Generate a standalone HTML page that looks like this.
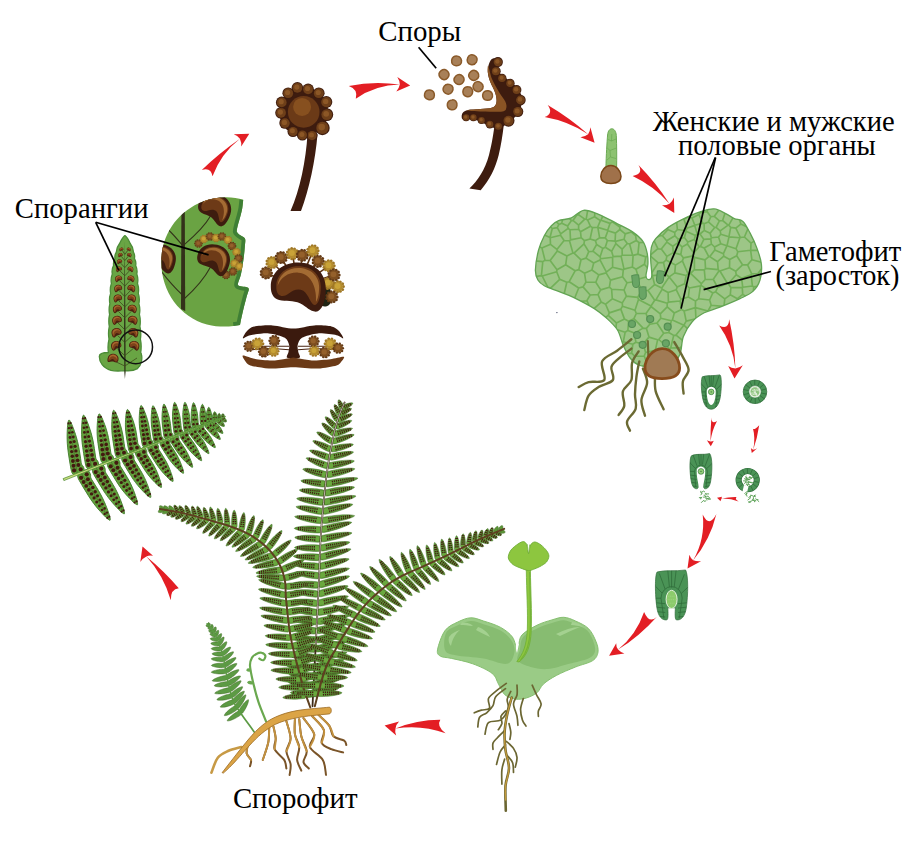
<!DOCTYPE html>
<html lang="ru"><head><meta charset="utf-8"><title>Жизненный цикл папоротника</title>
<style>html,body{margin:0;padding:0;background:#fff}body{width:910px;height:841px;overflow:hidden;font-family:"Liberation Serif",serif}svg{display:block}</style>
</head><body>
<svg width="910" height="841" viewBox="0 0 910 841">
<rect width="910" height="841" fill="#fff"/>
<defs>
<g id="kid"><g transform="scale(0.00606) translate(-290,-312)">
<path d="M125,310 C125,220 200,165 290,165 C390,165 455,230 455,320 C455,400 430,460 395,460 C360,460 340,430 300,410 C260,390 215,400 175,390 C140,380 125,350 125,310 Z" fill="#3e1c0f"/>
<path d="M158,305 C160,235 220,188 290,188 C370,188 425,240 425,310 C425,370 410,420 388,420 C365,420 355,360 320,335 C290,318 260,330 235,350 C215,368 185,372 170,355 C160,345 157,325 158,305 Z" fill="#6d3a17"/>
<path d="M166,305 C170,240 225,198 290,198 C362,198 415,245 415,312 C415,350 408,385 396,402 C402,330 375,232 290,226 C232,222 185,255 166,305 Z" fill="#a36b33"/>
</g></g>
<g id="kids"><g transform="scale(0.00606) translate(-290,-312)">
<path d="M125,310 C125,220 200,165 290,165 C390,165 455,230 455,320 C455,400 430,460 395,460 C360,460 340,430 300,410 C260,390 215,400 175,390 C140,380 125,350 125,310 Z" fill="#4a2010"/>
<path d="M150,300 C155,228 220,180 290,180 C372,180 432,238 432,310 C432,372 414,428 390,428 C365,420 355,360 320,335 C290,318 260,330 235,350 C215,368 180,376 165,358 C153,345 149,322 150,300 Z" fill="#7d421a"/>
<path d="M166,300 C170,236 225,194 290,194 C362,194 418,242 418,312 C418,340 412,372 404,390 C400,320 372,246 290,240 C232,236 190,262 166,300 Z" fill="#a8682e"/>
</g></g>
</defs>
<defs><path id="pn" vector-effect="non-scaling-stroke" d="M0,-0.3 C0.02,-0.42 0.05,-0.47 0.1,-0.47 C0.25,-0.49 0.4,-0.47 0.5,-0.44 C0.66,-0.39 0.8,-0.3 0.9,-0.19 C0.96,-0.12 1,-0.04 1,0 C1,0.04 0.96,0.12 0.9,0.19 C0.8,0.3 0.66,0.39 0.5,0.44 C0.4,0.47 0.25,0.49 0.1,0.47 C0.05,0.47 0.02,0.42 0,0.3 Z"/><path id="pa" vector-effect="non-scaling-stroke" d="M0,-0.3 C0.02,-0.42 0.05,-0.46 0.1,-0.465 C0.2,-0.48 0.4,-0.49 0.5,-0.47 C0.62,-0.44 0.7,-0.38 0.77,-0.32 C0.85,-0.25 0.9,-0.2 0.94,-0.14 C0.98,-0.08 1,-0.03 1,0 C1,0.03 0.98,0.08 0.94,0.14 C0.9,0.2 0.85,0.25 0.77,0.32 C0.7,0.38 0.62,0.44 0.5,0.47 C0.42,0.485 0.3,0.48 0.2,0.475 C0.16,0.475 0.15,0.52 0.13,0.58 C0.1,0.66 0.03,0.66 0.01,0.58 C-0.01,0.5 0,0.3 0,0.2 Z"/></defs>
<g id="frond">
<g fill="#62a03c" stroke="#3f7a2b" stroke-width="0.9"><use href="#pa" transform="matrix(-8.31 -54.32 11.63 -1.78 77.3 474.2)"/><use href="#pa" transform="matrix(-8.19 -53.52 11.66 -1.78 91.7 468.6)"/><use href="#pa" transform="matrix(-7.49 -48.98 11.66 -1.78 106.7 462.8)"/><use href="#pa" transform="matrix(-7.20 -47.04 10.94 -1.67 120.9 457.2)"/><use href="#pa" transform="matrix(-6.52 -42.63 10.66 -1.63 134 452.1)"/><use href="#pa" transform="matrix(-6.20 -41.56 9.94 -1.48 147.3 447)"/><use href="#pa" transform="matrix(-5.10 -37.15 8.74 -1.20 158.1 442.8)"/><use href="#pa" transform="matrix(-4.26 -34.73 8.35 -1.02 168.2 438.8)"/><use href="#pa" transform="matrix(-3.47 -32.67 8.10 -0.86 178.1 435)"/><use href="#pa" transform="matrix(-2.56 -29.02 7.25 -0.64 187.5 431.3)"/><use href="#pa" transform="matrix(-1.77 -25.67 6.79 -0.47 195.3 428.3)"/><use href="#pa" transform="matrix(-1.02 -20.80 6.20 -0.30 203.4 425.1)"/><use href="#pa" transform="matrix(-0.43 -15.54 5.55 -0.15 209.2 422.8)"/><use href="#pa" transform="matrix(-0.05 -8.99 4.69 -0.03 214.8 420.7)"/><use href="#pa" transform="matrix(0.09 -5.59 3.32 0.06 219.1 419)"/><use href="#pa" transform="matrix(0.15 -3.83 2.93 0.12 222.8 417.5)"/><use href="#pa" transform="matrix(29.07 47.43 10.06 -6.17 81 472.8)"/><use href="#pa" transform="matrix(28.64 46.73 10.06 -6.17 95.7 467.1)"/><use href="#pa" transform="matrix(26.71 43.58 10.06 -6.17 110.7 461.2)"/><use href="#pa" transform="matrix(25.66 41.87 9.79 -6.00 125 455.6)"/><use href="#pa" transform="matrix(22.77 37.16 9.09 -5.57 138.6 450.3)"/><use href="#pa" transform="matrix(22.27 35.88 8.60 -5.34 150.7 445.6)"/><use href="#pa" transform="matrix(20.75 32.32 7.82 -5.02 162.7 441)"/><use href="#pa" transform="matrix(20.22 30.07 7.05 -4.74 172.3 437.2)"/><use href="#pa" transform="matrix(19.43 27.28 6.69 -4.77 182.1 433.4)"/><use href="#pa" transform="matrix(17.95 23.60 5.81 -4.42 190.9 430)"/><use href="#pa" transform="matrix(16.80 20.54 5.45 -4.46 198.4 427.1)"/><use href="#pa" transform="matrix(13.79 15.57 4.65 -4.12 206.4 423.9)"/><use href="#pa" transform="matrix(11.12 11.52 3.85 -3.71 211.7 421.9)"/><use href="#pa" transform="matrix(7.00 6.61 3.22 -3.41 217.3 419.7)"/><use href="#pa" transform="matrix(4.51 3.85 2.46 -2.88 221.8 417.9)"/></g>
<path d="M77.3,474.2L69.6,423.7M91.7,468.6L84.1,418.8M106.7,462.8L99.7,417.2M120.9,457.2L114.2,413.5M134,452.1L128,412.5M147.3,447L141.5,408.3M158.1,442.8L153.4,408.2M168.2,438.8L164.2,406.5M178.1,435L174.8,404.6M187.5,431.3L185.1,404.3M195.3,428.3L193.6,404.4M203.4,425.1L202.5,405.8M209.2,422.8L208.8,408.4M214.8,420.7L214.7,412.3M219.1,419L219.2,413.8M222.8,417.5L223,414M81,472.8L108.1,516.9M95.7,467.1L122.3,510.5M110.7,461.2L135.5,501.7M125,455.6L148.9,494.6M138.6,450.3L159.8,484.9M150.7,445.6L171.4,479M162.7,441L181.9,471M172.3,437.2L191.1,465.2M182.1,433.4L200.1,458.8M190.9,430L207.5,451.9M198.4,427.1L214,446.2M206.4,423.9L219.2,438.4M211.7,421.9L222,432.6M217.3,419.7L223.8,425.8M221.8,417.9L226,421.5" stroke="#3c5a22" stroke-width="0.6" fill="none"/>
<g fill="#431a10"><circle cx="74.1" cy="470.4" r="2.1"/><circle cx="80.7" cy="469.4" r="2.1"/><circle cx="73.5" cy="465.7" r="2"/><circle cx="78.4" cy="464.9" r="2"/><circle cx="72.9" cy="461" r="1.9"/><circle cx="77.6" cy="460.3" r="1.9"/><circle cx="72.3" cy="456.3" r="1.8"/><circle cx="76.8" cy="455.6" r="1.8"/><circle cx="71.7" cy="451.6" r="1.7"/><circle cx="75.9" cy="450.9" r="1.7"/><circle cx="71.1" cy="446.9" r="1.6"/><circle cx="75.1" cy="446.3" r="1.6"/><circle cx="70.5" cy="442.2" r="1.5"/><circle cx="74.2" cy="441.6" r="1.5"/><circle cx="70" cy="437.5" r="1.4"/><circle cx="73.3" cy="437" r="1.4"/><circle cx="69.4" cy="432.8" r="1.3"/><circle cx="72.4" cy="432.3" r="1.3"/><circle cx="68.9" cy="428.1" r="1.2"/><circle cx="71.5" cy="427.7" r="1.2"/><circle cx="68.4" cy="423.4" r="1.1"/><circle cx="70.6" cy="423" r="1.1"/><circle cx="88.5" cy="464.9" r="2.1"/><circle cx="95.1" cy="463.9" r="2.1"/><circle cx="87.9" cy="460.2" r="2"/><circle cx="92.8" cy="459.5" r="2"/><circle cx="87.3" cy="455.6" r="1.9"/><circle cx="92" cy="454.9" r="1.9"/><circle cx="86.7" cy="451" r="1.8"/><circle cx="91.2" cy="450.3" r="1.8"/><circle cx="86.1" cy="446.3" r="1.7"/><circle cx="90.4" cy="445.7" r="1.7"/><circle cx="85.5" cy="441.7" r="1.6"/><circle cx="89.5" cy="441.1" r="1.6"/><circle cx="85" cy="437.1" r="1.5"/><circle cx="88.7" cy="436.5" r="1.5"/><circle cx="84.4" cy="432.4" r="1.4"/><circle cx="87.8" cy="431.9" r="1.4"/><circle cx="83.9" cy="427.8" r="1.3"/><circle cx="86.9" cy="427.3" r="1.3"/><circle cx="83.4" cy="423.1" r="1.2"/><circle cx="86" cy="422.7" r="1.2"/><circle cx="82.9" cy="418.5" r="1.1"/><circle cx="85.1" cy="418.2" r="1.1"/><circle cx="103.5" cy="459" r="2.1"/><circle cx="110" cy="458" r="2.1"/><circle cx="102.9" cy="454.4" r="2"/><circle cx="107.8" cy="453.6" r="2"/><circle cx="102.3" cy="449.7" r="1.9"/><circle cx="107" cy="449" r="1.9"/><circle cx="101.7" cy="445.1" r="1.8"/><circle cx="106.2" cy="444.4" r="1.8"/><circle cx="101.2" cy="440.5" r="1.6"/><circle cx="105.3" cy="439.8" r="1.6"/><circle cx="100.6" cy="435.8" r="1.5"/><circle cx="104.4" cy="435.2" r="1.5"/><circle cx="100.1" cy="431.2" r="1.4"/><circle cx="103.5" cy="430.6" r="1.4"/><circle cx="99.6" cy="426.5" r="1.3"/><circle cx="102.7" cy="426" r="1.3"/><circle cx="99.1" cy="421.9" r="1.2"/><circle cx="101.8" cy="421.4" r="1.2"/><circle cx="98.5" cy="417.2" r="1.1"/><circle cx="100.8" cy="416.9" r="1.1"/><circle cx="117.9" cy="453.6" r="2"/><circle cx="124" cy="452.7" r="2"/><circle cx="117.3" cy="449.2" r="1.9"/><circle cx="121.9" cy="448.5" r="1.9"/><circle cx="116.7" cy="444.7" r="1.8"/><circle cx="121.1" cy="444" r="1.8"/><circle cx="116.2" cy="440.3" r="1.7"/><circle cx="120.3" cy="439.6" r="1.7"/><circle cx="115.6" cy="435.8" r="1.6"/><circle cx="119.5" cy="435.2" r="1.6"/><circle cx="115.1" cy="431.3" r="1.5"/><circle cx="118.7" cy="430.8" r="1.5"/><circle cx="114.6" cy="426.9" r="1.4"/><circle cx="117.8" cy="426.4" r="1.4"/><circle cx="114.1" cy="422.4" r="1.2"/><circle cx="117" cy="422" r="1.2"/><circle cx="113.6" cy="417.9" r="1.1"/><circle cx="116.1" cy="417.6" r="1.1"/><circle cx="113.1" cy="413.5" r="1"/><circle cx="115.3" cy="413.1" r="1"/><circle cx="131.1" cy="448.5" r="1.9"/><circle cx="137" cy="447.6" r="1.9"/><circle cx="130.5" cy="444" r="1.8"/><circle cx="135" cy="443.3" r="1.8"/><circle cx="129.9" cy="439.6" r="1.7"/><circle cx="134.2" cy="438.9" r="1.7"/><circle cx="129.4" cy="435.1" r="1.6"/><circle cx="133.4" cy="434.5" r="1.6"/><circle cx="128.9" cy="430.6" r="1.5"/><circle cx="132.5" cy="430.1" r="1.5"/><circle cx="128.4" cy="426.2" r="1.4"/><circle cx="131.7" cy="425.7" r="1.4"/><circle cx="127.9" cy="421.7" r="1.2"/><circle cx="130.8" cy="421.3" r="1.2"/><circle cx="127.4" cy="417.2" r="1.1"/><circle cx="129.9" cy="416.9" r="1.1"/><circle cx="126.9" cy="412.8" r="1"/><circle cx="129" cy="412.4" r="1"/><circle cx="144.5" cy="443.4" r="1.8"/><circle cx="150.1" cy="442.6" r="1.8"/><circle cx="144" cy="439" r="1.7"/><circle cx="148.2" cy="438.4" r="1.7"/><circle cx="143.5" cy="434.7" r="1.6"/><circle cx="147.4" cy="434.1" r="1.6"/><circle cx="142.9" cy="430.4" r="1.5"/><circle cx="146.6" cy="429.8" r="1.5"/><circle cx="142.4" cy="426" r="1.4"/><circle cx="145.8" cy="425.5" r="1.4"/><circle cx="142" cy="421.6" r="1.3"/><circle cx="145" cy="421.2" r="1.3"/><circle cx="141.5" cy="417.3" r="1.2"/><circle cx="144.2" cy="416.9" r="1.2"/><circle cx="141" cy="412.9" r="1"/><circle cx="143.4" cy="412.6" r="1"/><circle cx="140.6" cy="408.6" r="0.9"/><circle cx="142.5" cy="408.3" r="0.9"/><circle cx="155.7" cy="439.1" r="1.6"/><circle cx="160.5" cy="438.5" r="1.6"/><circle cx="155.2" cy="434.8" r="1.5"/><circle cx="158.8" cy="434.3" r="1.5"/><circle cx="154.7" cy="430.5" r="1.4"/><circle cx="158.1" cy="430" r="1.4"/><circle cx="154.2" cy="426.1" r="1.3"/><circle cx="157.4" cy="425.7" r="1.3"/><circle cx="153.8" cy="421.8" r="1.2"/><circle cx="156.6" cy="421.4" r="1.2"/><circle cx="153.4" cy="417.4" r="1"/><circle cx="155.8" cy="417.1" r="1"/><circle cx="152.9" cy="413.1" r="0.9"/><circle cx="155.1" cy="412.8" r="0.9"/><circle cx="152.5" cy="408.7" r="0.8"/><circle cx="154.3" cy="408.5" r="0.8"/><circle cx="165.8" cy="434.9" r="1.5"/><circle cx="170.5" cy="434.4" r="1.5"/><circle cx="165.4" cy="430.4" r="1.4"/><circle cx="168.8" cy="429.9" r="1.4"/><circle cx="165" cy="425.8" r="1.3"/><circle cx="168.1" cy="425.4" r="1.3"/><circle cx="164.6" cy="421.2" r="1.1"/><circle cx="167.4" cy="420.8" r="1.1"/><circle cx="164.2" cy="416.6" r="1"/><circle cx="166.7" cy="416.3" r="1"/><circle cx="163.8" cy="412" r="0.9"/><circle cx="165.9" cy="411.7" r="0.9"/><circle cx="163.4" cy="407.4" r="0.8"/><circle cx="165.2" cy="407.2" r="0.8"/><circle cx="175.9" cy="431.3" r="1.4"/><circle cx="180.4" cy="430.8" r="1.4"/><circle cx="175.5" cy="427" r="1.3"/><circle cx="178.9" cy="426.6" r="1.3"/><circle cx="175.2" cy="422.7" r="1.2"/><circle cx="178.3" cy="422.3" r="1.2"/><circle cx="174.9" cy="418.4" r="1.1"/><circle cx="177.7" cy="418.1" r="1.1"/><circle cx="174.6" cy="414" r="1"/><circle cx="177" cy="413.8" r="1"/><circle cx="174.3" cy="409.7" r="0.9"/><circle cx="176.4" cy="409.5" r="0.9"/><circle cx="174.1" cy="405.4" r="0.8"/><circle cx="175.8" cy="405.2" r="0.8"/><circle cx="185.5" cy="427.5" r="1.3"/><circle cx="189.5" cy="427.1" r="1.3"/><circle cx="185.3" cy="423.1" r="1.2"/><circle cx="188.2" cy="422.8" r="1.2"/><circle cx="185" cy="418.7" r="1"/><circle cx="187.6" cy="418.5" r="1"/><circle cx="184.8" cy="414.3" r="0.9"/><circle cx="187.1" cy="414.1" r="0.9"/><circle cx="184.6" cy="409.9" r="0.8"/><circle cx="186.5" cy="409.7" r="0.8"/><circle cx="184.4" cy="405.4" r="0.7"/><circle cx="185.9" cy="405.3" r="0.7"/><circle cx="193.5" cy="424.2" r="1.2"/><circle cx="197.2" cy="424" r="1.2"/><circle cx="193.4" cy="419.7" r="1.1"/><circle cx="196" cy="419.5" r="1.1"/><circle cx="193.2" cy="415.1" r="0.9"/><circle cx="195.5" cy="414.9" r="0.9"/><circle cx="193.1" cy="410.5" r="0.8"/><circle cx="195" cy="410.3" r="0.8"/><circle cx="193" cy="405.9" r="0.7"/><circle cx="194.5" cy="405.8" r="0.7"/><circle cx="201.9" cy="421.1" r="1.1"/><circle cx="205.2" cy="420.9" r="1.1"/><circle cx="201.9" cy="416.6" r="0.9"/><circle cx="204.1" cy="416.5" r="0.9"/><circle cx="201.8" cy="412" r="0.8"/><circle cx="203.7" cy="411.9" r="0.8"/><circle cx="201.8" cy="407.5" r="0.6"/><circle cx="203.3" cy="407.4" r="0.6"/><circle cx="208" cy="419" r="0.9"/><circle cx="210.9" cy="418.9" r="0.9"/><circle cx="208.1" cy="414.7" r="0.7"/><circle cx="209.9" cy="414.6" r="0.7"/><circle cx="208.2" cy="410.3" r="0.6"/><circle cx="209.6" cy="410.3" r="0.6"/><circle cx="213.8" cy="417.6" r="0.7"/><circle cx="216.1" cy="417.6" r="0.7"/><circle cx="214.1" cy="414.1" r="0.5"/><circle cx="215.3" cy="414.1" r="0.5"/><circle cx="218.5" cy="417" r="0.5"/><circle cx="220.1" cy="417.1" r="0.5"/><circle cx="218.7" cy="414.9" r="0.4"/><circle cx="219.6" cy="414.9" r="0.4"/><circle cx="222.3" cy="416.2" r="0.5"/><circle cx="223.8" cy="416.2" r="0.5"/><circle cx="222.6" cy="414.7" r="0.3"/><circle cx="223.4" cy="414.7" r="0.3"/><circle cx="86.7" cy="474.3" r="2.1"/><circle cx="81.1" cy="477.8" r="2.1"/><circle cx="87.9" cy="479.2" r="2"/><circle cx="83.6" cy="481.9" r="2"/><circle cx="90.4" cy="483.4" r="1.9"/><circle cx="86.2" cy="485.9" r="1.9"/><circle cx="92.8" cy="487.5" r="1.8"/><circle cx="88.8" cy="489.9" r="1.8"/><circle cx="95.2" cy="491.7" r="1.7"/><circle cx="91.5" cy="493.9" r="1.7"/><circle cx="97.5" cy="495.8" r="1.6"/><circle cx="94.1" cy="497.9" r="1.6"/><circle cx="99.9" cy="500" r="1.5"/><circle cx="96.7" cy="502" r="1.5"/><circle cx="102.3" cy="504.2" r="1.4"/><circle cx="99.4" cy="506" r="1.4"/><circle cx="104.6" cy="508.4" r="1.3"/><circle cx="102" cy="510" r="1.3"/><circle cx="107" cy="512.6" r="1.2"/><circle cx="104.7" cy="513.9" r="1.2"/><circle cx="109.3" cy="516.7" r="1.1"/><circle cx="107.4" cy="517.9" r="1.1"/><circle cx="101.3" cy="468.6" r="2.1"/><circle cx="95.7" cy="472.1" r="2.1"/><circle cx="102.5" cy="473.4" r="2"/><circle cx="98.2" cy="476" r="2"/><circle cx="104.9" cy="477.5" r="1.9"/><circle cx="100.8" cy="480" r="1.9"/><circle cx="107.3" cy="481.6" r="1.8"/><circle cx="103.3" cy="484" r="1.8"/><circle cx="109.6" cy="485.7" r="1.7"/><circle cx="105.9" cy="487.9" r="1.7"/><circle cx="111.9" cy="489.8" r="1.6"/><circle cx="108.5" cy="491.9" r="1.6"/><circle cx="114.3" cy="493.9" r="1.5"/><circle cx="111.1" cy="495.8" r="1.5"/><circle cx="116.6" cy="498" r="1.4"/><circle cx="113.7" cy="499.8" r="1.4"/><circle cx="118.9" cy="502.1" r="1.3"/><circle cx="116.3" cy="503.7" r="1.3"/><circle cx="121.2" cy="506.3" r="1.2"/><circle cx="119" cy="507.7" r="1.2"/><circle cx="123.5" cy="510.4" r="1.1"/><circle cx="121.6" cy="511.6" r="1.1"/><circle cx="116.4" cy="462.8" r="2.1"/><circle cx="110.7" cy="466.3" r="2.1"/><circle cx="117.6" cy="467.7" r="2"/><circle cx="113.3" cy="470.3" r="2"/><circle cx="120" cy="471.9" r="1.9"/><circle cx="116" cy="474.4" r="1.9"/><circle cx="122.4" cy="476.1" r="1.8"/><circle cx="118.6" cy="478.4" r="1.8"/><circle cx="124.8" cy="480.3" r="1.6"/><circle cx="121.3" cy="482.5" r="1.6"/><circle cx="127.2" cy="484.5" r="1.5"/><circle cx="123.9" cy="486.5" r="1.5"/><circle cx="129.6" cy="488.7" r="1.4"/><circle cx="126.6" cy="490.5" r="1.4"/><circle cx="131.9" cy="492.9" r="1.3"/><circle cx="129.3" cy="494.5" r="1.3"/><circle cx="134.3" cy="497.1" r="1.2"/><circle cx="132" cy="498.5" r="1.2"/><circle cx="136.6" cy="501.3" r="1.1"/><circle cx="134.6" cy="502.5" r="1.1"/><circle cx="130.6" cy="457.1" r="2.1"/><circle cx="125.1" cy="460.5" r="2.1"/><circle cx="131.7" cy="461.9" r="2"/><circle cx="127.6" cy="464.4" r="2"/><circle cx="134" cy="465.9" r="1.9"/><circle cx="130.1" cy="468.3" r="1.9"/><circle cx="136.3" cy="469.9" r="1.7"/><circle cx="132.6" cy="472.2" r="1.7"/><circle cx="138.6" cy="473.9" r="1.6"/><circle cx="135.2" cy="476.1" r="1.6"/><circle cx="140.9" cy="478" r="1.5"/><circle cx="137.7" cy="479.9" r="1.5"/><circle cx="143.2" cy="482" r="1.4"/><circle cx="140.3" cy="483.8" r="1.4"/><circle cx="145.5" cy="486" r="1.3"/><circle cx="142.9" cy="487.6" r="1.3"/><circle cx="147.7" cy="490.1" r="1.2"/><circle cx="145.5" cy="491.5" r="1.2"/><circle cx="150" cy="494.1" r="1.1"/><circle cx="148" cy="495.3" r="1.1"/><circle cx="143.9" cy="451.9" r="1.9"/><circle cx="138.8" cy="455" r="1.9"/><circle cx="145" cy="456.5" r="1.8"/><circle cx="141.2" cy="458.9" r="1.8"/><circle cx="147.3" cy="460.5" r="1.7"/><circle cx="143.7" cy="462.7" r="1.7"/><circle cx="149.6" cy="464.4" r="1.6"/><circle cx="146.2" cy="466.5" r="1.6"/><circle cx="151.8" cy="468.4" r="1.5"/><circle cx="148.7" cy="470.3" r="1.5"/><circle cx="154" cy="472.3" r="1.3"/><circle cx="151.2" cy="474" r="1.3"/><circle cx="156.2" cy="476.3" r="1.2"/><circle cx="153.7" cy="477.8" r="1.2"/><circle cx="158.4" cy="480.3" r="1.1"/><circle cx="156.3" cy="481.6" r="1.1"/><circle cx="160.6" cy="484.2" r="1"/><circle cx="158.8" cy="485.3" r="1"/><circle cx="155.8" cy="447.2" r="1.8"/><circle cx="150.9" cy="450.2" r="1.8"/><circle cx="157" cy="451.6" r="1.7"/><circle cx="153.3" cy="453.8" r="1.7"/><circle cx="159.2" cy="455.4" r="1.6"/><circle cx="155.7" cy="457.5" r="1.6"/><circle cx="161.4" cy="459.2" r="1.5"/><circle cx="158.2" cy="461.2" r="1.5"/><circle cx="163.6" cy="463" r="1.4"/><circle cx="160.6" cy="464.8" r="1.4"/><circle cx="165.7" cy="466.8" r="1.3"/><circle cx="163.1" cy="468.5" r="1.3"/><circle cx="167.9" cy="470.7" r="1.2"/><circle cx="165.6" cy="472.1" r="1.2"/><circle cx="170.1" cy="474.5" r="1.1"/><circle cx="168" cy="475.8" r="1.1"/><circle cx="172.2" cy="478.4" r="0.9"/><circle cx="170.5" cy="479.4" r="0.9"/><circle cx="167.5" cy="442.7" r="1.7"/><circle cx="163.1" cy="445.5" r="1.7"/><circle cx="168.9" cy="447.1" r="1.6"/><circle cx="165.6" cy="449.2" r="1.6"/><circle cx="171.2" cy="450.9" r="1.4"/><circle cx="168.1" cy="452.9" r="1.4"/><circle cx="173.5" cy="454.7" r="1.3"/><circle cx="170.7" cy="456.5" r="1.3"/><circle cx="175.7" cy="458.6" r="1.2"/><circle cx="173.2" cy="460.2" r="1.2"/><circle cx="178" cy="462.4" r="1.1"/><circle cx="175.8" cy="463.9" r="1.1"/><circle cx="180.3" cy="466.3" r="1"/><circle cx="178.3" cy="467.5" r="1"/><circle cx="182.5" cy="470.2" r="0.9"/><circle cx="180.9" cy="471.2" r="0.9"/><circle cx="177.1" cy="439.2" r="1.5"/><circle cx="173.1" cy="441.8" r="1.5"/><circle cx="178.8" cy="443.8" r="1.4"/><circle cx="175.9" cy="445.7" r="1.4"/><circle cx="181.3" cy="447.8" r="1.3"/><circle cx="178.7" cy="449.6" r="1.3"/><circle cx="183.9" cy="451.9" r="1.2"/><circle cx="181.5" cy="453.5" r="1.2"/><circle cx="186.4" cy="455.9" r="1"/><circle cx="184.3" cy="457.3" r="1"/><circle cx="188.9" cy="460" r="0.9"/><circle cx="187.1" cy="461.2" r="0.9"/><circle cx="191.4" cy="464" r="0.8"/><circle cx="189.9" cy="465" r="0.8"/><circle cx="186.6" cy="435" r="1.5"/><circle cx="182.9" cy="437.7" r="1.5"/><circle cx="188.3" cy="439.3" r="1.3"/><circle cx="185.6" cy="441.2" r="1.3"/><circle cx="190.7" cy="442.9" r="1.2"/><circle cx="188.2" cy="444.7" r="1.2"/><circle cx="193.2" cy="446.6" r="1.1"/><circle cx="190.9" cy="448.2" r="1.1"/><circle cx="195.6" cy="450.3" r="1"/><circle cx="193.6" cy="451.7" r="1"/><circle cx="198" cy="454" r="0.9"/><circle cx="196.3" cy="455.2" r="0.9"/><circle cx="200.4" cy="457.7" r="0.8"/><circle cx="199" cy="458.7" r="0.8"/><circle cx="195.2" cy="431.7" r="1.3"/><circle cx="192" cy="434.2" r="1.3"/><circle cx="197.2" cy="435.9" r="1.2"/><circle cx="194.9" cy="437.7" r="1.2"/><circle cx="199.8" cy="439.6" r="1.1"/><circle cx="197.7" cy="441.2" r="1.1"/><circle cx="202.4" cy="443.2" r="0.9"/><circle cx="200.5" cy="444.6" r="0.9"/><circle cx="205" cy="446.9" r="0.8"/><circle cx="203.4" cy="448.1" r="0.8"/><circle cx="207.5" cy="450.6" r="0.7"/><circle cx="206.3" cy="451.6" r="0.7"/><circle cx="202.9" cy="428.9" r="1.2"/><circle cx="199.9" cy="431.3" r="1.2"/><circle cx="205.2" cy="433.2" r="1.1"/><circle cx="203" cy="434.9" r="1.1"/><circle cx="208" cy="436.9" r="1"/><circle cx="206.2" cy="438.5" r="1"/><circle cx="210.9" cy="440.7" r="0.8"/><circle cx="209.3" cy="442" r="0.8"/><circle cx="213.7" cy="444.5" r="0.7"/><circle cx="212.5" cy="445.5" r="0.7"/><circle cx="210.6" cy="425.6" r="1.1"/><circle cx="208.1" cy="427.8" r="1.1"/><circle cx="213" cy="429.6" r="0.9"/><circle cx="211.2" cy="431.1" r="0.9"/><circle cx="215.8" cy="433.1" r="0.8"/><circle cx="214.4" cy="434.4" r="0.8"/><circle cx="218.6" cy="436.7" r="0.6"/><circle cx="217.6" cy="437.6" r="0.6"/><circle cx="215.7" cy="423.6" r="0.9"/><circle cx="213.7" cy="425.5" r="0.9"/><circle cx="218.2" cy="427.3" r="0.7"/><circle cx="216.9" cy="428.6" r="0.7"/><circle cx="221.1" cy="430.7" r="0.6"/><circle cx="220.2" cy="431.6" r="0.6"/><circle cx="220.7" cy="421" r="0.7"/><circle cx="219.1" cy="422.6" r="0.7"/><circle cx="222.9" cy="424.1" r="0.5"/><circle cx="222" cy="425" r="0.5"/><circle cx="224.1" cy="418.4" r="0.6"/><circle cx="222.9" cy="419.8" r="0.6"/><circle cx="225.4" cy="420.4" r="0.4"/><circle cx="224.8" cy="421.2" r="0.4"/></g>
<path d="M63.1,478.6 L225.4,416.3 L225.6,416.7 L63.9,480.6 Z" fill="#c9dc7e" stroke="#4c8a30" stroke-width="0.7" stroke-linejoin="round"/>
</g>
<g id="fern">
<path d="M269.2,727.8 C269,730.3 269.3,737.4 268.2,742.8 C267.1,748.1 263.7,757 262.8,759.9 M273.5,726.7 C273.9,728.7 275.5,734.8 275.7,738.5 C275.9,742.2 273.2,745.6 274.6,749.2 C276,752.8 282.2,756.7 284.2,759.9 C286.2,763.1 286,767.1 286.4,768.5 M286.4,721.3 C287.1,724.2 290.6,733.5 290.6,738.5 C290.6,743.5 286.4,747 286.4,751.3 C286.4,755.6 290.1,760.3 290.6,764.2 C291.1,768.1 289.8,773.1 289.6,774.9 M294.9,719.2 C294.9,721.7 294.2,729.6 294.9,734.2 C295.6,738.8 298.8,742.7 299.2,747 C299.6,751.3 296.8,756 297.1,759.9 C297.5,763.8 300.6,768.8 301.3,770.6 M299.2,719.2 C299.6,722.1 300.1,730.9 301.3,736.3 C302.6,741.6 306.3,747 306.7,751.3 C307.1,755.6 303.1,759.1 303.5,762 C303.9,764.9 307.9,767.4 308.8,768.5 M303.5,718.1 C305.3,720.8 313.1,729.4 314.2,734.2 C315.3,739 308.5,742.7 309.9,747 C311.3,751.3 320.1,755.2 322.8,759.9 C325.5,764.5 325.5,772.4 326,774.9 M312.1,716 C314.1,718.3 322.2,725.4 323.8,729.9 C325.4,734.4 320.4,739.6 321.7,742.8 C322.9,746 327.7,747.6 331.3,749.2 C334.9,750.8 341.1,751.9 343.1,752.4 M318.5,714.9 C320.3,716.7 326.7,722 329.2,725.6 C331.7,729.2 331,733.8 333.5,736.3 C336,738.8 342.1,739.2 344.2,740.6 C346.3,742 345.9,744.2 346.3,744.9 M247.8,744.9 C247.6,746.3 246.2,751 246.7,753.5 C247.2,756 250.4,757.8 251,759.9 C251.6,762 250.2,765.2 250,766.3" fill="none" stroke="#7a5428" stroke-width="2" stroke-linecap="round"/>
<path d="M269.2,727.8 C269,730.3 269.3,737.4 268.2,742.8 C267.1,748.1 263.7,757 262.8,759.9 M273.5,726.7 C273.9,728.7 275.5,734.8 275.7,738.5 C275.9,742.2 274.8,747.4 274.6,749.2 M286.4,721.3 C287.1,724.2 290.6,733.5 290.6,738.5 C290.6,743.5 287.1,749.2 286.4,751.3 M294.9,719.2 C294.9,721.7 294.2,729.6 294.9,734.2 C295.6,738.8 298.5,744.9 299.2,747 M299.2,719.2 C299.6,722.1 300.1,730.9 301.3,736.3 C302.6,741.6 305.8,748.8 306.7,751.3 M303.5,718.1 C305.3,720.8 313.1,729.4 314.2,734.2 C315.3,739 310.6,744.9 309.9,747 M312.1,716 C314.1,718.3 322.2,725.4 323.8,729.9 C325.4,734.4 322.1,740.6 321.7,742.8 M318.5,714.9 C320.3,716.7 326.7,722 329.2,725.6 C331.7,729.2 332.8,734.5 333.5,736.3 M247.8,744.9 C247.6,746.3 246.2,751 246.7,753.5 C247.2,756 250.3,758.8 251,759.9" fill="none" stroke="#c2913f" stroke-width="1.9" stroke-linecap="round"/>
<path d="M241.4,747 C239.2,747.7 231.9,749.2 228,751 C224.1,752.8 220.6,754.1 217.8,757.7 C215,761.3 212.5,770.2 211.4,772.7" fill="none" stroke="#c79a45" stroke-width="2.6" stroke-linecap="round"/>
<g fill="#5c9a44" stroke="#456f28" stroke-width="0.5" ><use href="#pn" transform="matrix(8.14 -12.85 4.22 2.67 240.3 712.5)"/><use href="#pn" transform="matrix(-13.07 8.36 -2.70 -4.21 240.3 712.5)"/><use href="#pn" transform="matrix(9.19 -12.46 4.02 2.97 236.6 707.3)"/><use href="#pn" transform="matrix(-12.29 8.25 -2.79 -4.15 236.6 707.3)"/><use href="#pn" transform="matrix(10.74 -10.58 3.51 3.56 233.6 701.8)"/><use href="#pn" transform="matrix(-13.34 5.08 -1.78 -4.67 233.6 701.8)"/><use href="#pn" transform="matrix(11.26 -9.08 3.14 3.89 231.4 695.9)"/><use href="#pn" transform="matrix(-14.49 3.73 -1.25 -4.84 231.4 695.9)"/><use href="#pn" transform="matrix(11.30 -8.97 3.11 3.92 229.8 689.8)"/><use href="#pn" transform="matrix(-15.09 3.44 -1.11 -4.87 229.8 689.8)"/><use href="#pn" transform="matrix(12.13 -7.65 2.67 4.23 228.4 683.7)"/><use href="#pn" transform="matrix(-14.17 2.00 -0.70 -4.95 228.4 683.7)"/><use href="#pn" transform="matrix(11.90 -7.73 2.71 4.18 227.1 677.5)"/><use href="#pn" transform="matrix(-14.94 3.26 -1.06 -4.87 227.1 677.5)"/><use href="#pn" transform="matrix(11.10 -7.88 2.82 3.97 225.8 671.4)"/><use href="#pn" transform="matrix(-14.52 0.77 -0.26 -4.87 225.8 671.4)"/><use href="#pn" transform="matrix(11.30 -7.68 2.66 3.91 224.7 665.4)"/><use href="#pn" transform="matrix(-13.29 0.00 -0.00 -4.73 224.7 665.4)"/><use href="#pn" transform="matrix(9.84 -7.73 2.82 3.59 223.7 659.6)"/><use href="#pn" transform="matrix(-12.53 -0.74 0.27 -4.56 223.7 659.6)"/><use href="#pn" transform="matrix(8.09 -6.89 2.85 3.35 222.5 654.1)"/><use href="#pn" transform="matrix(-10.48 -0.30 0.12 -4.39 222.5 654.1)"/><use href="#pn" transform="matrix(5.81 -7.19 3.28 2.65 220.9 649)"/><use href="#pn" transform="matrix(-9.77 -0.36 0.15 -4.21 220.9 649)"/><use href="#pn" transform="matrix(4.82 -7.18 3.35 2.25 219.1 644.2)"/><use href="#pn" transform="matrix(-8.30 -0.78 0.38 -4.02 219.1 644.2)"/><use href="#pn" transform="matrix(4.12 -6.04 3.19 2.18 217.4 639.7)"/><use href="#pn" transform="matrix(-7.24 -1.03 0.54 -3.82 217.4 639.7)"/><use href="#pn" transform="matrix(2.86 -5.16 3.22 1.79 215.6 635.5)"/><use href="#pn" transform="matrix(-5.69 -1.49 0.94 -3.56 215.6 635.5)"/><use href="#pn" transform="matrix(2.11 -4.79 3.22 1.42 213.7 631.7)"/><use href="#pn" transform="matrix(-5.11 -0.96 0.65 -3.46 213.7 631.7)"/><use href="#pn" transform="matrix(0.45 -3.98 3.33 0.38 211.6 628.3)"/><use href="#pn" transform="matrix(-3.79 -0.18 0.16 -3.35 211.6 628.3)"/><use href="#pn" transform="matrix(-0.46 -3.04 3.16 -0.47 209 625.6)"/><use href="#pn" transform="matrix(-3.01 0.17 -0.18 -3.19 209 625.6)"/></g>
<path d="M254.2,732 L250.7,727.1 L247.2,722.3 L243.7,717.4 L240.3,712.5 L236.8,707.6 L233.8,702.4 L231.7,696.8 L230,691 L228.7,685.1 L227.5,679.3 L226.2,673.4 L225.1,667.5 L224.1,661.6 L222.9,655.7 L221.2,650 L219.2,644.3 L217,638.7 L214.5,633.3 L211.5,628.1 L207.2,624 L207.1,623.9" stroke="#5c9a44" stroke-width="1.7" fill="none" stroke-linecap="round"/>
<path d="M266,721.3 C264.8,718.1 260.6,708.5 258.5,702.1 C256.4,695.7 254.6,688.9 253.2,682.8 C251.8,676.7 250.2,669.9 250,665.7 C249.8,661.5 250.9,659.6 252,657.6 C253.1,655.6 254.8,654.7 256.4,653.9 C258,653.1 260.2,652.4 261.7,652.8 C263.2,653.1 265.1,654.8 265.4,656 C265.6,657.2 264.2,659.8 263.2,660.2 C262.2,660.6 259.9,658.9 259.3,658.6" fill="none" stroke="#6aa84f" stroke-width="2.2" stroke-linecap="round"/>
<path d="M253,682 q-4.5,-3 -6,0.6 q2,3 6.6,1.4 Z M250.8,669 q-4,-2 -4.6,1.4 q2.4,2.2 5,0.6 Z" fill="#6aa84f"/>
<g fill="#5b9537" stroke="#456f28" stroke-width="0.5" ><use href="#pn" transform="matrix(26.39 -6.84 1.68 6.47 313.1 694.3)"/><use href="#pn" transform="matrix(-22.78 -1.76 0.52 -6.66 313.1 694.3)"/><use href="#pn" transform="matrix(28.16 -7.84 1.82 6.54 313.6 685.6)"/><use href="#pn" transform="matrix(-25.13 -3.33 0.89 -6.73 313.6 685.6)"/><use href="#pn" transform="matrix(29.22 -5.88 1.36 6.77 314.1 676.8)"/><use href="#pn" transform="matrix(-24.87 -2.29 0.63 -6.88 314.1 676.8)"/><use href="#pn" transform="matrix(29.32 -7.82 1.80 6.76 314.5 667.7)"/><use href="#pn" transform="matrix(-27.43 -1.59 0.40 -6.99 314.5 667.7)"/><use href="#pn" transform="matrix(31.98 -6.22 1.34 6.87 315 658.6)"/><use href="#pn" transform="matrix(-25.34 -3.03 0.83 -6.95 315 658.6)"/><use href="#pn" transform="matrix(31.03 -7.82 1.71 6.79 315.5 649.4)"/><use href="#pn" transform="matrix(-27.11 -3.03 0.78 -6.96 315.5 649.4)"/><use href="#pn" transform="matrix(29.75 -5.66 1.31 6.88 316 640.2)"/><use href="#pn" transform="matrix(-26.66 -2.61 0.68 -6.97 316 640.2)"/><use href="#pn" transform="matrix(29.79 -6.88 1.58 6.82 316.5 631)"/><use href="#pn" transform="matrix(-25.15 -2.11 0.59 -6.98 316.5 631)"/><use href="#pn" transform="matrix(32.22 -5.94 1.27 6.88 316.9 621.8)"/><use href="#pn" transform="matrix(-25.70 -2.35 0.64 -6.97 316.9 621.8)"/><use href="#pn" transform="matrix(31.29 -5.87 1.29 6.88 317.4 612.6)"/><use href="#pn" transform="matrix(-27.04 -3.42 0.88 -6.94 317.4 612.6)"/><use href="#pn" transform="matrix(30.51 -7.09 1.58 6.82 317.9 603.4)"/><use href="#pn" transform="matrix(-26.03 -2.49 0.67 -6.97 317.9 603.4)"/><use href="#pn" transform="matrix(29.89 -8.14 1.84 6.75 318.3 594.2)"/><use href="#pn" transform="matrix(-24.95 -2.92 0.81 -6.95 318.3 594.2)"/><use href="#pn" transform="matrix(30.76 -8.84 1.93 6.73 318.8 585.1)"/><use href="#pn" transform="matrix(-26.38 -1.55 0.41 -6.99 318.8 585.1)"/><use href="#pn" transform="matrix(30.19 -7.46 1.68 6.80 319.2 575.9)"/><use href="#pn" transform="matrix(-25.32 -3.23 0.89 -6.94 319.2 575.9)"/><use href="#pn" transform="matrix(29.66 -7.72 1.76 6.77 319.5 566.7)"/><use href="#pn" transform="matrix(-25.65 -2.12 0.58 -6.98 319.5 566.7)"/><use href="#pn" transform="matrix(31.27 -8.43 1.82 6.76 319.8 557.5)"/><use href="#pn" transform="matrix(-26.46 -1.25 0.33 -6.99 319.8 557.5)"/><use href="#pn" transform="matrix(29.73 -5.97 1.38 6.86 320.1 548.3)"/><use href="#pn" transform="matrix(-25.60 -0.71 0.19 -7.00 320.1 548.3)"/><use href="#pn" transform="matrix(31.37 -6.17 1.35 6.87 320.6 539.1)"/><use href="#pn" transform="matrix(-25.83 -1.67 0.45 -6.99 320.6 539.1)"/><use href="#pn" transform="matrix(30.57 -7.49 1.67 6.80 321.1 529.9)"/><use href="#pn" transform="matrix(-26.81 -1.61 0.42 -6.99 321.1 529.9)"/><use href="#pn" transform="matrix(32.69 -4.89 1.04 6.92 321.9 520.7)"/><use href="#pn" transform="matrix(-27.25 -4.09 1.04 -6.92 321.9 520.7)"/><use href="#pn" transform="matrix(30.09 -7.15 1.62 6.81 322.7 511.6)"/><use href="#pn" transform="matrix(-26.63 -4.85 1.25 -6.89 322.7 511.6)"/><use href="#pn" transform="matrix(32.41 -6.29 1.33 6.87 323.6 502.4)"/><use href="#pn" transform="matrix(-26.90 -3.92 1.01 -6.93 323.6 502.4)"/><use href="#pn" transform="matrix(30.01 -6.07 1.39 6.86 324.5 493.3)"/><use href="#pn" transform="matrix(-25.15 -3.30 0.91 -6.94 324.5 493.3)"/><use href="#pn" transform="matrix(32.38 -5.84 1.24 6.87 325.5 484.1)"/><use href="#pn" transform="matrix(-24.67 -3.34 0.94 -6.92 325.5 484.1)"/><use href="#pn" transform="matrix(28.26 -6.16 1.46 6.68 326.6 475)"/><use href="#pn" transform="matrix(-23.86 -5.96 1.65 -6.63 326.6 475)"/><use href="#pn" transform="matrix(26.40 -5.27 1.30 6.52 327.9 466.2)"/><use href="#pn" transform="matrix(-21.75 -8.08 2.32 -6.23 327.9 466.2)"/><use href="#pn" transform="matrix(24.23 -5.68 1.47 6.28 329.3 457.7)"/><use href="#pn" transform="matrix(-19.67 -7.28 2.24 -6.05 329.3 457.7)"/><use href="#pn" transform="matrix(22.54 -5.04 1.36 6.09 330.8 449.5)"/><use href="#pn" transform="matrix(-17.97 -8.63 2.70 -5.62 330.8 449.5)"/><use href="#pn" transform="matrix(21.82 -6.98 1.83 5.74 332.3 441.7)"/><use href="#pn" transform="matrix(-15.49 -9.62 3.18 -5.12 332.3 441.7)"/><use href="#pn" transform="matrix(18.63 -5.78 1.72 5.55 333.9 434.2)"/><use href="#pn" transform="matrix(-11.97 -11.16 3.96 -4.25 333.9 434.2)"/><use href="#pn" transform="matrix(16.16 -6.50 2.09 5.20 335.6 427.1)"/><use href="#pn" transform="matrix(-10.34 -10.21 3.94 -3.99 335.6 427.1)"/><use href="#pn" transform="matrix(14.83 -6.30 2.11 4.97 337.5 420.4)"/><use href="#pn" transform="matrix(-7.00 -10.86 4.53 -2.92 337.5 420.4)"/><use href="#pn" transform="matrix(11.91 -5.56 2.20 4.71 339.6 414.1)"/><use href="#pn" transform="matrix(-5.13 -9.62 4.58 -2.44 339.6 414.1)"/><use href="#pn" transform="matrix(10.80 -5.09 2.13 4.52 342 408.3)"/><use href="#pn" transform="matrix(-3.30 -8.54 4.66 -1.80 342 408.3)"/></g>
<path d="M314.1,694.1L318.4,692.9M312.1,694.2L308.6,694M314.6,685.4L319.2,684.1M312.6,685.5L308.6,685M315,676.6L319.9,675.6M313.1,676.7L309.1,676.3M315.5,667.5L320.4,666.2M313.5,667.7L309.1,667.4M316,658.4L321.4,657.3M314,658.4L310,658M316.5,649.1L321.7,647.8M314.5,649.3L310.1,648.8M317,640L321.9,639.1M315,640.1L310.7,639.7M317.4,630.8L322.4,629.6M315.5,630.9L311.4,630.6M317.9,621.6L323.4,620.6M315.9,621.7L311.8,621.3M318.4,612.4L323.7,611.4M316.4,612.5L312,611.9M318.8,603.2L324,602M316.9,603.3L312.7,602.9M319.3,594L324.3,592.6M317.3,594.1L313.3,593.7M319.7,584.8L324.9,583.3M317.8,585L313.5,584.7M320.1,575.6L325.2,574.4M318.2,575.7L314.1,575.2M320.5,566.4L325.4,565.1M318.5,566.6L314.4,566.2M320.8,557.2L326.1,555.8M318.8,557.4L314.5,557.2M321.1,548.1L326.1,547.1M319.1,548.3L315,548.1M321.5,538.9L326.8,537.9M319.6,539L315.4,538.8M322.1,529.7L327.3,528.4M320.1,529.9L315.8,529.6M322.9,520.6L328.4,519.8M320.9,520.6L316.4,519.9M323.7,511.4L328.8,510.2M321.8,511.4L317.4,510.6M324.6,502.2L330.1,501.2M322.6,502.3L318.3,501.6M325.5,493.1L330.5,492.1M323.6,493.1L319.5,492.6M326.5,483.9L332,483M324.5,484L320.6,483.5M327.6,474.8L332.3,473.8M325.6,474.8L321.8,473.8M328.9,466L333.2,465.1M326.9,465.8L323.5,464.6M330.3,457.4L334.1,456.5M328.3,457.3L325.3,456.2M331.7,449.3L335.3,448.5M329.9,449L327.2,447.8M333.3,441.4L336.7,440.3M331.5,441.1L329.2,439.7M334.9,433.9L337.6,433M333.2,433.5L331.5,432M336.5,426.7L338.8,425.8M334.9,426.4L333.5,425.1M338.4,420L340.5,419.2M337,419.6L336.1,418.2M340.5,413.7L342,413M339.1,413.2L338.6,412.2M342.9,407.9L344.2,407.3M341.6,407.4L341.3,406.6" stroke="#6aa83e" stroke-width="4.3" fill="none"/>
<path d="M318.1,691.7L336.7,687.4M318.8,694.2L337.1,688.9M308.5,695.3L292.6,693.5M308.7,692.6L292.7,692M318.9,682.8L338.7,677.9M319.6,685.4L339.1,679.3M308.4,686.3L290.9,683.4M308.8,683.6L291.1,681.9M319.6,674.3L340.2,670.8M320.2,677L340.5,672.2M309,677.7L291.6,675.5M309.2,675L291.8,674M320.1,664.8L340.7,660M320.8,667.5L341.1,661.5M309,668.8L289.8,667.1M309.1,666L289.9,665.5M321.2,655.9L343.7,652.2M321.7,658.7L344,653.7M309.8,659.3L292.1,656.6M310.1,656.6L292.3,655.1M321.4,646.5L343.3,641.6M322.1,649.2L343.6,643.1M309.9,650.2L291,647.4M310.2,647.4L291.2,645.9M321.7,637.7L342.6,634.3M322.2,640.4L342.9,635.9M310.5,641.1L291.9,638.6M310.8,638.3L292.1,637.1M322.1,628.3L343.1,624.1M322.7,631L343.4,625.6M311.3,632L293.8,629.9M311.6,629.2L293.9,628.3M323.1,619.2L345.8,615.7M323.6,622L346.1,617.2M311.7,622.7L293.7,620.5M311.9,619.9L293.9,618.9M323.4,610.1L345.4,606.6M323.9,612.8L345.7,608.1M311.8,613.3L293,610.3M312.2,610.5L293.2,608.8M323.7,600.7L345.2,596.3M324.3,603.4L345.5,597.8M312.5,604.3L294.4,602M312.8,601.5L294.5,600.4M323.9,591.3L345,586.2M324.7,594L345.4,587.7M313.2,595.1L295.8,592.4M313.5,592.3L296,590.9M324.5,581.9L346.2,576.4M325.3,584.6L346.7,577.8M313.4,586.1L295,584.4M313.6,583.3L295.1,582.9M324.9,573L346.2,568.4M325.6,575.7L346.5,569.9M313.9,576.6L296.3,573.7M314.3,573.8L296.5,572.2M325.1,563.8L346,559M325.8,566.5L346.4,560.5M314.3,567.6L296.4,565.5M314.5,564.9L296.5,564M325.7,554.4L347.7,549.1M326.4,557.1L348.1,550.6M314.4,558.6L296,557.1M314.6,555.8L296,555.6M325.8,545.7L346.7,542.2M326.3,548.5L347,543.7M315,549.5L297,548.4M315,546.7L297.1,546.9M326.6,536.5L348.6,532.8M327.1,539.2L348.9,534.3M315.3,540.2L297.3,538.4M315.5,537.4L297.4,536.8M326.9,527.1L348.5,522.4M327.6,529.8L348.8,523.9M315.7,531L297,529.2M315.9,528.2L297.1,527.7M328.2,518.4L351.2,515.6M328.6,521.1L351.4,517.1M316.2,521.3L297.3,517.8M316.7,518.5L297.5,516.3M328.4,508.8L349.7,504.4M329.1,511.5L350,505.9M317.2,512L298.6,508M317.7,509.2L298.9,506.5M329.9,499.8L352.7,496M330.4,502.5L353,497.5M318.1,503L299.3,499.7M318.5,500.3L299.5,498.1M330.3,490.7L351.4,487.1M330.8,493.4L351.7,488.6M319.3,494L301.8,491.1M319.7,491.2L302,489.5M331.8,481.6L354.5,478.1M332.2,484.3L354.8,479.6M320.4,484.8L303.2,481.9M320.8,482.1L303.4,480.4M332,472.4L351.9,468.7M332.6,475.1L352.2,470.2M321.5,475.1L305,470.4M322.2,472.5L305.3,468.9M332.9,463.8L351.5,460.7M333.4,466.4L351.8,462.1M323.1,465.8L308,459.6M324,463.3L308.6,458.2M333.8,455.3L350.9,451.9M334.4,457.8L351.2,453.2M324.9,457.4L311.3,451.8M325.8,455L311.8,450.4M335,447.3L350.9,444.3M335.6,449.7L351.2,445.6M326.6,448.9L314.3,442.3M327.7,446.6L314.9,441.1M336.3,439.1L351.8,434.7M337,441.4L352.2,436M328.6,440.8L318,433.6M329.9,438.7L318.7,432.4M337.3,431.9L350.5,428.4M338,434.1L350.8,429.6M330.7,432.8L322.7,424.6M332.3,431.1L323.6,423.7M338.4,424.8L349.9,420.7M339.2,426.8L350.4,421.8M332.7,425.9L325.9,418.3M334.3,424.3L326.7,417.5M340.1,418.2L350.6,414.2M340.9,420.1L351.1,415.3M335.2,418.8L330.7,411M337,417.7L331.7,410.3M341.5,412.1L350.1,408.6M342.4,414L350.6,409.6M337.7,412.7L334.5,405.7M339.5,411.7L335.5,405.2M343.7,406.4L351.5,403.2M344.6,408.2L352,404.2M340.4,407L338.5,400.8M342.3,406.2L339.5,400.4" stroke="#431b10" stroke-width="1.5" stroke-dasharray="1.15 0.95" fill="none"/>
<path d="M312.5,706.3 L312.8,700.3 L313.1,694.3 L313.5,688.3 L313.8,682.3 L314.1,676.3 L314.4,670.4 L314.7,664.4 L315,658.4 L315.4,652.4 L315.7,646.4 L316,640.4 L316.3,634.4 L316.6,628.4 L316.9,622.4 L317.2,616.4 L317.5,610.4 L317.8,604.4 L318.1,598.4 L318.4,592.5 L318.7,586.5 L319,580.5 L319.2,574.5 L319.5,568.5 L319.6,562.5 L319.8,556.5 L320,550.5 L320.3,544.5 L320.6,538.5 L321,532.5 L321.4,526.5 L321.9,520.5 L322.5,514.6 L323,508.6 L323.6,502.6 L324.2,496.7 L324.8,490.7 L325.5,484.7 L326.1,478.8 L326.9,472.8 L327.8,466.9 L328.7,460.9 L329.7,455 L330.8,449.1 L332,443.3 L333.2,437.4 L334.5,431.5 L336,425.7 L337.7,419.9 L339.6,414.3 L341.8,408.7 L344.3,403.2 L344.6,402.5" stroke="#3d2a18" stroke-width="1.8" fill="none" stroke-linecap="round"/>
<path d="M315.7,646.4 L316,640.4 L316.3,634.4 L316.6,628.4 L316.9,622.4 L317.2,616.4 L317.5,610.4 L317.8,604.4 L318.1,598.4 L318.4,592.5 L318.7,586.5 L319,580.5 L319.2,574.5 L319.5,568.5 L319.6,562.5 L319.8,556.5 L320,550.5 L320.3,544.5 L320.6,538.5 L321,532.5 L321.4,526.5 L321.9,520.5 L322.5,514.6 L323,508.6 L323.6,502.6 L324.2,496.7 L324.8,490.7 L325.5,484.7 L326.1,478.8 L326.9,472.8 L327.8,466.9 L328.7,460.9 L329.7,455 L330.8,449.1 L332,443.3 L333.2,437.4 L334.5,431.5 L336,425.7 L337.7,419.9 L339.6,414.3 L341.8,408.7 L344.3,403.2 L344.6,402.5" stroke="#ecefe0" stroke-width="0.7" fill="none"/>
<g fill="#5b9537" stroke="#456f28" stroke-width="0.5" ><use href="#pn" transform="matrix(21.47 -7.93 2.19 5.93 305.9 695.3)"/><use href="#pn" transform="matrix(-23.15 2.30 -0.62 -6.29 305.9 695.3)"/><use href="#pn" transform="matrix(22.09 -7.45 2.06 6.09 303.4 687.5)"/><use href="#pn" transform="matrix(-24.75 -0.16 0.04 -6.43 303.4 687.5)"/><use href="#pn" transform="matrix(22.63 -7.73 2.11 6.19 301.1 679.5)"/><use href="#pn" transform="matrix(-25.32 -0.44 0.11 -6.54 301.1 679.5)"/><use href="#pn" transform="matrix(22.51 -7.96 2.20 6.22 298.9 671.3)"/><use href="#pn" transform="matrix(-28.07 -1.12 0.26 -6.59 298.9 671.3)"/><use href="#pn" transform="matrix(23.33 -6.61 1.80 6.35 296.7 663)"/><use href="#pn" transform="matrix(-26.13 -0.53 0.13 -6.60 296.7 663)"/><use href="#pn" transform="matrix(21.52 -8.07 2.32 6.18 294.6 654.6)"/><use href="#pn" transform="matrix(-26.25 -0.93 0.23 -6.60 294.6 654.6)"/><use href="#pn" transform="matrix(23.94 -7.52 1.98 6.30 292.6 646.3)"/><use href="#pn" transform="matrix(-26.87 -1.62 0.40 -6.59 292.6 646.3)"/><use href="#pn" transform="matrix(22.07 -6.40 1.84 6.34 290.9 637.8)"/><use href="#pn" transform="matrix(-25.70 -1.96 0.50 -6.58 290.9 637.8)"/><use href="#pn" transform="matrix(24.78 -5.37 1.40 6.45 289.5 629.4)"/><use href="#pn" transform="matrix(-25.60 -3.94 1.00 -6.52 289.5 629.4)"/><use href="#pn" transform="matrix(24.58 -3.75 1.00 6.52 288.3 620.8)"/><use href="#pn" transform="matrix(-27.40 -5.02 1.19 -6.49 288.3 620.8)"/><use href="#pn" transform="matrix(24.57 -3.64 0.97 6.53 287.3 612.3)"/><use href="#pn" transform="matrix(-27.71 -4.44 1.05 -6.52 287.3 612.3)"/><use href="#pn" transform="matrix(23.15 -2.76 0.78 6.55 286.5 603.7)"/><use href="#pn" transform="matrix(-26.75 -5.66 1.37 -6.46 286.5 603.7)"/><use href="#pn" transform="matrix(23.99 -3.24 0.88 6.54 285.7 595.2)"/><use href="#pn" transform="matrix(-27.25 -6.03 1.43 -6.44 285.7 595.2)"/><use href="#pn" transform="matrix(24.85 -2.12 0.56 6.58 285.6 586.6)"/><use href="#pn" transform="matrix(-26.94 -6.84 1.62 -6.40 285.6 586.6)"/><use href="#pn" transform="matrix(23.31 -5.87 1.61 6.40 284.4 578.1)"/><use href="#pn" transform="matrix(-27.83 -1.88 0.45 -6.58 284.4 578.1)"/><use href="#pn" transform="matrix(22.04 -9.77 2.67 6.03 282 569.8)"/><use href="#pn" transform="matrix(-26.09 3.16 -0.79 -6.55 282 569.8)"/><use href="#pn" transform="matrix(19.41 -12.79 3.63 5.50 278.2 562.1)"/><use href="#pn" transform="matrix(-25.48 5.39 -1.36 -6.45 278.2 562.1)"/><use href="#pn" transform="matrix(17.63 -14.82 4.19 4.99 273.5 555)"/><use href="#pn" transform="matrix(-25.29 8.15 -2.00 -6.20 273.5 555)"/><use href="#pn" transform="matrix(14.06 -17.89 5.05 3.97 267.9 548.5)"/><use href="#pn" transform="matrix(-22.74 11.31 -2.86 -5.75 267.9 548.5)"/><use href="#pn" transform="matrix(10.18 -18.57 5.54 3.04 261.8 542.9)"/><use href="#pn" transform="matrix(-21.34 13.52 -3.38 -5.34 261.8 542.9)"/><use href="#pn" transform="matrix(7.82 -18.38 5.70 2.43 255.2 538.1)"/><use href="#pn" transform="matrix(-19.52 13.37 -3.50 -5.11 255.2 538.1)"/><use href="#pn" transform="matrix(5.58 -18.40 5.81 1.76 248.4 534)"/><use href="#pn" transform="matrix(-16.40 13.16 -3.80 -4.74 248.4 534)"/><use href="#pn" transform="matrix(2.53 -18.19 5.89 0.82 241.4 530.7)"/><use href="#pn" transform="matrix(-15.28 15.30 -4.21 -4.20 241.4 530.7)"/><use href="#pn" transform="matrix(-0.21 -17.75 5.81 -0.07 234.4 527.8)"/><use href="#pn" transform="matrix(-14.19 12.83 -3.90 -4.31 234.4 527.8)"/><use href="#pn" transform="matrix(-1.75 -17.16 5.64 -0.58 227.5 525.4)"/><use href="#pn" transform="matrix(-13.10 13.51 -4.07 -3.95 227.5 525.4)"/><use href="#pn" transform="matrix(-2.98 -14.99 5.43 -1.08 220.7 523.3)"/><use href="#pn" transform="matrix(-11.93 12.79 -4.05 -3.78 220.7 523.3)"/><use href="#pn" transform="matrix(-3.73 -14.58 5.23 -1.34 214 521.5)"/><use href="#pn" transform="matrix(-11.24 11.84 -3.92 -3.72 214 521.5)"/><use href="#pn" transform="matrix(-3.83 -12.38 5.03 -1.56 207.6 519.7)"/><use href="#pn" transform="matrix(-10.99 9.02 -3.34 -4.07 207.6 519.7)"/><use href="#pn" transform="matrix(-4.05 -11.74 4.85 -1.67 201.3 517.9)"/><use href="#pn" transform="matrix(-9.89 8.26 -3.29 -3.94 201.3 517.9)"/><use href="#pn" transform="matrix(-3.20 -10.21 4.77 -1.49 195.3 516.2)"/><use href="#pn" transform="matrix(-9.23 7.83 -3.23 -3.81 195.3 516.2)"/><use href="#pn" transform="matrix(-4.08 -9.42 4.46 -1.93 189.5 514.7)"/><use href="#pn" transform="matrix(-8.52 6.83 -3.04 -3.80 189.5 514.7)"/><use href="#pn" transform="matrix(-4.62 -7.62 4.05 -2.45 183.8 513.3)"/><use href="#pn" transform="matrix(-8.41 5.73 -2.66 -3.91 183.8 513.3)"/><use href="#pn" transform="matrix(-4.11 -7.01 3.97 -2.33 178.3 512.1)"/><use href="#pn" transform="matrix(-7.49 4.92 -2.53 -3.85 178.3 512.1)"/><use href="#pn" transform="matrix(-3.98 -5.40 3.61 -2.66 173 511.2)"/><use href="#pn" transform="matrix(-6.28 4.11 -2.45 -3.75 173 511.2)"/><use href="#pn" transform="matrix(-3.88 -4.40 3.27 -2.88 167.8 510.3)"/><use href="#pn" transform="matrix(-5.45 3.16 -2.18 -3.77 167.8 510.3)"/><use href="#pn" transform="matrix(-3.19 -3.68 3.20 -2.78 162.9 509.5)"/><use href="#pn" transform="matrix(-4.56 2.64 -2.13 -3.66 162.9 509.5)"/></g>
<path d="M306.8,694.9L310.2,693.7M304.9,695.4L301.3,695.7M304.4,687.2L307.8,686M302.4,687.5L298.5,687.5M302.1,679.2L305.7,677.9M300.1,679.5L296.1,679.4M299.8,670.9L303.4,669.7M297.9,671.2L293.3,671.1M297.6,662.7L301.4,661.6M295.7,662.9L291.5,662.9M295.5,654.3L298.9,653M293.6,654.6L289.3,654.4M293.6,646L297.4,644.7M291.6,646.2L287.2,645.9M291.8,637.6L295.3,636.6M289.9,637.8L285.7,637.4M290.4,629.1L294.4,628.3M288.5,629.2L284.3,628.6M289.3,620.7L293.2,620.1M287.3,620.6L282.8,619.8M288.3,612.1L292.3,611.6M286.4,612.1L281.8,611.4M287.5,603.6L291.1,603.2M285.5,603.5L281.1,602.6M286.7,595L290.5,594.5M284.7,594.9L280.3,594M286.6,586.5L290.6,586.1M284.6,586.3L280.2,585.2M285.3,577.8L289,576.9M283.4,578L278.8,577.7M282.9,569.4L286.4,567.9M281,569.9L276.7,570.5M279,561.6L282.1,559.5M277.2,562.3L273.1,563.2M274.2,554.3L277,552M272.5,555.3L268.4,556.6M268.6,547.7L270.8,544.9M267.1,549L263.4,550.8M262.3,542.1L263.8,539.2M260.9,543.5L257.5,545.6M255.6,537.2L256.8,534.5M254.4,538.7L251.3,540.8M248.7,533.1L249.5,530.3M247.6,534.7L245.1,536.7M241.5,529.7L241.9,527M240.7,531.4L238.3,533.7M234.4,526.8L234.4,524.3M233.7,528.5L231.6,530.4M227.4,524.4L227.1,522M226.8,526.1L224.9,528.1M220.5,522.4L220.1,520.3M220,524.1L218.3,525.9M213.8,520.5L213.3,518.5M213.3,522.2L211.8,523.8M207.3,518.7L206.8,517.2M206.8,520.3L205.4,521.5M201,516.9L200.5,515.5M200.6,518.5L199.4,519.5M195,515.3L194.7,514.2M194.5,516.9L193.5,517.8M189.1,513.7L188.7,512.8M188.7,515.3L187.8,516M183.3,512.4L182.9,511.8M183,513.8L182.1,514.4M177.8,511.3L177.5,510.7M177.5,512.7L176.8,513.1M172.4,510.4L172.2,510.1M172.1,511.7L171.7,512M166.9,510.8L166.7,510.9" stroke="#6aa83e" stroke-width="4.1" fill="none"/>
<path d="M309.8,692.5L325,687.5M310.6,694.9L325.5,688.8M301.4,697L285.1,698M301.1,694.5L285,696.6M307.4,684.8L323.1,680.1M308.2,687.2L323.5,681.5M298.4,688.8L281.1,688.1M298.5,686.2L281.1,686.6M305.2,676.7L321.3,671.8M306.1,679.2L321.7,673.2M296,680.7L278.3,679.8M296.1,678.1L278.4,678.4M302.9,668.4L318.9,663.4M303.8,670.9L319.4,664.8M293.2,672.4L273.6,671M293.3,669.7L273.6,669.5M301,660.4L317.5,656.3M301.7,662.9L317.9,657.7M291.4,664.2L273.2,663.2M291.5,661.5L273.2,661.8M298.4,651.8L313.7,646.7M299.4,654.2L314.2,648M289.3,655.8L270.9,654.5M289.4,653.1L271,653.1M297,643.5L314,638.8M297.8,646L314.4,640.2M287.2,647.2L268.4,645.5M287.3,644.6L268.5,644.1M294.9,635.3L310.5,631.4M295.7,637.8L310.9,632.8M285.6,638.8L267.7,636.8M285.8,636.1L267.8,635.3M294.1,627L311.6,623.8M294.7,629.6L311.9,625.2M284.1,629.9L266.3,626.5M284.5,627.3L266.5,625.1M293,618.8L310.3,616.7M293.4,621.4L310.5,618.2M282.6,621.1L263.5,617M283.1,618.5L263.8,615.6M292.1,610.2L309.4,608.3M292.5,612.9L309.6,609.7M281.6,612.7L262.3,609M282,610.1L262.5,607.6M291,601.9L307.2,600.5M291.3,604.5L307.4,602M280.9,603.9L262.3,599.3M281.4,601.3L262.6,597.9M290.3,593.2L307.2,591.5M290.7,595.8L307.4,593M280,595.2L261,590.4M280.5,592.7L261.3,589M290.5,584.8L307.9,583.9M290.7,587.5L308,585.4M279.9,586.5L261.2,581.1M280.6,583.9L261.5,579.7M288.7,575.6L305.2,572.1M289.4,578.2L305.5,573.5M278.7,579L259.3,577.1M278.9,576.4L259.4,575.6M285.8,566.7L301.5,560.4M286.9,569.1L302.1,561.7M276.9,571.8L258.6,573.4M276.6,569.1L258.4,571.9M281.4,558.4L295.3,550M282.8,560.6L296.1,551.2M273.4,564.5L255.4,567.7M272.8,561.9L255.1,566.2M276.1,551L288.9,541.1M277.8,553L289.8,542.2M268.8,557.8L250.9,563M268,555.3L250.5,561.6M269.8,544.2L280,532M271.8,545.7L281.2,532.9M264,551.9L247.8,559.3M262.8,549.6L247.2,558.1M262.7,538.6L270.3,525.9M264.9,539.8L271.6,526.6M258.2,546.7L243,555.7M256.8,544.6L242.2,554.5M255.6,534L261.6,521.3M257.9,534.9L262.9,521.9M252,541.8L238,550.7M250.6,539.8L237.3,549.6M248.4,530L252.8,517.3M250.7,530.7L254.1,517.7M245.9,537.6L234.1,546.4M244.4,535.7L233.2,545.4M240.7,526.9L243,514.2M243.1,527.2L244.3,514.4M239.2,534.6L228.1,544.9M237.5,532.9L227.2,544M233.2,524.3L233.6,511.9M235.5,524.3L234.8,511.9M232.3,531.3L222.1,539.9M230.8,529.6L221.2,538.9M226,522.1L225.3,510M228.3,521.9L226.5,509.9M225.7,528.9L216.1,538M224,527.3L215.2,537.1M219,520.5L217.4,510M221.2,520.1L218.6,509.7M219.1,526.6L210.4,535.3M217.5,525.1L209.5,534.4M212.2,518.8L210.1,508.5M214.3,518.3L211.2,508.2M212.5,524.6L204.3,532.5M211,523.1L203.5,531.7M205.8,517.5L203.6,508.7M207.8,516.9L204.7,508.4M206,522.3L198,528.2M204.7,520.7L197.3,527.3M199.6,515.9L197.2,507.5M201.5,515.2L198.2,507.1M200,520.3L192.8,525.8M198.7,518.8L192.1,524.9M193.7,514.5L191.9,507.2M195.6,513.9L193,506.9M194.1,518.5L187.4,523.7M192.8,517L186.6,522.8M187.8,513.2L185.3,506.4M189.5,512.4L186.3,506M188.4,516.8L182.1,521.2M187.2,515.3L181.5,520.4M182.1,512.2L179.2,506.7M183.7,511.3L180.1,506.2M182.7,515.2L176.5,518.9M181.6,513.6L175.9,518M176.7,511.2L174.2,506.1M178.3,510.3L175,505.6M177.3,513.9L171.8,517M176.3,512.3L171.3,516.1M172.2,512.7L167.6,515.3M171.2,511.2L167,514.4" stroke="#431b10" stroke-width="1.5" stroke-dasharray="1.15 0.95" fill="none"/>
<path d="M310.3,707.5 L308.3,701.9 L306.2,696.2 L304.3,690.5 L302.6,684.8 L301,679 L299.4,673.2 L297.9,667.4 L296.3,661.6 L294.9,655.8 L293.5,650 L292.1,644.1 L290.9,638.2 L289.9,632.3 L289,626.4 L288.3,620.4 L287.6,614.5 L287,608.5 L286.4,602.5 L285.8,596.6 L285.6,590.6 L285.5,584.6 L284.5,578.7 L283,572.8 L280.9,567.2 L278.1,561.9 L274.9,556.9 L271.2,552.1 L267.1,547.7 L262.7,543.7 L257.9,540 L253,536.7 L247.8,533.7 L242.4,531.1 L236.8,528.8 L231.2,526.7 L225.5,524.8 L219.8,523.1 L214,521.5 L208.2,519.8 L202.4,518.2 L196.7,516.6 L190.9,515 L185,513.6 L179.2,512.3 L173.3,511.2 L167.4,510.2 L161.4,509.3 L159.9,509" stroke="#5e4020" stroke-width="2" fill="none" stroke-linecap="round"/>
<g fill="#5b9537" stroke="#456f28" stroke-width="0.5" ><use href="#pn" transform="matrix(23.95 -0.85 0.23 6.33 318.1 693.7)"/><use href="#pn" transform="matrix(-24.09 -0.74 0.19 -6.33 318.1 693.7)"/><use href="#pn" transform="matrix(23.76 0.42 -0.11 6.44 320.2 685.6)"/><use href="#pn" transform="matrix(-25.70 -0.15 0.04 -6.44 320.2 685.6)"/><use href="#pn" transform="matrix(25.18 0.20 -0.05 6.56 322.5 677.4)"/><use href="#pn" transform="matrix(-25.56 -3.53 0.90 -6.50 322.5 677.4)"/><use href="#pn" transform="matrix(25.94 3.50 -0.88 6.54 325.3 669.1)"/><use href="#pn" transform="matrix(-24.96 -4.17 1.09 -6.51 325.3 669.1)"/><use href="#pn" transform="matrix(26.54 6.01 -1.46 6.44 328.9 661.1)"/><use href="#pn" transform="matrix(-25.95 -7.00 1.72 -6.37 328.9 661.1)"/><use href="#pn" transform="matrix(24.05 7.11 -1.87 6.33 333.2 653.4)"/><use href="#pn" transform="matrix(-24.88 -9.06 2.26 -6.20 333.2 653.4)"/><use href="#pn" transform="matrix(24.33 5.69 -1.50 6.43 337.5 645.8)"/><use href="#pn" transform="matrix(-24.65 -8.76 2.21 -6.22 337.5 645.8)"/><use href="#pn" transform="matrix(25.99 8.14 -1.97 6.30 342 638.2)"/><use href="#pn" transform="matrix(-25.64 -9.52 2.30 -6.19 342 638.2)"/><use href="#pn" transform="matrix(25.84 7.94 -1.94 6.31 346.6 630.7)"/><use href="#pn" transform="matrix(-25.68 -9.53 2.30 -6.19 346.6 630.7)"/><use href="#pn" transform="matrix(23.59 8.78 -2.30 6.19 351.4 623.3)"/><use href="#pn" transform="matrix(-24.10 -8.28 2.14 -6.24 351.4 623.3)"/><use href="#pn" transform="matrix(23.94 10.30 -2.61 6.06 356.3 616)"/><use href="#pn" transform="matrix(-23.44 -10.56 2.71 -6.02 356.3 616)"/><use href="#pn" transform="matrix(23.53 10.89 -2.77 5.99 361.7 609)"/><use href="#pn" transform="matrix(-23.60 -11.97 2.99 -5.89 361.7 609)"/><use href="#pn" transform="matrix(23.85 13.29 -3.21 5.76 367.5 602.5)"/><use href="#pn" transform="matrix(-23.03 -14.80 3.57 -5.55 367.5 602.5)"/><use href="#pn" transform="matrix(22.85 15.36 -3.68 5.48 373.8 596.3)"/><use href="#pn" transform="matrix(-20.56 -14.82 3.86 -5.35 373.8 596.3)"/><use href="#pn" transform="matrix(21.69 16.57 -3.99 5.23 380.4 590.4)"/><use href="#pn" transform="matrix(-19.75 -17.30 4.34 -4.95 380.4 590.4)"/><use href="#pn" transform="matrix(18.92 15.84 -4.18 4.99 387.3 585.1)"/><use href="#pn" transform="matrix(-17.56 -18.64 4.74 -4.46 387.3 585.1)"/><use href="#pn" transform="matrix(17.79 15.36 -4.19 4.85 394.4 580.2)"/><use href="#pn" transform="matrix(-15.29 -20.78 5.17 -3.80 394.4 580.2)"/><use href="#pn" transform="matrix(17.79 16.63 -4.31 4.61 401.8 575.9)"/><use href="#pn" transform="matrix(-11.94 -19.43 5.37 -3.30 401.8 575.9)"/><use href="#pn" transform="matrix(15.85 16.98 -4.52 4.22 409.3 572.4)"/><use href="#pn" transform="matrix(-7.97 -20.04 5.75 -2.29 409.3 572.4)"/><use href="#pn" transform="matrix(13.79 15.22 -4.50 4.07 416.8 569.2)"/><use href="#pn" transform="matrix(-6.85 -20.03 5.74 -1.96 416.8 569.2)"/><use href="#pn" transform="matrix(14.79 15.47 -4.29 4.11 424 566)"/><use href="#pn" transform="matrix(-6.70 -20.36 5.64 -1.86 424 566)"/><use href="#pn" transform="matrix(13.88 12.13 -3.82 4.38 431.1 562.7)"/><use href="#pn" transform="matrix(-4.45 -17.80 5.64 -1.41 431.1 562.7)"/><use href="#pn" transform="matrix(14.04 11.15 -3.53 4.45 437.9 559.6)"/><use href="#pn" transform="matrix(-3.19 -17.17 5.58 -1.04 437.9 559.6)"/><use href="#pn" transform="matrix(14.34 10.12 -3.20 4.53 444.5 556.5)"/><use href="#pn" transform="matrix(-2.78 -17.48 5.48 -0.87 444.5 556.5)"/><use href="#pn" transform="matrix(12.31 9.50 -3.31 4.28 450.9 553.5)"/><use href="#pn" transform="matrix(-1.43 -15.71 5.39 -0.49 450.9 553.5)"/><use href="#pn" transform="matrix(12.31 8.04 -2.89 4.42 457 550.4)"/><use href="#pn" transform="matrix(-0.48 -14.73 5.28 -0.17 457 550.4)"/><use href="#pn" transform="matrix(11.30 7.20 -2.77 4.34 463 547.4)"/><use href="#pn" transform="matrix(0.16 -13.69 5.15 0.06 463 547.4)"/><use href="#pn" transform="matrix(10.73 5.34 -2.23 4.49 468.7 544.5)"/><use href="#pn" transform="matrix(1.67 -12.14 4.97 0.68 468.7 544.5)"/><use href="#pn" transform="matrix(9.38 4.80 -2.22 4.35 474.3 541.7)"/><use href="#pn" transform="matrix(1.73 -11.04 4.83 0.76 474.3 541.7)"/><use href="#pn" transform="matrix(9.25 3.99 -1.88 4.37 479.7 539.2)"/><use href="#pn" transform="matrix(2.51 -9.18 4.59 1.25 479.7 539.2)"/><use href="#pn" transform="matrix(7.96 3.80 -1.99 4.18 485 536.8)"/><use href="#pn" transform="matrix(2.92 -8.21 4.36 1.55 485 536.8)"/><use href="#pn" transform="matrix(7.27 3.22 -1.83 4.12 490.1 534.6)"/><use href="#pn" transform="matrix(2.40 -7.02 4.27 1.46 490.1 534.6)"/><use href="#pn" transform="matrix(6.53 2.57 -1.61 4.08 495.1 532.5)"/><use href="#pn" transform="matrix(2.63 -6.13 4.03 1.73 495.1 532.5)"/><use href="#pn" transform="matrix(5.27 1.77 -1.36 4.05 499.9 530.6)"/><use href="#pn" transform="matrix(2.48 -4.97 3.82 1.91 499.9 530.6)"/></g>
<path d="M319.1,693.7L322.9,693.5M317.1,693.7L313.3,693.6M321.2,685.7L325,685.7M319.2,685.6L315.1,685.6M323.5,677.4L327.6,677.5M321.6,677.3L317.4,676.7M326.3,669.3L330.5,669.8M324.3,669L320.3,668.3M329.9,661.3L334.2,662.3M327.9,660.8L323.7,659.7M334.1,653.7L338,654.8M332.2,653.1L328.2,651.6M338.5,646L342.4,646.9M336.6,645.4L332.6,644M342.9,638.5L347.2,639.8M341,637.8L336.8,636.3M347.6,631L351.8,632.3M345.7,630.3L341.5,628.8M352.3,623.7L356.1,625.1M350.5,623L346.6,621.7M357.2,616.4L361.1,618.1M355.4,615.6L351.6,613.9M362.6,609.5L366.4,611.2M360.8,608.6L357,606.6M368.4,603L372.3,605.1M366.7,601.9L362.9,599.5M374.6,596.8L378.4,599.4M373,595.7L369.7,593.3M381.2,591.1L384.7,593.8M379.6,589.8L376.4,587M388.1,585.7L391.1,588.2M386.6,584.3L383.8,581.3M395.2,580.9L398,583.3M393.9,579.4L391.4,576M402.5,576.6L405.4,579.3M401.3,575.1L399.4,572.1M410,573.1L412.5,575.8M408.9,571.5L407.7,568.4M417.5,569.9L419.6,572.2M416.5,568.2L415.4,565.2M424.7,566.7L427,569.1M423.7,565L422.7,561.9M431.8,563.4L433.8,565.2M430.8,561.8L430.2,559.2M438.7,560.2L440.7,561.8M437.7,558.6L437.2,556.2M445.3,557.1L447.4,558.5M444.3,555.5L443.9,553M451.7,554.1L453.3,555.4M450.8,552.5L450.6,550.3M457.9,551L459.5,552M457,549.4L456.9,547.5M463.8,547.9L465.2,548.8M463,546.4L463,544.7M469.6,544.9L470.8,545.6M468.8,543.5L469,542.1M475.1,542.2L476.1,542.7M474.4,540.7L474.6,539.5M480.6,539.6L481.5,540M480,538.2L480.2,537.3M485.9,537.2L486.6,537.6M485.3,535.9L485.6,535.2M491.1,535L491.6,535.3M490.5,533.7L490.6,533.2M496,532.9L496.4,533.1M495.5,531.6L495.6,531.3" stroke="#6aa83e" stroke-width="4.1" fill="none"/>
<path d="M322.8,692.3L339.6,692.3M322.9,694.8L339.6,693.6M313.2,694.8L296.4,693.8M313.3,692.3L296.4,692.4M325,684.4L341.6,685.3M324.9,687L341.6,686.7M315.1,686.9L297.1,686.2M315.1,684.3L297.1,684.8M327.6,676.1L345.2,676.9M327.6,678.8L345.2,678.3M317.3,678L299.4,675M317.6,675.4L299.6,673.5M330.7,668.5L348.7,671.6M330.3,671.1L348.6,673M320.1,669.6L302.7,666.1M320.5,667L303,664.7M334.5,661L352.9,665.8M333.9,663.6L352.6,667.2M323.4,661L305.3,655.5M324,658.4L305.7,654.1M338.4,653.6L355,659.1M337.6,656.1L354.6,660.5M327.7,652.8L310.5,645.9M328.6,650.4L311,644.6M342.7,645.6L359.6,650.2M342.1,648.2L359.3,651.6M332.2,645.3L315.1,638.6M333.1,642.8L315.6,637.2M347.6,638.5L365.6,644.8M346.8,641.1L365.1,646.2M336.4,637.5L318.6,630.3M337.3,635L319.1,628.9M352.2,631L370.1,637.1M351.4,633.5L369.7,638.5M341,630L323.2,622.8M341.9,627.6L323.8,621.4M356.6,623.8L372.9,630.5M355.7,626.3L372.4,631.9M346.2,622.9L329.5,616.5M347,620.4L329.9,615.2M361.6,616.9L378.2,624.6M360.6,619.3L377.6,626M351.1,615.1L334.9,607.2M352.2,612.7L335.5,605.9M366.9,610L383.2,618.2M365.8,612.4L382.6,619.5M356.4,607.8L340.1,598.9M357.6,605.5L340.8,597.6M373,604L389.4,613.8M371.7,606.3L388.7,615.1M362.2,600.6L346.4,589.8M363.7,598.4L347.2,588.6M379.1,598.3L394.8,609.5M377.6,600.4L394,610.7M368.9,594.4L354.9,583.5M370.4,592.2L355.7,582.4M385.5,592.7L400.3,604.8M383.9,594.8L399.5,605.9M375.6,588L362.1,575.4M377.3,586L363.1,574.3M391.9,587.2L404.8,598.8M390.2,589.2L403.9,599.9M382.8,582.2L371,568.8M384.7,580.4L372,567.8M398.8,582.3L410.9,593.5M397.2,584.2L410,594.6M390.4,576.8L380.1,561.9M392.4,575.3L381.3,561.1M406.2,578.4L418.3,590.4M404.5,580.2L417.3,591.4M398.3,572.7L390.5,558.8M400.5,571.4L391.6,558.1M413.4,574.9L424.1,587.2M411.6,576.6L423.1,588.1M406.6,568.8L401.5,554.6M408.9,567.9L402.8,554.1M420.5,571.4L429.7,582.4M418.7,573.1L428.7,583.3M414.3,565.6L410,551.4M416.6,564.8L411.3,551M427.9,568.2L437.8,579.4M426.1,569.9L436.9,580.3M421.6,562.3L417.4,547.8M423.8,561.5L418.6,547.4M434.6,564.3L444,573.2M433.1,566L443.1,574.1M429,559.5L426.4,546.9M431.3,558.9L427.7,546.6M441.4,560.9L450.9,569.1M440,562.7L450.1,570.1M436.1,556.4L434.4,544.2M438.4,555.9L435.6,544M448,557.6L457.7,565.1M446.7,559.4L457,566.1M442.8,553.2L441.4,540.9M445,552.8L442.6,540.7M454,554.5L462.3,561.5M452.7,556.2L461.6,562.5M449.5,550.4L449,539.4M451.7,550.2L450.2,539.3M460.1,551.1L468.4,557.2M458.9,552.9L467.8,558.1M455.9,547.5L456,537.2M458,547.4L457.2,537.1M465.8,548L473.4,553.4M464.7,549.7L472.8,554.4M462,544.7L462.5,535.1M464,544.7L463.7,535.1M471.3,544.7L478.6,548.8M470.4,546.4L478.1,549.8M468,541.9L469.6,533.5M470,542.2L470.7,533.6M476.6,541.8L482.9,545.6M475.7,543.5L482.5,546.5M473.6,539.4L475.3,531.7M475.6,539.7L476.4,531.9M481.9,539.1L488.2,542.3M481.2,540.8L487.8,543.2M479.3,537.1L481.4,530.8M481.1,537.6L482.5,531M487,536.7L492.4,539.8M486.2,538.4L491.9,540.7M484.7,534.9L487.1,529.2M486.4,535.5L488.1,529.6M492,534.4L496.9,537.1M491.2,536.1L496.5,538M489.8,532.9L491.8,528.1M491.5,533.5L492.8,528.5M496.7,532.2L501.2,534.4M496.1,533.9L500.8,535.3" stroke="#431b10" stroke-width="1.5" stroke-dasharray="1.15 0.95" fill="none"/>
<path d="M314.8,706.3 L316.3,700.5 L317.8,694.7 L319.3,688.9 L320.9,683.1 L322.6,677.3 L324.4,671.6 L326.6,666 L329.1,660.6 L332,655.3 L335.1,650.2 L338,644.9 L341,639.7 L344.1,634.6 L347.3,629.6 L350.6,624.5 L353.9,619.5 L357.4,614.6 L361,609.8 L364.9,605.3 L369,600.9 L373.3,596.7 L377.8,592.7 L382.4,588.8 L387.1,585.2 L392,581.7 L397.1,578.6 L402.4,575.7 L407.8,573.1 L413.3,570.7 L418.8,568.3 L424.3,565.9 L429.7,563.3 L435.2,560.8 L440.6,558.3 L446.1,555.8 L451.5,553.2 L456.8,550.5 L462.2,547.8 L467.5,545.1 L472.9,542.4 L478.3,539.8 L483.8,537.3 L489.3,535 L494.8,532.7 L500.4,530.4 L504.2,528.8" stroke="#5e4020" stroke-width="2" fill="none" stroke-linecap="round"/>
<path d="M329.2,707.2 C323.8,707.8 305.9,709 297,710.6 C288.1,712.2 281.7,714.3 275.6,717 C269.6,719.7 265.7,722.4 260.7,726.7 C255.7,731 252.1,735 245.7,742.7 C239.3,750.4 226,767.7 222.1,772.7 L223.5,773 C225.1,771.5 228,769.1 232.8,764.1 C237.6,759.1 246.8,748.2 252.1,742.7 C257.4,737.2 260.3,734.4 264.9,731 C269.5,727.6 273.8,724.7 279.9,722.4 C286,720.1 293.1,718.4 301.3,717 C309.5,715.6 324.6,714.4 329.2,713.9 C332,713.5 332,707.5 329.2,707.2 Z" fill="#dba446" stroke="#9a6a22" stroke-width="0.8" stroke-linejoin="round"/>
</g>
<g id="pinnule">
<path d="M124.9,235.6 C123,237 121.5,239.5 119.6,243.5 Q116.2,247.9 116.3,252.2 Q114.4,255.3 115,258.4 Q113,261.9 113.6,265.4 Q111.4,269.7 112.3,273.9 Q110.5,278.8 111.4,283.5 Q109.7,288.4 110.6,293.4 Q108.8,298.5 109.9,303.6 Q108.5,309 109.6,314.5 Q108.2,320.4 109.3,326.4 Q107.9,332.8 109,339.1 Q107.4,345.8 108.4,352.5 C104,352.5 99.3,353.5 99.3,356.5 C99.3,362 103,368 111,370.3 C116,371.5 121,371 124.9,370.6 C129,371 134,370.6 137.5,368.6 C141.5,365 142.3,359 141.6,355.5 C141.4,353.5 141.3,353 140.7,352.5 Q141.8,345.8 140.4,339.1 Q141.4,332.8 139.9,326.4 Q140.9,320.4 139.4,314.5 Q140.5,309 138.9,303.6 Q140,298.5 138.3,293.4 Q139.2,288.4 137.5,283.5 Q138.5,278.8 136.8,273.9 Q137.7,269.7 135.7,265.4 Q136.4,261.9 134.4,258.4 Q135.2,255.3 133.4,252.2 Q133.6,247.9 130.2,243.5 C128.4,239.5 126.8,237 124.9,235.6 Z" fill="#69a544" stroke="#4c8c37" stroke-width="1.3" stroke-linejoin="round"/>
<path d="M124.7,240 L124,330 L124.3,372 L124.9,379 L125.6,372 L125.5,330 Z" fill="#30351a"/>
<path d="M124.8,254.4 L122.4,250.5 M124.8,254.4 L127.7,250.5 M124.8,260.6 L121.4,256.4 M124.8,260.6 L128.2,256.4 M124.8,267.6 L120.6,263.1 M124.8,267.6 L128.8,263.1 M124.8,275.8 L120,270.9 M124.8,275.8 L129.4,270.9 M124.8,286.1 L119.6,280.7 M124.8,286.1 L129.9,280.7 M124.8,296.5 L119.2,290.7 M124.8,296.5 L130.3,290.7 M124.8,306.9 L118.8,300.8 M124.8,306.9 L130.7,300.8 M124.8,317.8 L118.4,311.4 M124.8,317.8 L131.2,311.4 M124.8,329.7 L118,323 M124.8,329.7 L131.7,323 M124.8,342.4 L117.6,335.5 M124.8,342.4 L132.3,335.5 M124.8,355.6 L117.2,348.6 M124.8,355.6 L133.2,348.6 M124.8,366 L112,360 M124.8,366 L137,358" stroke="#3d4a1c" stroke-width="0.8" fill="none"/>
<use href="#kids" transform="translate(121.4,249.4) scale(-2,2) rotate(8)"/>
<use href="#kids" transform="translate(128.7,249.4) scale(2) rotate(8)"/>
<use href="#kids" transform="translate(120.4,255.1) scale(-2.3,2.3) rotate(8)"/>
<use href="#kids" transform="translate(129.2,255.1) scale(2.3) rotate(8)"/>
<use href="#kids" transform="translate(119.6,261.6) scale(-2.6,2.6) rotate(8)"/>
<use href="#kids" transform="translate(129.8,261.6) scale(2.6) rotate(8)"/>
<use href="#kids" transform="translate(119,269.2) scale(-3,3) rotate(8)"/>
<use href="#kids" transform="translate(130.4,269.2) scale(3) rotate(8)"/>
<use href="#kids" transform="translate(118.6,278.7) scale(-3.6,3.6) rotate(8)"/>
<use href="#kids" transform="translate(130.9,278.7) scale(3.6) rotate(8)"/>
<use href="#kids" transform="translate(118.2,288.4) scale(-4,4) rotate(8)"/>
<use href="#kids" transform="translate(131.3,288.4) scale(4) rotate(8)"/>
<use href="#kids" transform="translate(117.8,298.3) scale(-4.3,4.3) rotate(8)"/>
<use href="#kids" transform="translate(131.7,298.3) scale(4.3) rotate(8)"/>
<use href="#kids" transform="translate(117.4,308.8) scale(-4.6,4.6) rotate(8)"/>
<use href="#kids" transform="translate(132.2,308.8) scale(4.6) rotate(8)"/>
<use href="#kids" transform="translate(117,320.2) scale(-4.9,4.9) rotate(8)"/>
<use href="#kids" transform="translate(132.7,320.2) scale(4.9) rotate(8)"/>
<use href="#kids" transform="translate(116.6,332.6) scale(-5.1,5.1) rotate(8)"/>
<use href="#kids" transform="translate(133.3,332.6) scale(5.1) rotate(8)"/>
<use href="#kids" transform="translate(116.2,345.6) scale(-5.2,5.2) rotate(8)"/>
<use href="#kids" transform="translate(134.2,345.6) scale(5.2) rotate(8)"/>
<use href="#kids" transform="translate(113.2,358.6) scale(-5.4,5.4) rotate(-20)"/>
<circle cx="135.7" cy="346.9" r="16.8" fill="none" stroke="#111" stroke-width="1.5"/>
</g>
<g id="magnify">
<clipPath id="magc"><path d="M243.2,199.8 C233,196.5 218,196 203,201.5 C178,211 161.3,234 161.3,262 C161.3,292 180,317 207,324.5 C217,327 226,327 233.5,326 L240,325 C242.5,312 245,303 246.8,296 C248.5,290.5 250,288.5 247.5,287.5 C244,286.2 239.5,287 238,285 C237.3,283.5 239.5,280 240.8,275 C242.8,266 244.2,255 244.8,247 C245.4,240.5 246,238.8 243.8,237.3 C241,235.5 237.5,234 236.7,231.5 C237,226 241,216 242.3,208 C242.8,204.5 243,202 243.2,199.8 Z"/></clipPath>
<path d="M243.2,199.8 C233,196.5 218,196 203,201.5 C178,211 161.3,234 161.3,262 C161.3,292 180,317 207,324.5 C217,327 226,327 233.5,326 L240,325 C242.5,312 245,303 246.8,296 C248.5,290.5 250,288.5 247.5,287.5 C244,286.2 239.5,287 238,285 C237.3,283.5 239.5,280 240.8,275 C242.8,266 244.2,255 244.8,247 C245.4,240.5 246,238.8 243.8,237.3 C241,235.5 237.5,234 236.7,231.5 C237,226 241,216 242.3,208 C242.8,204.5 243,202 243.2,199.8 Z" fill="#6aa343"/>
<path d="M243.2,199.8 C243,202 242.8,204.5 242.3,208 C241,216 237,226 236.7,231.5 C237.5,234 241,235.5 243.8,237.3 C246,238.8 245.4,240.5 244.8,247 C244.2,255 242.8,266 240.8,275 C239.5,280 237.3,283.5 238,285 C239.5,287 244,286.2 247.5,287.5 C250,288.5 248.5,290.5 246.8,296 C245,303 242.5,312 240,325 L233.5,326" fill="none" stroke="#3f7f35" stroke-width="7.6" stroke-linejoin="round" clip-path="url(#magc)"/>
<g clip-path="url(#magc)"><path d="M183.2,245.5 C192,238 203,229 210.5,216 M183,246 C178,240 173,234 168.5,230 M184,299 C193,291 203,281 210.5,267 M182.5,295 C175,288 168,280 161,271" stroke="#33341a" stroke-width="1.1" fill="none"/>
<path d="M181.4,213 L184.8,211 L185.2,311 L181,309 Z" fill="#33301a"/>
<use href="#kid" transform="translate(214.6,208.6) scale(16.8) rotate(18)"/>
<use href="#kid" transform="translate(160.5,258) scale(15.5) rotate(10)"/>
<g fill="#643a16"><circle cx="202" cy="243.5" r="1"/><circle cx="201.3" cy="245.5" r="1"/><circle cx="199.6" cy="246.8" r="1"/><circle cx="197.4" cy="246.8" r="1"/><circle cx="195.7" cy="245.5" r="1"/><circle cx="195" cy="243.5" r="1"/><circle cx="195.7" cy="241.5" r="1"/><circle cx="197.4" cy="240.2" r="1"/><circle cx="199.6" cy="240.2" r="1"/><circle cx="201.3" cy="241.5" r="1"/></g><circle cx="198.5" cy="243.5" r="3.2" fill="#7c4d1f"/><circle cx="198.2" cy="243.1" r="1.9" fill="#94602b"/>
<g fill="#a07826"><circle cx="207.5" cy="239" r="1"/><circle cx="206.8" cy="241" r="1"/><circle cx="205.1" cy="242.3" r="1"/><circle cx="202.9" cy="242.3" r="1"/><circle cx="201.2" cy="241" r="1"/><circle cx="200.5" cy="239" r="1"/><circle cx="201.2" cy="237" r="1"/><circle cx="202.9" cy="235.7" r="1"/><circle cx="205.1" cy="235.7" r="1"/><circle cx="206.8" cy="237" r="1"/></g><circle cx="204" cy="239" r="3.2" fill="#b48c2e"/><circle cx="203.7" cy="238.6" r="1.9" fill="#c9a338"/>
<g fill="#643a16"><circle cx="213.5" cy="236.5" r="1"/><circle cx="212.8" cy="238.5" r="1"/><circle cx="211.1" cy="239.8" r="1"/><circle cx="208.9" cy="239.8" r="1"/><circle cx="207.2" cy="238.5" r="1"/><circle cx="206.5" cy="236.5" r="1"/><circle cx="207.2" cy="234.5" r="1"/><circle cx="208.9" cy="233.2" r="1"/><circle cx="211.1" cy="233.2" r="1"/><circle cx="212.8" cy="234.5" r="1"/></g><circle cx="210" cy="236.5" r="3.2" fill="#7c4d1f"/><circle cx="209.7" cy="236.1" r="1.9" fill="#94602b"/>
<g fill="#a07826"><circle cx="219.5" cy="238" r="1"/><circle cx="218.8" cy="240" r="1"/><circle cx="217.1" cy="241.3" r="1"/><circle cx="214.9" cy="241.3" r="1"/><circle cx="213.2" cy="240" r="1"/><circle cx="212.5" cy="238" r="1"/><circle cx="213.2" cy="236" r="1"/><circle cx="214.9" cy="234.7" r="1"/><circle cx="217.1" cy="234.7" r="1"/><circle cx="218.8" cy="236" r="1"/></g><circle cx="216" cy="238" r="3.2" fill="#b48c2e"/><circle cx="215.7" cy="237.6" r="1.9" fill="#c9a338"/>
<g fill="#643a16"><circle cx="225.5" cy="236.5" r="1"/><circle cx="224.8" cy="238.5" r="1"/><circle cx="223.1" cy="239.8" r="1"/><circle cx="220.9" cy="239.8" r="1"/><circle cx="219.2" cy="238.5" r="1"/><circle cx="218.5" cy="236.5" r="1"/><circle cx="219.2" cy="234.5" r="1"/><circle cx="220.9" cy="233.2" r="1"/><circle cx="223.1" cy="233.2" r="1"/><circle cx="224.8" cy="234.5" r="1"/></g><circle cx="222" cy="236.5" r="3.2" fill="#7c4d1f"/><circle cx="221.7" cy="236.1" r="1.9" fill="#94602b"/>
<g fill="#a07826"><circle cx="231.5" cy="240" r="1"/><circle cx="230.8" cy="242" r="1"/><circle cx="229.1" cy="243.3" r="1"/><circle cx="226.9" cy="243.3" r="1"/><circle cx="225.2" cy="242" r="1"/><circle cx="224.5" cy="240" r="1"/><circle cx="225.2" cy="238" r="1"/><circle cx="226.9" cy="236.7" r="1"/><circle cx="229.1" cy="236.7" r="1"/><circle cx="230.8" cy="238" r="1"/></g><circle cx="228" cy="240" r="3.2" fill="#b48c2e"/><circle cx="227.7" cy="239.6" r="1.9" fill="#c9a338"/>
<g fill="#643a16"><circle cx="235.5" cy="246" r="1"/><circle cx="234.8" cy="248" r="1"/><circle cx="233.1" cy="249.3" r="1"/><circle cx="230.9" cy="249.3" r="1"/><circle cx="229.2" cy="248" r="1"/><circle cx="228.5" cy="246" r="1"/><circle cx="229.2" cy="244" r="1"/><circle cx="230.9" cy="242.7" r="1"/><circle cx="233.1" cy="242.7" r="1"/><circle cx="234.8" cy="244" r="1"/></g><circle cx="232" cy="246" r="3.2" fill="#7c4d1f"/><circle cx="231.7" cy="245.6" r="1.9" fill="#94602b"/>
<g fill="#a07826"><circle cx="240" cy="252" r="1"/><circle cx="239.3" cy="254" r="1"/><circle cx="237.6" cy="255.3" r="1"/><circle cx="235.4" cy="255.3" r="1"/><circle cx="233.7" cy="254" r="1"/><circle cx="233" cy="252" r="1"/><circle cx="233.7" cy="250" r="1"/><circle cx="235.4" cy="248.7" r="1"/><circle cx="237.6" cy="248.7" r="1"/><circle cx="239.3" cy="250" r="1"/></g><circle cx="236.5" cy="252" r="3.2" fill="#b48c2e"/><circle cx="236.2" cy="251.6" r="1.9" fill="#c9a338"/>
<g fill="#643a16"><circle cx="242" cy="258.5" r="1"/><circle cx="241.3" cy="260.5" r="1"/><circle cx="239.6" cy="261.8" r="1"/><circle cx="237.4" cy="261.8" r="1"/><circle cx="235.7" cy="260.5" r="1"/><circle cx="235" cy="258.5" r="1"/><circle cx="235.7" cy="256.5" r="1"/><circle cx="237.4" cy="255.2" r="1"/><circle cx="239.6" cy="255.2" r="1"/><circle cx="241.3" cy="256.5" r="1"/></g><circle cx="238.5" cy="258.5" r="3.2" fill="#7c4d1f"/><circle cx="238.2" cy="258.1" r="1.9" fill="#94602b"/>
<g fill="#a07826"><circle cx="238" cy="263.5" r="1"/><circle cx="237.3" cy="265.5" r="1"/><circle cx="235.6" cy="266.8" r="1"/><circle cx="233.4" cy="266.8" r="1"/><circle cx="231.7" cy="265.5" r="1"/><circle cx="231" cy="263.5" r="1"/><circle cx="231.7" cy="261.5" r="1"/><circle cx="233.4" cy="260.2" r="1"/><circle cx="235.6" cy="260.2" r="1"/><circle cx="237.3" cy="261.5" r="1"/></g><circle cx="234.5" cy="263.5" r="3.2" fill="#b48c2e"/><circle cx="234.2" cy="263.1" r="1.9" fill="#c9a338"/>
<g fill="#a07826"><circle cx="243" cy="266.5" r="1"/><circle cx="242.3" cy="268.5" r="1"/><circle cx="240.6" cy="269.8" r="1"/><circle cx="238.4" cy="269.8" r="1"/><circle cx="236.7" cy="268.5" r="1"/><circle cx="236" cy="266.5" r="1"/><circle cx="236.7" cy="264.5" r="1"/><circle cx="238.4" cy="263.2" r="1"/><circle cx="240.6" cy="263.2" r="1"/><circle cx="242.3" cy="264.5" r="1"/></g><circle cx="239.5" cy="266.5" r="3.2" fill="#b48c2e"/><circle cx="239.2" cy="266.1" r="1.9" fill="#c9a338"/>
<g fill="#643a16"><circle cx="236.5" cy="271.5" r="1"/><circle cx="235.8" cy="273.5" r="1"/><circle cx="234.1" cy="274.8" r="1"/><circle cx="231.9" cy="274.8" r="1"/><circle cx="230.2" cy="273.5" r="1"/><circle cx="229.5" cy="271.5" r="1"/><circle cx="230.2" cy="269.5" r="1"/><circle cx="231.9" cy="268.2" r="1"/><circle cx="234.1" cy="268.2" r="1"/><circle cx="235.8" cy="269.5" r="1"/></g><circle cx="233" cy="271.5" r="3.2" fill="#7c4d1f"/><circle cx="232.7" cy="271.1" r="1.9" fill="#94602b"/>
<g fill="#643a16"><circle cx="229.5" cy="275" r="1"/><circle cx="228.8" cy="277" r="1"/><circle cx="227.1" cy="278.3" r="1"/><circle cx="224.9" cy="278.3" r="1"/><circle cx="223.2" cy="277" r="1"/><circle cx="222.5" cy="275" r="1"/><circle cx="223.2" cy="273" r="1"/><circle cx="224.9" cy="271.7" r="1"/><circle cx="227.1" cy="271.7" r="1"/><circle cx="228.8" cy="273" r="1"/></g><circle cx="226" cy="275" r="3.2" fill="#7c4d1f"/><circle cx="225.7" cy="274.6" r="1.9" fill="#94602b"/>
<use href="#kid" transform="translate(213.6,259.2) scale(16.6) rotate(14)"/></g>
</g>
<g id="sorus">
<path d="M266.3,272.9 L280.6,279.2 M272,262.5 L283.7,273.5 M281.3,257.5 L288.8,270.8 M292.4,253.6 L294.9,268.6 M302.4,255.3 L300.4,269.6 M312.9,250.8 L306.2,267.1 M318.2,261.3 L309.1,272.9 M329,265.8 L315.1,275.3 M338.2,286.6 L320.1,286.8 M328.2,283.3 L314.6,285 M334,274.9 L317.8,280.3 M331.9,296.9 L316.6,292.4" stroke="#5e3515" stroke-width="1.6" fill="none"/>
<ellipse cx="322" cy="293" rx="9" ry="14" fill="#1f2414" transform="rotate(-20 322 293)"/>
<g fill="#643a16"><circle cx="271.5" cy="272.9" r="1.5"/><circle cx="270.7" cy="275.7" r="1.5"/><circle cx="268.4" cy="277.6" r="1.5"/><circle cx="265.6" cy="278" r="1.5"/><circle cx="262.9" cy="276.8" r="1.5"/><circle cx="261.3" cy="274.4" r="1.5"/><circle cx="261.3" cy="271.4" r="1.5"/><circle cx="262.9" cy="269" r="1.5"/><circle cx="265.6" cy="267.8" r="1.5"/><circle cx="268.4" cy="268.2" r="1.5"/><circle cx="270.7" cy="270.1" r="1.5"/></g><circle cx="266.3" cy="272.9" r="4.7" fill="#7c4d1f"/><circle cx="265.8" cy="272.3" r="2.9" fill="#94602b"/>
<g fill="#a07826"><circle cx="277.2" cy="262.5" r="1.5"/><circle cx="276.4" cy="265.3" r="1.5"/><circle cx="274.1" cy="267.2" r="1.5"/><circle cx="271.3" cy="267.6" r="1.5"/><circle cx="268.6" cy="266.4" r="1.5"/><circle cx="267" cy="264" r="1.5"/><circle cx="267" cy="261" r="1.5"/><circle cx="268.6" cy="258.6" r="1.5"/><circle cx="271.3" cy="257.4" r="1.5"/><circle cx="274.1" cy="257.8" r="1.5"/><circle cx="276.4" cy="259.7" r="1.5"/></g><circle cx="272" cy="262.5" r="4.7" fill="#b48c2e"/><circle cx="271.5" cy="261.9" r="2.9" fill="#c9a338"/>
<g fill="#643a16"><circle cx="286.5" cy="257.5" r="1.5"/><circle cx="285.7" cy="260.3" r="1.5"/><circle cx="283.4" cy="262.2" r="1.5"/><circle cx="280.6" cy="262.6" r="1.5"/><circle cx="277.9" cy="261.4" r="1.5"/><circle cx="276.3" cy="259" r="1.5"/><circle cx="276.3" cy="256" r="1.5"/><circle cx="277.9" cy="253.6" r="1.5"/><circle cx="280.6" cy="252.4" r="1.5"/><circle cx="283.4" cy="252.8" r="1.5"/><circle cx="285.7" cy="254.7" r="1.5"/></g><circle cx="281.3" cy="257.5" r="4.7" fill="#7c4d1f"/><circle cx="280.8" cy="256.9" r="2.9" fill="#94602b"/>
<g fill="#a07826"><circle cx="297.6" cy="253.6" r="1.5"/><circle cx="296.8" cy="256.4" r="1.5"/><circle cx="294.5" cy="258.3" r="1.5"/><circle cx="291.7" cy="258.7" r="1.5"/><circle cx="289" cy="257.5" r="1.5"/><circle cx="287.4" cy="255.1" r="1.5"/><circle cx="287.4" cy="252.1" r="1.5"/><circle cx="289" cy="249.7" r="1.5"/><circle cx="291.7" cy="248.5" r="1.5"/><circle cx="294.5" cy="248.9" r="1.5"/><circle cx="296.8" cy="250.8" r="1.5"/></g><circle cx="292.4" cy="253.6" r="4.7" fill="#b48c2e"/><circle cx="291.9" cy="253" r="2.9" fill="#c9a338"/>
<g fill="#643a16"><circle cx="307.6" cy="255.3" r="1.5"/><circle cx="306.8" cy="258.1" r="1.5"/><circle cx="304.5" cy="260" r="1.5"/><circle cx="301.7" cy="260.4" r="1.5"/><circle cx="299" cy="259.2" r="1.5"/><circle cx="297.4" cy="256.8" r="1.5"/><circle cx="297.4" cy="253.8" r="1.5"/><circle cx="299" cy="251.4" r="1.5"/><circle cx="301.7" cy="250.2" r="1.5"/><circle cx="304.5" cy="250.6" r="1.5"/><circle cx="306.8" cy="252.5" r="1.5"/></g><circle cx="302.4" cy="255.3" r="4.7" fill="#7c4d1f"/><circle cx="301.9" cy="254.7" r="2.9" fill="#94602b"/>
<g fill="#a07826"><circle cx="318.1" cy="250.8" r="1.5"/><circle cx="317.3" cy="253.6" r="1.5"/><circle cx="315" cy="255.5" r="1.5"/><circle cx="312.2" cy="255.9" r="1.5"/><circle cx="309.5" cy="254.7" r="1.5"/><circle cx="307.9" cy="252.3" r="1.5"/><circle cx="307.9" cy="249.3" r="1.5"/><circle cx="309.5" cy="246.9" r="1.5"/><circle cx="312.2" cy="245.7" r="1.5"/><circle cx="315" cy="246.1" r="1.5"/><circle cx="317.3" cy="248" r="1.5"/></g><circle cx="312.9" cy="250.8" r="4.7" fill="#b48c2e"/><circle cx="312.4" cy="250.2" r="2.9" fill="#c9a338"/>
<g fill="#643a16"><circle cx="323.4" cy="261.3" r="1.5"/><circle cx="322.6" cy="264.1" r="1.5"/><circle cx="320.3" cy="266" r="1.5"/><circle cx="317.5" cy="266.4" r="1.5"/><circle cx="314.8" cy="265.2" r="1.5"/><circle cx="313.2" cy="262.8" r="1.5"/><circle cx="313.2" cy="259.8" r="1.5"/><circle cx="314.8" cy="257.4" r="1.5"/><circle cx="317.5" cy="256.2" r="1.5"/><circle cx="320.3" cy="256.6" r="1.5"/><circle cx="322.6" cy="258.5" r="1.5"/></g><circle cx="318.2" cy="261.3" r="4.7" fill="#7c4d1f"/><circle cx="317.7" cy="260.7" r="2.9" fill="#94602b"/>
<g fill="#a07826"><circle cx="334.2" cy="265.8" r="1.5"/><circle cx="333.4" cy="268.6" r="1.5"/><circle cx="331.1" cy="270.5" r="1.5"/><circle cx="328.3" cy="270.9" r="1.5"/><circle cx="325.6" cy="269.7" r="1.5"/><circle cx="324" cy="267.3" r="1.5"/><circle cx="324" cy="264.3" r="1.5"/><circle cx="325.6" cy="261.9" r="1.5"/><circle cx="328.3" cy="260.7" r="1.5"/><circle cx="331.1" cy="261.1" r="1.5"/><circle cx="333.4" cy="263" r="1.5"/></g><circle cx="329" cy="265.8" r="4.7" fill="#b48c2e"/><circle cx="328.5" cy="265.2" r="2.9" fill="#c9a338"/>
<g fill="#a07826"><circle cx="343.4" cy="286.6" r="1.5"/><circle cx="342.6" cy="289.4" r="1.5"/><circle cx="340.3" cy="291.3" r="1.5"/><circle cx="337.5" cy="291.7" r="1.5"/><circle cx="334.8" cy="290.5" r="1.5"/><circle cx="333.2" cy="288.1" r="1.5"/><circle cx="333.2" cy="285.1" r="1.5"/><circle cx="334.8" cy="282.7" r="1.5"/><circle cx="337.5" cy="281.5" r="1.5"/><circle cx="340.3" cy="281.9" r="1.5"/><circle cx="342.6" cy="283.8" r="1.5"/></g><circle cx="338.2" cy="286.6" r="4.7" fill="#b48c2e"/><circle cx="337.7" cy="286" r="2.9" fill="#c9a338"/>
<g fill="#a07826"><circle cx="333.4" cy="283.3" r="1.5"/><circle cx="332.6" cy="286.1" r="1.5"/><circle cx="330.3" cy="288" r="1.5"/><circle cx="327.5" cy="288.4" r="1.5"/><circle cx="324.8" cy="287.2" r="1.5"/><circle cx="323.2" cy="284.8" r="1.5"/><circle cx="323.2" cy="281.8" r="1.5"/><circle cx="324.8" cy="279.4" r="1.5"/><circle cx="327.5" cy="278.2" r="1.5"/><circle cx="330.3" cy="278.6" r="1.5"/><circle cx="332.6" cy="280.5" r="1.5"/></g><circle cx="328.2" cy="283.3" r="4.7" fill="#b48c2e"/><circle cx="327.7" cy="282.7" r="2.9" fill="#c9a338"/>
<g fill="#643a16"><circle cx="339.2" cy="274.9" r="1.5"/><circle cx="338.4" cy="277.7" r="1.5"/><circle cx="336.1" cy="279.6" r="1.5"/><circle cx="333.3" cy="280" r="1.5"/><circle cx="330.6" cy="278.8" r="1.5"/><circle cx="329" cy="276.4" r="1.5"/><circle cx="329" cy="273.4" r="1.5"/><circle cx="330.6" cy="271" r="1.5"/><circle cx="333.3" cy="269.8" r="1.5"/><circle cx="336.1" cy="270.2" r="1.5"/><circle cx="338.4" cy="272.1" r="1.5"/></g><circle cx="334" cy="274.9" r="4.7" fill="#7c4d1f"/><circle cx="333.5" cy="274.3" r="2.9" fill="#94602b"/>
<g fill="#643a16"><circle cx="337.1" cy="296.9" r="1.5"/><circle cx="336.3" cy="299.7" r="1.5"/><circle cx="334" cy="301.6" r="1.5"/><circle cx="331.2" cy="302" r="1.5"/><circle cx="328.5" cy="300.8" r="1.5"/><circle cx="326.9" cy="298.4" r="1.5"/><circle cx="326.9" cy="295.4" r="1.5"/><circle cx="328.5" cy="293" r="1.5"/><circle cx="331.2" cy="291.8" r="1.5"/><circle cx="334" cy="292.2" r="1.5"/><circle cx="336.3" cy="294.1" r="1.5"/></g><circle cx="331.9" cy="296.9" r="4.7" fill="#7c4d1f"/><circle cx="331.4" cy="296.3" r="2.9" fill="#94602b"/>
<use href="#kid" transform="translate(298.3,287) scale(27.5)"/>
<path d="M242.9,338.3 C242.4,337.7 245.4,332.6 247,331 C248.6,329.4 250.4,327.4 254,326.6 C257.6,325.8 267,325.1 272.5,325.4 C278,325.7 287.5,328.5 293.4,328.5 C299.3,328.5 309,325.7 314.3,325.4 C319.6,325.1 328,325.6 331.5,326.4 C335,327.2 337.4,329.3 339,331 C340.6,332.7 343.6,337.7 343.2,338.3 C342.8,338.9 340,335.9 336.5,335.2 C333,334.5 322.8,333 318,333.4 C313.2,333.8 304.8,336.1 302,337.7 C299.2,339.3 298.2,343.1 297.7,345.1 C297.2,347.1 298,350.2 298.3,352 C298.6,353.8 301.1,357 299.5,357.8 C297.9,358.6 288.7,358.6 287.2,357.8 C285.7,357 288.2,353.8 288.5,352 C288.8,350.2 289.6,347.1 289.1,345.1 C288.6,343.1 287.6,339.3 284.8,337.7 C282,336.1 273.6,333.8 268.8,333.4 C264,333 253.9,334.5 250.3,335.2 C246.7,335.9 243.4,338.9 242.9,338.3 Z" fill="#3b1a0e"/>
<path d="M250,346.2 L289,346.2 M298,346.2 L338,346.2 M252,349.6 C264,348.4 280,348.8 289,349.8 M298,349.8 C308,348.8 324,348.4 336,349.6" stroke="#4a2412" stroke-width="1.1" fill="none"/>
<path d="M242.9,355.5 C244.4,355.2 252,358.5 256.5,359.2 C261,359.9 270.6,360.6 274.9,360.5 C279.2,360.4 284.6,359 287.2,358.6 C289.8,358.2 291.7,357.4 293.4,357.4 C295.1,357.4 296.9,358.2 299.5,358.6 C302.1,359 307.5,360.4 311.8,360.5 C316.1,360.6 325.8,359.7 330.3,359.2 C334.8,358.7 342.3,356.4 343.8,356.8 C345.3,357.2 342,360.8 341,362 C340,363.2 339.7,364.5 336.5,365.4 C333.3,366.3 324,368.2 318,368.5 C312,368.8 300.3,367.2 293.4,367.2 C286.5,367.2 274.8,368.8 268.8,368.5 C262.8,368.2 253.6,366.4 250.3,365.4 C247,364.4 246.5,362.9 245.5,361.5 C244.5,360.1 241.4,355.8 242.9,355.5 Z" fill="#6b3a17"/>
<g fill="#643a16"><circle cx="253.6" cy="346.3" r="1.3"/><circle cx="252.8" cy="349" r="1.3"/><circle cx="250.5" cy="350.6" r="1.3"/><circle cx="247.7" cy="350.6" r="1.3"/><circle cx="245.4" cy="349" r="1.3"/><circle cx="244.6" cy="346.3" r="1.3"/><circle cx="245.4" cy="343.6" r="1.3"/><circle cx="247.7" cy="342" r="1.3"/><circle cx="250.5" cy="342" r="1.3"/><circle cx="252.8" cy="343.6" r="1.3"/></g><circle cx="249.1" cy="346.3" r="4.1" fill="#7c4d1f"/><circle cx="248.7" cy="345.7" r="2.5" fill="#94602b"/>
<g fill="#a07826"><circle cx="262.9" cy="343.8" r="1.5"/><circle cx="261.9" cy="346.8" r="1.5"/><circle cx="259.3" cy="348.7" r="1.5"/><circle cx="256.1" cy="348.7" r="1.5"/><circle cx="253.5" cy="346.8" r="1.5"/><circle cx="252.5" cy="343.8" r="1.5"/><circle cx="253.5" cy="340.8" r="1.5"/><circle cx="256.1" cy="338.9" r="1.5"/><circle cx="259.3" cy="338.9" r="1.5"/><circle cx="261.9" cy="340.8" r="1.5"/></g><circle cx="257.7" cy="343.8" r="4.7" fill="#b48c2e"/><circle cx="257.2" cy="343.2" r="2.9" fill="#c9a338"/>
<g fill="#643a16"><circle cx="268.4" cy="351.8" r="1.4"/><circle cx="267.5" cy="354.5" r="1.4"/><circle cx="265.2" cy="356.2" r="1.4"/><circle cx="262.4" cy="356.2" r="1.4"/><circle cx="260.1" cy="354.5" r="1.4"/><circle cx="259.2" cy="351.8" r="1.4"/><circle cx="260.1" cy="349.1" r="1.4"/><circle cx="262.4" cy="347.4" r="1.4"/><circle cx="265.2" cy="347.4" r="1.4"/><circle cx="267.5" cy="349.1" r="1.4"/></g><circle cx="263.8" cy="351.8" r="4.2" fill="#7c4d1f"/><circle cx="263.3" cy="351.2" r="2.6" fill="#94602b"/>
<g fill="#643a16"><circle cx="278.9" cy="340.8" r="1.4"/><circle cx="278" cy="343.5" r="1.4"/><circle cx="275.7" cy="345.2" r="1.4"/><circle cx="272.9" cy="345.2" r="1.4"/><circle cx="270.6" cy="343.5" r="1.4"/><circle cx="269.7" cy="340.8" r="1.4"/><circle cx="270.6" cy="338.1" r="1.4"/><circle cx="272.9" cy="336.4" r="1.4"/><circle cx="275.7" cy="336.4" r="1.4"/><circle cx="278" cy="338.1" r="1.4"/></g><circle cx="274.3" cy="340.8" r="4.2" fill="#7c4d1f"/><circle cx="273.8" cy="340.2" r="2.6" fill="#94602b"/>
<g fill="#a07826"><circle cx="278.2" cy="351.2" r="1.3"/><circle cx="277.4" cy="353.9" r="1.3"/><circle cx="275.1" cy="355.5" r="1.3"/><circle cx="272.3" cy="355.5" r="1.3"/><circle cx="270" cy="353.9" r="1.3"/><circle cx="269.2" cy="351.2" r="1.3"/><circle cx="270" cy="348.5" r="1.3"/><circle cx="272.3" cy="346.9" r="1.3"/><circle cx="275.1" cy="346.9" r="1.3"/><circle cx="277.4" cy="348.5" r="1.3"/></g><circle cx="273.7" cy="351.2" r="4.1" fill="#b48c2e"/><circle cx="273.3" cy="350.6" r="2.5" fill="#c9a338"/>
<g fill="#643a16"><circle cx="318.3" cy="341.4" r="1.4"/><circle cx="317.4" cy="344.1" r="1.4"/><circle cx="315.1" cy="345.8" r="1.4"/><circle cx="312.3" cy="345.8" r="1.4"/><circle cx="310" cy="344.1" r="1.4"/><circle cx="309.1" cy="341.4" r="1.4"/><circle cx="310" cy="338.7" r="1.4"/><circle cx="312.3" cy="337" r="1.4"/><circle cx="315.1" cy="337" r="1.4"/><circle cx="317.4" cy="338.7" r="1.4"/></g><circle cx="313.7" cy="341.4" r="4.2" fill="#7c4d1f"/><circle cx="313.2" cy="340.8" r="2.6" fill="#94602b"/>
<g fill="#a07826"><circle cx="318.8" cy="351.2" r="1.3"/><circle cx="318" cy="353.9" r="1.3"/><circle cx="315.7" cy="355.5" r="1.3"/><circle cx="312.9" cy="355.5" r="1.3"/><circle cx="310.6" cy="353.9" r="1.3"/><circle cx="309.8" cy="351.2" r="1.3"/><circle cx="310.6" cy="348.5" r="1.3"/><circle cx="312.9" cy="346.9" r="1.3"/><circle cx="315.7" cy="346.9" r="1.3"/><circle cx="318" cy="348.5" r="1.3"/></g><circle cx="314.3" cy="351.2" r="4.1" fill="#b48c2e"/><circle cx="313.9" cy="350.6" r="2.5" fill="#c9a338"/>
<g fill="#643a16"><circle cx="329.4" cy="352.5" r="1.4"/><circle cx="328.5" cy="355.2" r="1.4"/><circle cx="326.2" cy="356.9" r="1.4"/><circle cx="323.4" cy="356.9" r="1.4"/><circle cx="321.1" cy="355.2" r="1.4"/><circle cx="320.2" cy="352.5" r="1.4"/><circle cx="321.1" cy="349.8" r="1.4"/><circle cx="323.4" cy="348.1" r="1.4"/><circle cx="326.2" cy="348.1" r="1.4"/><circle cx="328.5" cy="349.8" r="1.4"/></g><circle cx="324.8" cy="352.5" r="4.2" fill="#7c4d1f"/><circle cx="324.3" cy="351.9" r="2.6" fill="#94602b"/>
<g fill="#a07826"><circle cx="335.5" cy="343.8" r="1.5"/><circle cx="334.5" cy="346.8" r="1.5"/><circle cx="331.9" cy="348.7" r="1.5"/><circle cx="328.7" cy="348.7" r="1.5"/><circle cx="326.1" cy="346.8" r="1.5"/><circle cx="325.1" cy="343.8" r="1.5"/><circle cx="326.1" cy="340.8" r="1.5"/><circle cx="328.7" cy="338.9" r="1.5"/><circle cx="331.9" cy="338.9" r="1.5"/><circle cx="334.5" cy="340.8" r="1.5"/></g><circle cx="330.3" cy="343.8" r="4.7" fill="#b48c2e"/><circle cx="329.8" cy="343.2" r="2.9" fill="#c9a338"/>
<g fill="#643a16"><circle cx="342.8" cy="348.2" r="1.3"/><circle cx="342" cy="350.9" r="1.3"/><circle cx="339.7" cy="352.5" r="1.3"/><circle cx="336.9" cy="352.5" r="1.3"/><circle cx="334.6" cy="350.9" r="1.3"/><circle cx="333.8" cy="348.2" r="1.3"/><circle cx="334.6" cy="345.5" r="1.3"/><circle cx="336.9" cy="343.9" r="1.3"/><circle cx="339.7" cy="343.9" r="1.3"/><circle cx="342" cy="345.5" r="1.3"/></g><circle cx="338.3" cy="348.2" r="4.1" fill="#7c4d1f"/><circle cx="337.9" cy="347.6" r="2.5" fill="#94602b"/>
</g>
<g id="sporangia">
<path d="M307.5,134 C306,160 300,190 290.5,211 L301,211 C309,190 315.5,160 317.5,134 Z" fill="#3e1c0f"/>
<circle cx="303.7" cy="111.9" r="24.5" fill="#3e1c0f"/>
<circle cx="297.4" cy="87.8" r="5.8" fill="#3e1c0f"/><circle cx="297.4" cy="87.8" r="4.9" fill="#6e3f19"/><circle cx="296.8" cy="87.1" r="2.6" fill="#8c5726"/>
<circle cx="308.1" cy="89.3" r="5.8" fill="#3e1c0f"/><circle cx="308.1" cy="89.3" r="4.9" fill="#6e3f19"/><circle cx="307.5" cy="88.5" r="2.6" fill="#8c5726"/>
<circle cx="318.8" cy="93.2" r="5.8" fill="#3e1c0f"/><circle cx="318.8" cy="93.2" r="4.9" fill="#6e3f19"/><circle cx="318.2" cy="92.5" r="2.6" fill="#8c5726"/>
<circle cx="326.3" cy="102.1" r="6" fill="#3e1c0f"/><circle cx="326.3" cy="102.1" r="5.1" fill="#6e3f19"/><circle cx="325.7" cy="101.4" r="2.7" fill="#8c5726"/>
<circle cx="326.8" cy="114.6" r="6.4" fill="#3e1c0f"/><circle cx="326.8" cy="114.6" r="5.4" fill="#6e3f19"/><circle cx="326.2" cy="113.8" r="2.9" fill="#8c5726"/>
<circle cx="322.4" cy="127.9" r="7.3" fill="#3e1c0f"/><circle cx="322.4" cy="127.9" r="6.1" fill="#6e3f19"/><circle cx="321.7" cy="127.1" r="3.3" fill="#8c5726"/>
<circle cx="312" cy="135.6" r="5.5" fill="#3e1c0f"/><circle cx="312" cy="135.6" r="4.6" fill="#6e3f19"/><circle cx="311.5" cy="134.9" r="2.5" fill="#8c5726"/>
<circle cx="302.4" cy="135.1" r="5.5" fill="#3e1c0f"/><circle cx="302.4" cy="135.1" r="4.6" fill="#6e3f19"/><circle cx="301.9" cy="134.4" r="2.5" fill="#8c5726"/>
<circle cx="293" cy="131.5" r="5.5" fill="#3e1c0f"/><circle cx="293" cy="131.5" r="4.6" fill="#6e3f19"/><circle cx="292.4" cy="130.8" r="2.5" fill="#8c5726"/>
<circle cx="285" cy="123.1" r="5.7" fill="#3e1c0f"/><circle cx="285" cy="123.1" r="4.8" fill="#6e3f19"/><circle cx="284.4" cy="122.4" r="2.6" fill="#8c5726"/>
<circle cx="281" cy="112.8" r="5.8" fill="#3e1c0f"/><circle cx="281" cy="112.8" r="4.9" fill="#6e3f19"/><circle cx="280.4" cy="112.1" r="2.6" fill="#8c5726"/>
<circle cx="281.7" cy="102.4" r="5.8" fill="#3e1c0f"/><circle cx="281.7" cy="102.4" r="4.9" fill="#6e3f19"/><circle cx="281.2" cy="101.7" r="2.6" fill="#8c5726"/>
<circle cx="288.2" cy="93.2" r="5.8" fill="#3e1c0f"/><circle cx="288.2" cy="93.2" r="4.9" fill="#6e3f19"/><circle cx="287.6" cy="92.5" r="2.6" fill="#8c5726"/>
<circle cx="303.7" cy="111.9" r="17.2" fill="#3e1c0f"/>
<circle cx="303.7" cy="111.9" r="15.8" fill="#6b3a17"/>
<circle cx="302.1" cy="106.9" r="9" fill="#87501f"/>
<path d="M494.5,125 C493,138 491,147 489,155 C485,170 477.5,181 469.4,188.5 L480.7,190.2 C489.5,180 495.5,168 498.7,155 C501,145 502.5,136 503.8,125 Z" fill="#3e1c0f"/>
<path d="M493,58.5 C491.3,58.9 490.2,60.8 489.3,63.1 C488.4,65.4 487.6,69 487.8,72.2 C488,75.4 489.1,78.8 490.4,82.3 C491.7,85.8 494.4,90 495.4,93.4 C496.4,96.8 496.9,100.1 496.4,102.5 C495.9,104.9 495.1,106.5 492.4,107.6 C489.7,108.7 484.4,108.7 480.3,109.1 C476.2,109.5 471.1,109.4 468.1,110.1 C465.2,110.8 463.6,111.7 462.6,113.1 C461.6,114.5 461.4,117.4 462,118.5 C462.6,119.6 464.2,119.3 466.1,119.5 C468,119.7 470.8,119 473.4,119.5 C476,120 478.8,121.1 481.5,122.2 C484.2,123.3 487,125.2 489.8,126.2 C492.6,127.2 495.3,128.9 498.4,128.3 C501.5,127.7 505.3,125.2 508.5,122.7 C511.7,120.2 515.5,117.4 517.8,113.6 C520.1,109.8 522.4,104 522.5,100 C522.6,96 520.4,92.9 518.6,89.9 C516.8,86.9 514,84.2 511.5,82 C509,79.8 505.7,78.8 503.5,76.8 C501.3,74.8 499.2,72.7 498.5,70 C497.8,67.3 500.4,62.4 499.5,60.5 C498.6,58.6 494.7,58.1 493,58.5 Z" fill="#3e1c0f"/>
<path d="M488.3,66 C487.6,64.9 487.5,69.5 487.8,72.2 C488.1,74.9 489.1,78.8 490.4,82.3 C491.7,85.8 494.4,90 495.4,93.4 C496.4,96.8 496.9,100.1 496.4,102.5 C495.9,104.9 495.1,106.5 492.4,107.6 C489.7,108.7 484.5,108.6 480.3,109.1 C476.1,109.6 466.2,110 467,110.4 C467.8,110.8 479.4,111.4 485.3,111.6 C491.2,111.8 499,112 502.5,111.4 C506,110.8 505.8,109.7 506.3,108 C506.8,106.3 506.5,104.2 505.3,101.5 C504.1,98.8 501.2,95.8 499,92 C496.8,88.2 493.8,83.3 492,79 C490.2,74.7 489,67.1 488.3,66 Z" fill="#8a5424"/>
<circle cx="497.9" cy="62.1" r="5" fill="#3e1c0f"/><circle cx="497.9" cy="62.1" r="4.2" fill="#6e3f19"/><circle cx="497.4" cy="61.5" r="2.2" fill="#8c5726"/>
<circle cx="495.9" cy="71.2" r="4.8" fill="#3e1c0f"/><circle cx="495.9" cy="71.2" r="4" fill="#6e3f19"/><circle cx="495.4" cy="70.6" r="2.2" fill="#8c5726"/>
<circle cx="502" cy="78.3" r="4.5" fill="#3e1c0f"/><circle cx="502" cy="78.3" r="3.8" fill="#6e3f19"/><circle cx="501.6" cy="77.8" r="2" fill="#8c5726"/>
<circle cx="510.1" cy="83.3" r="4.5" fill="#3e1c0f"/><circle cx="510.1" cy="83.3" r="3.8" fill="#6e3f19"/><circle cx="509.7" cy="82.8" r="2" fill="#8c5726"/>
<circle cx="516.6" cy="89.9" r="4.8" fill="#3e1c0f"/><circle cx="516.6" cy="89.9" r="4" fill="#6e3f19"/><circle cx="516.1" cy="89.3" r="2.2" fill="#8c5726"/>
<circle cx="520.5" cy="100" r="5.2" fill="#3e1c0f"/><circle cx="520.5" cy="100" r="4.4" fill="#6e3f19"/><circle cx="520" cy="99.4" r="2.3" fill="#8c5726"/>
<circle cx="517.8" cy="111.6" r="5.5" fill="#3e1c0f"/><circle cx="517.8" cy="111.6" r="4.6" fill="#6e3f19"/><circle cx="517.2" cy="110.9" r="2.5" fill="#8c5726"/>
<circle cx="498.4" cy="126.3" r="4.2" fill="#3e1c0f"/><circle cx="498.4" cy="126.3" r="3.5" fill="#6e3f19"/><circle cx="498" cy="125.8" r="1.9" fill="#8c5726"/>
<circle cx="489.8" cy="124.2" r="4.2" fill="#3e1c0f"/><circle cx="489.8" cy="124.2" r="3.5" fill="#6e3f19"/><circle cx="489.4" cy="123.7" r="1.9" fill="#8c5726"/>
<circle cx="481.5" cy="120.2" r="3.8" fill="#3e1c0f"/><circle cx="481.5" cy="120.2" r="3.2" fill="#6e3f19"/><circle cx="481.1" cy="119.7" r="1.7" fill="#8c5726"/>
<circle cx="473.4" cy="117.5" r="3.8" fill="#3e1c0f"/><circle cx="473.4" cy="117.5" r="3.2" fill="#6e3f19"/><circle cx="473" cy="117" r="1.7" fill="#8c5726"/>
<circle cx="466.1" cy="117.5" r="3.8" fill="#3e1c0f"/><circle cx="466.1" cy="117.5" r="3.2" fill="#6e3f19"/><circle cx="465.7" cy="117" r="1.7" fill="#8c5726"/>
<circle cx="508.5" cy="120.7" r="6" fill="#3e1c0f"/><circle cx="508.5" cy="120.7" r="5" fill="#6e3f19"/><circle cx="507.9" cy="120" r="2.7" fill="#8c5726"/>
<path d="M0.3,-5 C3.4,-5.2 5.4,-2.6 4.9,0.8 C4.4,4 2.2,5.3 -0.8,4.8 C-3.8,4.3 -5.2,1.8 -4.6,-1.2 C-4,-3.8 -2.4,-4.9 0.3,-5 Z" transform="translate(456.5,60.8) rotate(85.7)" fill="#a88058" stroke="#8a5a2a" stroke-width="1.5"/>
<path d="M0.3,-5 C3.4,-5.2 5.4,-2.6 4.9,0.8 C4.4,4 2.2,5.3 -0.8,4.8 C-3.8,4.3 -5.2,1.8 -4.6,-1.2 C-4,-3.8 -2.4,-4.9 0.3,-5 Z" transform="translate(472.3,59.7) rotate(195.9)" fill="#a88058" stroke="#8a5a2a" stroke-width="1.5"/>
<path d="M0.3,-5 C3.4,-5.2 5.4,-2.6 4.9,0.8 C4.4,4 2.2,5.3 -0.8,4.8 C-3.8,4.3 -5.2,1.8 -4.6,-1.2 C-4,-3.8 -2.4,-4.9 0.3,-5 Z" transform="translate(444.1,74.4) rotate(133.2)" fill="#a88058" stroke="#8a5a2a" stroke-width="1.5"/>
<path d="M0.3,-5 C3.4,-5.2 5.4,-2.6 4.9,0.8 C4.4,4 2.2,5.3 -0.8,4.8 C-3.8,4.3 -5.2,1.8 -4.6,-1.2 C-4,-3.8 -2.4,-4.9 0.3,-5 Z" transform="translate(459.2,79.6) rotate(217.4)" fill="#a88058" stroke="#8a5a2a" stroke-width="1.5"/>
<path d="M0.3,-5 C3.4,-5.2 5.4,-2.6 4.9,0.8 C4.4,4 2.2,5.3 -0.8,4.8 C-3.8,4.3 -5.2,1.8 -4.6,-1.2 C-4,-3.8 -2.4,-4.9 0.3,-5 Z" transform="translate(473.9,75.5) rotate(225.3)" fill="#a88058" stroke="#8a5a2a" stroke-width="1.5"/>
<path d="M0.3,-5 C3.4,-5.2 5.4,-2.6 4.9,0.8 C4.4,4 2.2,5.3 -0.8,4.8 C-3.8,4.3 -5.2,1.8 -4.6,-1.2 C-4,-3.8 -2.4,-4.9 0.3,-5 Z" transform="translate(447.9,89.1) rotate(23.6)" fill="#a88058" stroke="#8a5a2a" stroke-width="1.5"/>
<path d="M0.3,-5 C3.4,-5.2 5.4,-2.6 4.9,0.8 C4.4,4 2.2,5.3 -0.8,4.8 C-3.8,4.3 -5.2,1.8 -4.6,-1.2 C-4,-3.8 -2.4,-4.9 0.3,-5 Z" transform="translate(467.6,91.8) rotate(4.7)" fill="#a88058" stroke="#8a5a2a" stroke-width="1.5"/>
<path d="M0.3,-5 C3.4,-5.2 5.4,-2.6 4.9,0.8 C4.4,4 2.2,5.3 -0.8,4.8 C-3.8,4.3 -5.2,1.8 -4.6,-1.2 C-4,-3.8 -2.4,-4.9 0.3,-5 Z" transform="translate(478,86.8) rotate(301.5)" fill="#a88058" stroke="#8a5a2a" stroke-width="1.5"/>
<path d="M0.3,-5 C3.4,-5.2 5.4,-2.6 4.9,0.8 C4.4,4 2.2,5.3 -0.8,4.8 C-3.8,4.3 -5.2,1.8 -4.6,-1.2 C-4,-3.8 -2.4,-4.9 0.3,-5 Z" transform="translate(429.4,94.7) rotate(93.4)" fill="#a88058" stroke="#8a5a2a" stroke-width="1.5"/>
<path d="M0.3,-5 C3.4,-5.2 5.4,-2.6 4.9,0.8 C4.4,4 2.2,5.3 -0.8,4.8 C-3.8,4.3 -5.2,1.8 -4.6,-1.2 C-4,-3.8 -2.4,-4.9 0.3,-5 Z" transform="translate(487.5,95.4) rotate(84.4)" fill="#a88058" stroke="#8a5a2a" stroke-width="1.5"/>
<path d="M0.3,-5 C3.4,-5.2 5.4,-2.6 4.9,0.8 C4.4,4 2.2,5.3 -0.8,4.8 C-3.8,4.3 -5.2,1.8 -4.6,-1.2 C-4,-3.8 -2.4,-4.9 0.3,-5 Z" transform="translate(452,104.9) rotate(358.4)" fill="#a88058" stroke="#8a5a2a" stroke-width="1.5"/>
<path d="M605.9,168 C606.2,155 607,142 607.6,135 C608,130.5 610,128.8 611.8,128.8 C614,128.8 616,131 616.3,135.5 C616.8,146 616.8,158 616.6,168 Z" fill="#8cc270" stroke="#6aa952" stroke-width="1"/>
<path d="M607,160 L610.5,157 L616,158.5 M610.5,157 L610,150.5 L607.3,148 M610,150.5 L616.3,148 M611.5,141 L608,139.5 M611.5,141 L616,139 M611.5,141 L611.8,134" stroke="#6aa952" stroke-width="0.7" fill="none"/>
<path d="M610.8,165.6 C616.5,165.5 621,171 621,176.5 C621,181.5 617,183.4 611,183.4 C605,183.4 600.8,181.6 600.8,176.5 C600.8,171 605,165.7 610.8,165.6 Z" fill="#a0714a" stroke="#7a4718" stroke-width="1.5"/>
</g>
<g id="gameto">
<clipPath id="gamc"><path d="M648.7,279.6 C647.7,279.6 646.1,278.2 646,275.7 C645.9,273.1 647.7,268.1 647.9,264.3 C648.1,260.5 647.9,256.7 647.1,252.9 C646.3,249.1 645.3,244.9 642.9,241.4 C640.5,237.9 637.4,235.2 632.9,232.1 C628.4,229 621.4,225.9 615.7,222.9 C610,219.9 604,216.4 598.6,214.3 C593.2,212.2 588.1,209.7 583.6,210.3 C579.1,210.9 575.6,216.2 571.4,217.9 C567.2,219.6 561.9,219.4 558.6,220.7 C555.3,222 553.8,223.2 551.4,225.7 C549,228.2 546.4,231.6 544.3,235.7 C542.2,239.8 540.1,244.3 538.6,250 C537.1,255.7 535.5,265 535.4,270 C535.3,275 536.4,277.4 537.9,280 C539.4,282.6 540.8,283.8 544.3,285.7 C547.8,287.6 553.8,289.5 558.6,291.4 C563.4,293.3 567,294.2 572.9,297.1 C578.8,300 588.8,305.2 594.3,308.6 C599.8,312.1 602.3,314.2 606.2,317.8 C610.1,321.4 614.6,325.3 617.5,330 C620.4,334.7 621.3,341.2 623.5,346 C625.7,350.8 627.8,355.2 630.5,358.5 C633.2,361.8 635.9,364 640,365.5 C644.1,367 649.7,367.6 655,367.5 C660.3,367.4 667.8,367.2 672,365 C676.2,362.8 678.1,358.7 680,354 C681.9,349.3 681.4,341.9 683.4,336.6 C685.4,331.3 688.5,326 692,322 C695.5,318 699.5,315.3 704.2,312.8 C708.9,310.3 714,309.5 720,307.1 C726,304.7 734.5,301.2 740,298.6 C745.5,296 749.6,294.5 752.9,291.4 C756.2,288.3 758.6,284.5 760,280 C761.4,275.5 761.9,269.5 761.4,264.3 C760.9,259.1 759,253.8 757.1,248.6 C755.2,243.4 752.4,237.4 750,232.9 C747.6,228.4 745.5,223.8 742.9,221.4 C740.3,219 737.2,219.9 734.3,218.6 C731.4,217.3 729,215.2 725.7,213.6 C722.4,212 718.3,209.3 714.3,208.9 C710.2,208.5 705.9,210 701.4,211.4 C696.9,212.8 692.6,214.5 687.1,217.1 C681.6,219.7 673.8,223.5 668.6,227.1 C663.4,230.7 658.6,235.3 655.7,238.6 C652.8,241.9 652.2,243.5 651.4,247.1 C650.6,250.7 650.6,255.2 650.7,260 C650.8,264.8 652.1,272.4 651.8,275.7 C651.5,279 649.7,279.6 648.7,279.6 Z"/></clipPath>
<path d="M648.7,279.6 C647.7,279.6 646.1,278.2 646,275.7 C645.9,273.1 647.7,268.1 647.9,264.3 C648.1,260.5 647.9,256.7 647.1,252.9 C646.3,249.1 645.3,244.9 642.9,241.4 C640.5,237.9 637.4,235.2 632.9,232.1 C628.4,229 621.4,225.9 615.7,222.9 C610,219.9 604,216.4 598.6,214.3 C593.2,212.2 588.1,209.7 583.6,210.3 C579.1,210.9 575.6,216.2 571.4,217.9 C567.2,219.6 561.9,219.4 558.6,220.7 C555.3,222 553.8,223.2 551.4,225.7 C549,228.2 546.4,231.6 544.3,235.7 C542.2,239.8 540.1,244.3 538.6,250 C537.1,255.7 535.5,265 535.4,270 C535.3,275 536.4,277.4 537.9,280 C539.4,282.6 540.8,283.8 544.3,285.7 C547.8,287.6 553.8,289.5 558.6,291.4 C563.4,293.3 567,294.2 572.9,297.1 C578.8,300 588.8,305.2 594.3,308.6 C599.8,312.1 602.3,314.2 606.2,317.8 C610.1,321.4 614.6,325.3 617.5,330 C620.4,334.7 621.3,341.2 623.5,346 C625.7,350.8 627.8,355.2 630.5,358.5 C633.2,361.8 635.9,364 640,365.5 C644.1,367 649.7,367.6 655,367.5 C660.3,367.4 667.8,367.2 672,365 C676.2,362.8 678.1,358.7 680,354 C681.9,349.3 681.4,341.9 683.4,336.6 C685.4,331.3 688.5,326 692,322 C695.5,318 699.5,315.3 704.2,312.8 C708.9,310.3 714,309.5 720,307.1 C726,304.7 734.5,301.2 740,298.6 C745.5,296 749.6,294.5 752.9,291.4 C756.2,288.3 758.6,284.5 760,280 C761.4,275.5 761.9,269.5 761.4,264.3 C760.9,259.1 759,253.8 757.1,248.6 C755.2,243.4 752.4,237.4 750,232.9 C747.6,228.4 745.5,223.8 742.9,221.4 C740.3,219 737.2,219.9 734.3,218.6 C731.4,217.3 729,215.2 725.7,213.6 C722.4,212 718.3,209.3 714.3,208.9 C710.2,208.5 705.9,210 701.4,211.4 C696.9,212.8 692.6,214.5 687.1,217.1 C681.6,219.7 673.8,223.5 668.6,227.1 C663.4,230.7 658.6,235.3 655.7,238.6 C652.8,241.9 652.2,243.5 651.4,247.1 C650.6,250.7 650.6,255.2 650.7,260 C650.8,264.8 652.1,272.4 651.8,275.7 C651.5,279 649.7,279.6 648.7,279.6 Z" fill="#9dc687"/>
<path d="M533.1,204L524.9,211M770.5,207.7L763.2,204.3M521.9,292.1L532.4,284.7M532.4,284.7L532.5,279.8M533.1,204L533.2,204M543.7,202.8L541.8,204.5M533.2,204L541.8,204.5M728.9,203.6L733.3,207.8M733.3,207.8L741.5,195.9M709.2,333.4L698.9,334.9M709.2,333.4L710.1,329.7M710.1,329.7L705,321.2M695.5,332.5L698.9,334.9M695.5,332.5L700.2,321.9M700.2,321.9L705,321.2M578,205.7L570.6,207.9M532.5,279.8L535,276.7M535,276.7L530.6,268.5M742.5,264.8L736.7,255.7M742.5,264.8L735.7,271.3M735.7,271.3L729.5,267.8M729.5,267.8L729.7,259.4M729.7,259.4L736.7,255.7M703,199L707.8,208.9M707.8,208.9L714.6,205.9M763.2,204.3L760.3,209M760.3,209L753.4,207.3M752.3,205.6L753.4,207.3M741.5,195.9L745.6,204.3M752.3,205.6L745.6,204.3M756.2,218.3L760.9,211.2M756.2,218.3L758.5,221.3M758.5,221.3L766.4,218.7M760.9,211.2L767.1,214.3M766.4,218.7L767.6,216.1M767.1,214.3L767.6,216.1M760.3,209L760.9,211.2M753.4,207.3L750.9,216.6M750.9,216.6L756.2,218.3M770.5,207.7L767.1,214.3M532.4,284.7L538.8,292.2M535,276.7L541.4,275.6M541.4,275.6L542.2,276M542.2,276L547.9,287.4M547.9,287.4L538.8,292.2M521.9,292.1L531.3,297.8M531.3,297.8L538.4,294M538.8,292.2L538.4,294M654.6,377.2L645.7,363.9M635.9,371.4L645.7,363.9M672.8,358.9L669.6,348.8M672.8,358.9L666.5,365.1M659.6,354.1L659.5,361.2M659.6,354.1L669.5,348.8M669.5,348.8L669.6,348.8M659.5,361.2L662.6,365M662.6,365L666.5,365.1M644.2,356L646.3,361.4M644.2,356L645.6,352.5M646.3,361.4L659.5,361.2M655.3,350.4L645.6,352.5M655.3,350.4L659.6,354.1M658.8,339.5L669.5,348.8M658.8,339.5L657.6,339.8M657.6,339.8L655.3,350.4M646.3,361.4L645.7,363.9M654.6,377.2L662.6,365M700.2,343.8L698.9,334.9M700.2,343.8L693.5,347.4M691.9,332.9L687.4,340.8M691.9,332.9L695.5,332.5M687.4,340.8L693.5,347.4M710.1,329.7L718.1,326.4M705,321.2L708.9,315.7M708.9,315.7L719.8,318.7M719.8,318.7L718.1,326.4M706.5,360.7L702.7,354.8M706.5,360.7L714.7,358.7M714.7,358.7L711.9,348.4M702.7,354.8L706.8,346.6M711.9,348.4L707.8,346.4M706.8,346.6L707.8,346.4M710.7,336.1L707.8,346.4M710.7,336.1L709.2,333.4M700.2,343.8L706.8,346.6M754.2,371.4L747.6,367.9M743.8,369.3L747.6,367.9M713.2,375.7L718.5,368.5M713.2,375.7L703.5,366.7M703.5,366.7L706.5,360.7M714.7,358.7L717.7,360.1M718.5,368.5L717.7,360.1M718.5,368.5L729.4,370.3M609.7,205L601.9,208.2M601.9,208.2L598.6,203.2M622.6,204.5L615.1,208.9M612.8,208.5L615.1,208.9M612.8,208.5L609.7,205M589.3,206.3L598.6,203.2M542.8,261.6L534.4,260.8M542.8,261.6L545,260.3M545,260.3L541.9,247.9M534.4,260.8L530.2,255.7M530.2,255.7L538.4,246.5M538.4,246.5L541.9,247.9M541.4,275.6L542.8,261.6M530.6,268.5L534.4,260.8M557.3,251.1L550.1,260.5M557.3,251.1L556.9,249.4M550.1,260.5L545,260.3M556.9,249.4L550.5,244.3M550.5,244.3L541.9,247.9M527.1,223.8L529.9,233.2M533.2,204L535.6,212.6M541.8,204.5L541.9,212M541.9,212L535.6,212.6M524.9,211L532.9,216.1M535.6,212.6L532.9,216.1M527.1,223.8L533.1,220.8M532.9,216.1L533.1,220.8M771.7,317.5L764.7,311.5M764.7,311.5L772.5,301.6M719.9,271L729.5,267.8M719.9,271L727.5,283.5M727.5,283.5L728.3,283.7M735.7,271.3L736.2,274.7M728.3,283.7L736.2,274.7M720.2,230.8L720.8,234.3M720.2,230.8L716.1,227.4M710.1,233.2L711.4,237.8M710.1,233.2L714.7,227.5M711.4,237.8L718.5,237M718.5,237L720.8,234.3M714.7,227.5L716.1,227.4M628.2,206.5L635.2,210.7M628.2,206.5L635.3,198.3M635.2,210.7L639.2,205.1M639.2,205.1L635.3,198.3M625.6,206.7L624.6,216.2M625.6,206.7L628.2,206.5M624.6,216.2L631.5,217.1M635.2,210.7L635.7,212.5M631.5,217.1L635.7,212.5M649,337.1L643.2,343.9M649,337.1L646.4,328.4M643.1,328.1L634.4,333.1M643.1,328.1L646.4,328.4M634.4,333.1L635.9,342.3M635.9,342.3L643.2,343.9M657.6,339.8L649,337.1M645.6,352.5L643.2,343.9M649.8,324.3L657,323M649.8,324.3L646.4,328.4M657,323L663.7,333.3M658.8,339.5L663.7,333.3M627.9,330.4L625.1,332.3M627.9,330.4L634.4,333.1M625.1,332.3L623.3,341.8M632.8,344.3L623.3,341.8M632.8,344.3L635.9,342.3M691.9,332.9L683.9,325.2M683.9,325.2L683.9,325.2M687.4,340.8L684.1,341.5M684.1,341.5L676,335.1M683.9,325.2L676,335.1M663.7,333.3L668.8,332.5M669.6,348.8L670.7,348M670.7,348L673.7,335.4M668.8,332.5L673.7,335.4M670.7,348L680.7,347.6M684.1,341.5L680.7,347.6M676,335.1L673.7,335.4M700.2,321.9L695.9,318.7M708.9,315.7L708,311M708,311L695.4,307.6M695.9,318.7L695.4,307.6M683.9,325.2L686.2,321.1M695.9,318.7L686.2,321.1M657,323L660.8,318.3M668.8,332.5L671.3,320.7M660.8,318.3L671.3,320.7M683.9,325.2L672.4,320.1M671.3,320.7L672.4,320.1M632.6,255.2L629.6,244M632.6,255.2L622.2,255.1M622.1,249.2L622.2,255.1M622.1,249.2L627.3,243.5M627.3,243.5L629.6,244M639.1,242.6L636.3,240.5M639.1,242.6L637.9,254.1M636.3,240.5L629.6,244M637.9,254.1L633.1,255.4M633.1,255.4L632.6,255.2M615.8,243.6L622.1,249.2M615.8,243.6L615.5,241.4M627.3,243.5L624.1,239.2M615.5,241.4L624.1,239.2M635.6,235.5L631.4,232M635.6,235.5L636.3,240.5M631.4,232L625.2,233.9M624.1,239.2L625.2,233.9M608.8,214.5L612.6,220.7M608.8,214.5L612.8,208.5M615.1,208.9L617.8,215.7M612.6,220.7L617.8,215.7M631.9,226.1L623.7,223.2M631.9,226.1L634,223.9M624.6,216.2L624.1,216.7M634,223.9L631.5,217.1M623.7,223.2L624.1,216.7M622.6,204.5L625.6,206.7M624.1,216.7L617.8,215.7M766.4,218.7L769.2,224.5M575.1,270.8L565.7,264.7M575.1,270.8L569.2,281.7M565.7,264.7L557,269.7M559.7,279.3L556.7,271.7M559.7,279.3L566.8,282.2M556.7,271.7L557,269.7M566.8,282.2L569.2,281.7M557.3,251.1L566.9,256M550.1,260.5L557,269.7M566.9,256L565.7,264.7M542.2,276L556.7,271.7M550.6,288.1L547.9,287.4M550.6,288.1L559.7,279.3M585.9,282.2L595.8,282.2M585.9,282.2L583,286.9M598,294.5L600.7,289.9M598,294.5L590.2,295M595.8,282.2L600.7,289.9M590.2,295L583,286.9M550.6,288.1L555.6,297.6M566.8,282.2L563.5,296.8M555.6,297.6L563.5,296.8M569.2,281.7L578.7,288M574,299.8L578.7,288M574,299.8L569.1,300.3M563.5,296.8L569.1,300.3M601.2,302.1L598,294.5M601.2,302.1L605.6,304.2M600.7,289.9L609.4,287.2M611.6,289.2L609.4,287.2M611.6,289.2L612.3,298.8M612.3,298.8L605.6,304.2M703.5,366.7L698.7,367.7M675,376.8L666.5,365.1M684.1,354.7L692.5,354.7M684.1,354.7L679.2,360M679.2,360L681.4,365M681.4,365L689.9,367.5M693.7,365.4L689.9,367.5M693.7,365.4L692.6,354.9M692.6,354.9L692.5,354.7M693.5,347.4L692.5,354.7M680.7,347.6L684.1,354.7M672.8,358.9L679.2,360M675,376.8L681.4,365M698.7,367.7L693.7,365.4M702.7,354.8L692.6,354.9M550.2,365.8L563.8,361.3M563.8,361.3L566.5,362.8M634.7,356.2L630.2,366.9M634.7,356.2L631.7,353.1M631.7,353.1L623.5,354M623.5,354L623.2,366.1M630.2,366.9L623.5,366.6M623.5,366.6L623.2,366.1M644.2,356L634.7,356.2M635.9,371.4L630.2,366.9M632.8,344.3L631.7,353.1M617.3,377.6L623.5,366.6M625.1,332.3L615.9,329.3M611.5,332.4L615.9,329.3M611.5,332.4L615.4,340.8M623.3,341.8L622.7,342.2M615.4,340.8L622.7,342.2M623.5,354L621,351.9M622.7,342.2L621,351.9M623.2,366.1L613.3,361.3M621,351.9L613.6,353.2M613.3,361.3L613.6,353.2M617.3,377.6L605.8,366M613.3,361.3L605.8,366M602.7,366.4L603.5,365.9M605.8,366L603.5,365.9M593.7,366.5L588.5,361M578.4,366.8L584.7,361M584.7,361L588.5,361M602.7,366.4L593.7,366.5M577.4,349.3L584.7,361M577.4,349.3L575.5,349.9M575.5,349.9L568.1,362.5M568.1,362.5L578.4,366.8M568.1,362.5L566.5,362.8M594.6,351.2L602.3,355.1M594.6,351.2L594,348.7M594,348.7L602,341M602.3,355.1L609.9,350.5M602,341L609.4,346.9M609.4,346.9L609.9,350.5M603.5,365.9L602.3,355.1M588.5,361L594.6,351.2M577.4,349.3L578.3,347.9M578.3,347.9L589.9,346M589.9,346L594,348.7M613.6,353.2L609.9,350.5M615.4,340.8L609.4,346.9M611.5,332.4L610.3,332.3M602,341L602,339.5M610.3,332.3L602,339.5M589.9,346L589,334.8M602,339.5L593.6,331.2M589,334.8L593.6,331.2M578.3,347.9L577.3,335.3M577.3,335.3L578.1,334.3M589,334.8L578.1,334.3M568.3,314.4L577.1,314.5M568.3,314.4L564.8,321.8M564.8,321.8L565.6,323.9M565.6,323.9L577.2,325.9M577.1,314.5L579.4,322.5M579.4,322.5L577.2,325.9M710.7,336.1L719.9,338.3M711.9,348.4L719.5,345.6M719.5,345.6L719.9,338.3M615.8,243.6L611.6,251.3M622.2,255.1L621.1,256.1M611.6,251.3L613.2,256.6M621.1,256.1L613.2,256.6M759.7,286.1L762.8,279.7M759.7,286.1L764.3,290.9M764.3,290.9L775,287M775,287L767.8,279.1M767.8,279.1L762.8,279.7M763.4,296.9L772.5,301.6M763.4,296.9L764.3,290.9M770.5,273.4L767.8,279.1M763.4,296.9L760,298.9M753.7,286.9L753,296M753.7,286.9L759.7,286.1M760,298.9L753,296M708,311L711.2,305.2M719.8,318.7L722.9,316.9M722.9,316.9L722.9,306.4M722.9,306.4L711.2,305.2M752.4,286L742.7,287.2M752.4,286L751.1,274.9M742.7,287.2L741.6,278.2M751.1,274.9L741.6,278.2M730.9,287.5L742.3,287.6M730.9,287.5L728.3,283.7M736.2,274.7L741.6,278.2M742.3,287.6L742.7,287.2M763.2,262.7L751.9,259.7M763.2,262.7L764.3,264.7M764.3,264.7L764.3,265M764.3,265L758,273.5M747.6,264.9L751.9,259.7M747.6,264.9L751.7,273.9M751.7,273.9L758,273.5M765.3,253.8L763.2,262.7M770.5,273.4L764.3,265M762.8,279.7L758,273.5M742.5,264.8L747.6,264.9M751.1,274.9L751.7,273.9M753.7,286.9L752.4,286M692,218L694.8,225.2M692,218L687.9,216.7M694.7,225.4L694.8,225.2M694.7,225.4L687,228.2M687.9,216.7L683.9,219.2M683.9,219.2L687,228.2M709.8,256.6L714.8,250.1M709.8,256.6L717.5,261.7M714.8,250.1L723.4,253.7M717.5,261.7L723.8,256.2M723.8,256.2L723.4,253.7M714.6,247L714.8,250.1M714.6,247L720.8,243.7M720.8,243.7L726.9,245.8M726.9,245.8L723.4,253.7M750.9,216.6L750.6,216.7M758.4,226.1L755.5,228.9M758.4,226.1L758.5,221.3M750.6,216.7L746.6,226.7M746.6,226.7L747.9,228.9M755.5,228.9L747.9,228.9M720.2,230.8L728.1,225.1M728.1,225.1L728.8,225.2M728.8,225.2L730.7,227.4M720.8,234.3L728.9,236.8M730.7,227.4L728.9,236.8M720.8,243.7L718.5,237M727,245.8L726.9,245.8M727,245.8L729,236.9M729,236.9L728.9,236.8M710.8,216.8L708.4,221.9M710.8,216.8L707,211.6M707,211.6L699.5,213M708.4,221.9L704.1,223.8M699.5,213L698.9,214.5M698.9,214.5L702.7,223.1M704.1,223.8L702.7,223.1M696.7,207.9L703,199M696.7,207.9L699.5,213M707.8,208.9L707,211.6M710.1,233.2L704.3,230.4M704.3,230.4L704.1,223.8M714.7,227.5L708.4,221.9M692,218L698.9,214.5M694.8,225.2L702.7,223.1M694.7,225.4L697.2,234.1M704.3,230.4L700,234M697.2,234.1L700,234M722.6,220.5L725,213.2M722.6,220.5L719.4,220.9M719.4,220.9L714.3,216.3M714.3,216.3L719.5,209.3M725,213.2L720.4,209.2M720.4,209.2L719.5,209.3M728.1,225.1L722.6,220.5M716.1,227.4L719.4,220.9M710.8,216.8L714.3,216.3M714.6,205.9L719.5,209.3M723.3,204.3L720.4,209.2M655.7,237.8L649.7,231.3M655.7,237.8L654.1,240.9M654.1,240.9L646.2,242.4M645.8,232L649.7,231.3M645.8,232L645.9,242.2M645.9,242.2L646.2,242.4M657.9,248.7L649.9,255.5M657.9,248.7L654.1,240.9M648.6,255.4L649.9,255.5M648.6,255.4L646.2,242.4M635.6,235.5L643,230.5M639.1,242.6L645.9,242.2M643,230.5L645.8,232M645.8,256.9L637.9,254.1M645.8,256.9L648.6,255.4M634,223.9L640.2,223.4M635.7,212.5L640.5,215.1M640.2,223.4L640.5,215.1M631.9,226.1L631.4,232M643,230.5L641.6,224.3M640.2,223.4L641.6,224.3M657.4,226.3L660.4,235.4M657.4,226.3L655.8,225.4M660.4,235.4L655.7,237.8M649.7,231.3L653.1,226.2M655.8,225.4L653.1,226.2M641.6,224.3L647.6,222M653.1,226.2L647.6,222M686.2,321.1L684.1,311M695.4,307.6L695.4,307.6M684.1,311L695.4,307.6M672.4,320.1L674.3,313M684.1,311L681.5,309.4M674.3,313L681.5,309.4M660.8,318.3L660.3,313.8M674.3,313L667.2,306.9M667.2,306.9L660.3,313.8M646,313.5L651,306.5M646,313.5L649.8,324.3M660.3,313.8L651,306.5M580.8,209.3L578,205.7M580.8,209.3L588,208.4M589.3,206.3L589,207.5M588,208.4L589,207.5M742.9,210.5L744.4,214.2M742.9,210.5L733.5,209.4M744.4,214.2L739.5,219.4M739.5,219.4L733.2,217.4M733.2,217.4L731.5,213M733.5,209.4L731.5,213M745.6,204.3L742.9,210.5M750.6,216.7L744.4,214.2M733.3,207.8L733.5,209.4M746.6,226.7L740.8,224.1M740.8,224.1L739.5,219.4M728.8,225.2L733.2,217.4M740.8,224.1L735.8,228.1M730.7,227.4L735.8,228.1M725,213.2L731.5,213M728.9,203.6L723.3,204.3M750.6,250.2L750.7,250.1M750.6,250.2L737.8,251.8M750.7,250.1L751,243.1M751,243.1L744.4,237M736,248.7L737.8,251.8M736,248.7L739.9,237.8M744.4,237L740.4,237.5M739.9,237.8L740.4,237.5M765.3,253.8L763,250.6M763,250.6L750.7,250.1M751.9,259.7L750.6,250.2M736.7,255.7L737.8,251.8M755.5,228.9L758.1,238.6M747.9,228.9L744.4,237M758.1,238.6L751,243.1M729.7,259.4L723.8,256.2M727,245.8L736,248.7M729,236.9L739.9,237.8M735.8,228.1L740.4,237.5M766.2,229.2L762.9,239.3M766.2,229.2L766.3,229.2M765.4,241.4L762.9,239.3M758.4,226.1L766.2,229.2M758.1,238.6L762.9,239.3M769.2,224.5L766.3,229.2M763,250.6L765.4,241.4M569.5,240.8L570.5,239.9M569.5,240.8L572.9,252.9M570.5,239.9L581.1,237.7M572.9,252.9L574,253.1M574,253.1L584,243.9M581.1,237.7L584.4,240.6M584.4,240.6L584,243.9M566.9,256L572.9,252.9M556.9,249.4L564.1,240.5M564.1,240.5L569.5,240.8M575.1,270.8L578.8,269.6M574,253.1L581,259.8M581,259.8L578.8,269.6M585.9,282.2L584.5,273.2M583,286.9L578.7,288M578.8,269.6L584.5,273.2M531.4,324.5L533.6,315.7M533.6,315.7L529.3,308.8M531.3,297.8L529.9,308.2M529.3,308.8L529.9,308.2M538.4,294L544.1,304.5M529.9,308.2L544.1,304.5M578.8,311.6L576.6,301.9M578.8,311.6L591.4,310.8M576.6,301.9L586.9,300.7M591.4,310.8L586.9,300.7M568.3,314.4L565.7,310.2M577.1,314.5L578.8,311.6M574,299.8L576.6,301.9M565.7,310.2L569.1,300.3M590.2,295L586.9,300.7M591.5,310.9L591.4,310.8M591.5,310.9L601.2,302.1M711.2,305.2L709.6,300M709.6,300L698.7,298.7M695.4,307.6L695.5,301.1M698.7,298.7L695.5,301.1M645.8,256.9L644.4,264.3M649.9,255.5L658.2,262.8M658.2,262.8L651.8,272.7M644.4,264.3L651.8,272.7M542.8,370.7L531.9,365.7M529.6,366.9L531.9,365.7M550.2,365.8L548.7,365.2M548.7,365.2L542.8,370.7M528.3,352.3L533.9,359.7M533.9,359.7L531.9,365.7M577.3,335.3L565.6,336.3M565.6,323.9L562.3,331.6M578.1,334.3L577.2,325.9M565.6,336.3L562.3,331.6M575.5,349.9L562.9,345.6M565.6,336.3L562.9,345.6M563.8,361.3L559.3,351.4M559.3,351.4L561.5,346.5M562.9,345.6L561.5,346.5M589.2,322.1L593.8,329.9M589.2,322.1L592.6,313.8M593.8,329.9L603.3,324.6M592.6,313.8L604.8,317.9M604.8,317.9L603.3,324.6M593.6,331.2L593.8,329.9M579.4,322.5L589.2,322.1M591.5,310.9L592.6,313.8M610.3,332.3L603.3,324.6M608.3,315.4L609.3,312.9M608.3,315.4L604.8,317.9M605.6,304.2L609.3,312.9M608.3,315.4L616.4,322.9M616.4,322.9L615.9,329.3M717.7,360.1L724.8,356.1M719.5,345.6L724.3,349.5M724.8,356.1L724.3,349.5M765.6,330.5L764,342.3M771.7,317.5L764.3,328.7M764.3,328.7L765.6,330.5M763.4,342.9L764,342.3M763.4,342.9L762.3,347.8M762.3,347.8L767.6,354.2M760,367.5L760.1,362.5M760,367.5L767.2,372.8M760.1,362.5L766.6,359.2M766.6,359.2L773.5,365.4M767.2,372.8L773.5,365.4M754.2,371.4L760,367.5M767.6,354.2L766.6,359.2M580.8,209.3L578.4,214.6M570.6,207.9L570.1,208.8M570.1,208.8L576.9,214.9M578.4,214.6L576.9,214.9M570.1,208.8L569.3,209.2M569.3,209.2L562.3,206.4M529.9,233.2L531.1,233.8M531.1,233.8L533.8,240.5M538.4,246.5L535.8,241.4M535.8,241.4L533.8,240.5M535.5,222.2L542.8,220.7M535.5,222.2L537,228.9M537,228.9L542.4,231.7M542.4,231.7L546.8,224.5M542.8,220.7L546.8,224.5M541.9,212L544.3,214M533.1,220.8L535.5,222.2M544.3,214L542.8,220.7M531.1,233.8L537,228.9M543.3,234.6L542.4,231.7M543.3,234.6L535.8,241.4M550.5,244.3L550.2,237.7M564.1,240.5L560.5,235.2M550.2,237.7L560.5,235.2M543.3,234.6L550,237.5M550.2,237.7L550,237.5M764.7,311.5L764,311.4M760,298.9L759.1,306.5M764,311.4L759.1,306.5M764.3,328.7L763.2,328.3M763.2,328.3L756.9,319M764,311.4L756.9,319M763.2,328.3L749.6,333M749.6,333L748.6,324.2M748.6,324.2L753.8,318.7M756.9,319L753.8,318.7M742.3,287.6L742.7,294.4M753,296L749.4,298.1M742.7,294.4L749.4,298.1M730.3,294.8L737.4,298.7M730.3,294.8L730.9,287.5M742.7,294.4L737.4,298.7M688.1,212L684,207.5M688.1,212L694.1,207.4M684,207.5L688.9,200.3M694.1,207.4L688.9,200.3M696.7,207.9L694.1,207.4M687.9,216.7L688.1,212M676.9,203.9L678.9,207.7M676.9,203.9L667.7,205.3M678.9,207.7L677.3,211.5M677.3,211.5L670.7,212.5M670.7,212.5L667.1,206M667.7,205.3L667.1,206M684,207.5L678.9,207.7M680.5,218.9L683.9,219.2M680.5,218.9L677.3,211.5M704.2,248L700.4,246.5M704.2,248L711.4,244M700.4,246.5L703.8,239.4M703.8,239.4L710.8,238.9M711.4,244L710.8,238.9M708.8,256.7L704.2,248M708.8,256.7L709.8,256.6M714.6,247L711.4,244M711.4,237.8L710.8,238.9M700,234L703.8,239.4M647.7,200.2L652.4,205.8M652.4,205.8L658.9,202.3M639.2,205.1L642.5,205.4M642.5,205.4L647.7,200.2M663.3,206.6L667.1,206M663.3,206.6L658.9,202.3M645.6,211L652.2,207.6M645.6,211L644.9,213.2M644.9,213.2L649.1,217.2M654.6,211.1L652.8,216.3M654.6,211.1L652.2,207.6M652.8,216.3L649.1,217.2M642.5,205.4L645.6,211M652.4,205.8L652.2,207.6M640.5,215.1L644.9,213.2M647.6,222L649.1,217.2M660.7,211.5L662.5,216.4M660.7,211.5L654.6,211.1M662.5,216.4L656.4,219.5M656.4,219.5L652.8,216.3M660.7,211.5L663.3,206.6M655.8,225.4L656.4,219.5M658.2,262.8L663.5,262.4M652.4,275.6L652,275.2M652.4,275.6L666,274.5M651.8,272.7L652,275.2M663.5,262.4L666,274.5M657.9,248.7L661.3,249.1M661.3,249.1L666.9,256.4M666.9,256.4L666,260.1M663.5,262.4L666,260.1M661.7,288L669.2,276.9M661.7,288L654.6,284.6M654.6,284.6L652.4,275.6M666,274.5L669.2,276.9M666.9,242.1L672.8,246.2M666.9,242.1L661.3,249.1M666.9,256.4L673.2,252.6M673.2,252.6L672.8,246.2M655.9,299.9L667.2,303.3M655.9,299.9L662.2,289.2M668.1,292.5L662.2,289.2M668.1,292.5L668.4,302.1M668.4,302.1L667.2,303.3M667.2,306.9L667.2,303.3M654.7,300.3L655.9,299.9M654.7,300.3L651,306M651,306L651,306.5M661.7,288L662.2,289.2M654.6,284.6L648,290.5M648,290.5L654.7,300.3M680.1,301L681.5,309.4M680.1,301L668.4,302.1M601.9,208.2L601.5,210M589,207.5L594.9,212.2M594.9,212.2L601.5,210M608.8,214.5L603.6,214.1M603.6,214.1L601.5,210M594.9,212.2L594.6,216.8M594.6,216.8L600.4,220.6M603.6,214.1L601,220.3M601,220.3L600.4,220.6M570.5,239.9L570,229.8M560.7,233.8L560.5,235.2M560.7,233.8L568.1,228.3M570,229.8L568.1,228.3M561.8,223.2L563.2,216.2M561.8,223.2L567.6,226.1M566.4,215.2L563.2,216.2M566.4,215.2L571.5,220.6M567.6,226.1L571.5,220.6M576.9,214.9L572.9,220.4M566.4,215.2L569.3,209.2M571.5,220.6L572.9,220.4M584,243.9L588.8,251.7M581,259.8L586,258.1M586,258.1L588.8,251.7M551.9,303.6L556.5,310.5M551.9,303.6L545.4,305.1M545.4,305.1L543.4,316M556.5,310.5L555.1,318.1M555.1,318.1L553.4,319.3M553.4,319.3L544.7,317.9M544.7,317.9L543.4,316M565.7,310.2L556.5,310.5M555.6,297.6L551.9,303.6M544.1,304.5L545.4,305.1M533.6,315.7L543.4,316M564.8,321.8L555.1,318.1M552.7,331.3L562.3,331.6M552.7,331.3L553.4,319.3M531.4,324.5L541.1,328.2M541.1,328.2L544.7,317.9M727.5,283.5L717.6,287.5M730.3,294.8L724.8,298.9M724.8,298.9L715.6,291.8M717.6,287.5L715.6,291.8M724.8,298.9L724.1,305.1M722.9,306.4L724.1,305.1M709.6,300L712.8,293M715.6,291.8L712.8,293M644.4,264.3L636,269.2M652,275.2L638.9,279M638.9,279L636,269.2M633.1,255.4L632.4,267M632.4,267L636,269.2M621.1,256.1L624,269.1M632.4,267L624,269.1M612.6,257.2L613.2,256.6M612.6,257.2L612.6,267.2M612.6,267.2L623.3,269.9M624,269.1L623.3,269.9M620.8,309.1L622.5,306.2M620.8,309.1L624.5,319.1M622.5,306.2L635,310.2M628.6,321.2L624.5,319.1M628.6,321.2L633.9,318.7M633.9,318.7L636.3,313.5M636.3,313.5L635,310.2M612.3,298.8L622.3,302.9M609.3,312.9L620.8,309.1M622.3,302.9L622.5,306.2M616.4,322.9L624.5,319.1M627.9,330.4L628.6,321.2M643.1,328.1L633.9,318.7M646,313.5L636.3,313.5M651,306L638.5,299.4M638.5,299.4L635,310.2M541.1,328.2L541.4,328.8M552.7,331.3L551.6,332.1M541.4,328.8L551.6,332.1M561.5,346.5L550.7,339.7M551.6,332.1L550.7,339.7M763.4,342.9L749.6,337.7M749.6,333L749.4,333.3M749.6,337.7L749.4,333.3M743.8,369.3L738.6,363.8M729.4,370.3L731.6,365.1M738.6,363.8L731.6,365.1M724.8,356.1L727.7,357.3M731.6,365.1L727.7,357.3M548.9,212.9L553.6,216.7M548.9,212.9L550.9,206.5M553.6,216.7L558.7,213.9M558.7,213.9L558.7,208.5M558.7,208.5L553.4,205.2M550.9,206.5L553.4,205.2M543.7,202.8L550.9,206.5M544.3,214L548.9,212.9M563.2,216.2L558.7,213.9M562.3,206.4L558.7,208.5M553.5,218.7L547.8,224.5M553.5,218.7L558.9,224.4M547.8,224.5L552.3,228.5M552.3,228.5L557.3,227.6M558.9,224.4L557.3,227.6M546.8,224.5L547.8,224.5M553.6,216.7L553.5,218.7M561.8,223.2L558.9,224.4M550,237.5L552.3,228.5M560.7,233.8L557.3,227.6M567.6,226.1L568.1,228.3M748.4,308.4L748.1,310.2M748.4,308.4L747.8,307.3M747.8,307.3L737.9,303.7M748.1,310.2L740.9,316.1M740.9,316.1L735.3,313.5M735.3,313.5L734.4,307.3M734.4,307.3L737.9,303.7M759.1,306.5L748.4,308.4M753.8,318.7L748.1,310.2M749.4,298.1L747.8,307.3M737.4,298.7L737.9,303.7M741.5,321.1L748.6,324.2M741.5,321.1L740.9,316.1M728,318.9L722.9,316.9M728,318.9L735.3,313.5M724.1,305.1L734.4,307.3M680.5,218.9L676.6,222M687,228.2L685.9,230.8M676.6,222L677.4,229.5M677.4,229.5L685.9,230.8M663.9,224.5L667.3,227M663.9,224.5L664.1,217.3M667.3,227L673,221.5M673,221.5L668.6,216.5M664.1,217.3L668.6,216.5M657.4,226.3L663.9,224.5M662.5,216.4L664.1,217.3M670.7,212.5L668.6,216.5M676.6,222L673,221.5M673.2,252.6L680.8,254.6M677.6,242.9L672.8,246.2M677.6,242.9L682.1,246.9M680.8,254.6L682.1,246.9M695.4,235.5L694.3,239.4M695.4,235.5L686.1,231.3M694.3,239.4L687.8,241.9M687.8,241.9L684.4,237.5M684.4,237.5L686.1,231.3M697.2,234.1L695.4,235.5M700.4,246.5L699.2,246.7M699.2,246.7L694.3,239.4M685.9,230.8L686.1,231.3M699.2,246.7L693.7,253M693.7,253L687.4,244.1M687.4,244.1L687.8,241.9M677.6,242.9L678.1,239.1M678.1,239.1L684.4,237.5M687.4,244.1L682.1,246.9M596.6,244.5L602.8,248.4M596.6,244.5L595.4,240.6M595.4,240.6L599.6,237.7M599.6,237.7L605.3,237.9M605.3,247.3L602.8,248.4M605.3,247.3L607.4,240.5M607.4,240.5L605.3,237.9M592.9,251.2L600.1,256.8M592.9,251.2L596.6,244.5M600.1,256.8L602.8,248.4M584.4,240.6L590.1,239M590.1,239L595.4,240.6M592.9,251.2L588.8,251.7M592.5,227.6L597.6,227.2M592.5,227.6L590.1,239M597.6,227.2L597.8,227.4M597.8,227.4L599.6,237.7M611.6,251.3L605.3,247.3M612.6,257.2L600.6,258.7M600.6,258.7L600.1,256.8M615.5,241.4L615.1,241.1M615.1,241.1L607.4,240.5M612.4,221.9L619.8,227M612.4,221.9L610,223.4M610,223.4L607.7,230.2M615.5,233.1L607.9,230.8M615.5,233.1L619.9,229.5M607.7,230.2L607.9,230.8M619.9,229.5L619.8,227M612.6,220.7L612.4,221.9M623.7,223.2L619.8,227M601,220.3L610,223.4M600.4,220.6L597.6,227.2M597.8,227.4L607.7,230.2M615.1,241.1L615.5,233.1M605.3,237.9L607.9,230.8M625.2,233.9L619.9,229.5M578.6,225.1L578.6,229.3M578.6,225.1L584.8,219.2M590.4,226.2L587.6,220M590.4,226.2L580.5,231.8M580.5,231.8L578.6,229.3M587.6,220L586.2,219.2M586.2,219.2L584.8,219.2M570,229.8L578.6,229.3M572.9,220.4L578.6,225.1M578.4,214.6L584.8,219.2M594.6,216.8L587.6,220M592.5,227.6L590.4,226.2M581.1,237.7L580.5,231.8M588,208.4L586.2,219.2M600,259.9L593.7,263M600,259.9L606.4,272.1M593.7,263L591.9,270M591.9,270L598.8,274.9M598.8,274.9L606.1,272.9M606.4,272.1L606.1,272.9M586,258.1L593.7,263M600.6,258.7L600,259.9M612.6,267.2L606.4,272.1M584.5,273.2L591.9,270M595.8,282.2L598.8,274.9M609.4,287.2L610.5,280.1M610.5,280.1L606.1,272.9M610.5,280.1L622.6,276.7M622.6,276.7L623.3,269.9M680.1,301L681,299.3M695.5,301.1L688.4,297M681,299.3L688.4,297M668.1,292.5L676.2,289.7M681,299.3L676.2,289.7M669.2,276.9L669.2,276.9M669.2,276.9L677.2,287M676.2,289.7L677.2,287M666,260.1L675.4,265.1M669.2,276.9L674.8,272.9M675.4,265.1L674.8,272.9M637.7,281.3L627,282.8M637.7,281.3L641.6,290.4M641.6,290.4L637.7,297.4M637.7,297.4L626.4,296.1M627,282.8L624,290M624,290L626.4,296.1M638.9,279L637.7,281.3M622.6,276.7L627,282.8M648,290.5L641.6,290.4M638.5,299.4L637.7,297.4M622.3,302.9L626.4,296.1M611.6,289.2L624,290M547.4,342.4L536,340.7M547.4,342.4L547.7,354.4M543.4,355.6L546.1,356.1M543.4,355.6L535.1,345.7M535.1,345.7L535.7,340.9M546.1,356.1L547.7,354.4M535.7,340.9L536,340.7M541.4,328.8L536,340.7M550.7,339.7L547.4,342.4M559.3,351.4L547.7,354.4M548.7,365.2L546.1,356.1M533.9,359.7L543.4,355.6M528.3,352.3L535.1,345.7M745.7,344.2L737.8,344.9M745.7,344.2L751.8,354.2M737.8,344.9L736.2,353.5M751.8,354.2L751.6,355.6M740.3,357.9L736.2,353.5M740.3,357.9L751.4,355.8M751.4,355.8L751.6,355.6M762.3,347.8L751.8,354.2M749.6,337.7L745.7,344.2M724.3,349.5L733.8,342.1M733.8,342.1L737.8,344.9M727.7,357.3L736.2,353.5M760.1,362.5L751.6,355.6M738.6,363.8L740.3,357.9M747.6,367.9L751.4,355.8M733.5,341.2L736.9,330.8M733.5,341.2L723.4,335.5M723.5,332.3L731.6,325.8M723.5,332.3L723.4,335.5M736.9,330.8L735.2,327.2M731.6,325.8L735.2,327.2M749.4,333.3L736.9,330.8M733.8,342.1L733.5,341.2M719.9,338.3L723.4,335.5M718.1,326.4L723.5,332.3M728,318.9L731.6,325.8M741.5,321.1L735.2,327.2M674.9,235.7L674.7,232.5M674.9,235.7L666.7,240.7M674.7,232.5L667.8,229.6M667.8,229.6L662.4,235.7M666.7,240.7L662.4,235.7M677.4,229.5L674.7,232.5M678.1,239.1L674.9,235.7M666.9,242.1L666.7,240.7M667.3,227L667.8,229.6M660.4,235.4L662.4,235.7M693.7,253L693,255.9M680.8,254.6L683.5,257.9M683.5,257.9L693,255.9M675.4,265.1L682.4,260.9M683.5,257.9L682.4,260.9M708.8,256.7L705,259.9M705,259.9L694.4,257.4M693,255.9L694.4,257.4M705.2,279.5L704.3,269.9M705.2,279.5L713.3,279.3M713.3,279.3L719.1,270.8M705.5,268.4L704.3,269.9M705.5,268.4L718.2,269.6M718.2,269.6L719.1,270.8M719.9,271L719.1,270.8M717.6,287.5L713.3,279.3M705,259.9L705.5,268.4M694.4,257.4L694.4,269.6M694.4,269.6L704.3,269.9M717.5,261.7L718.2,269.6M701.3,283.7L690.6,273.4M701.3,283.7L701,285.4M700.5,285.9L689.4,288M700.5,285.9L701,285.4M689.4,288L684.6,283.7M684.6,283.7L686.1,275.5M686.1,275.5L688,273.8M688,273.8L690.6,273.4M694.4,269.6L690.6,273.4M705.2,279.5L701.3,283.7M712.8,293L701,285.4M698.7,298.7L700.5,285.9M688.4,297L689.4,288M677.2,287L684.6,283.7M674.8,272.9L686.1,275.5M682.4,260.9L688,273.8" fill="none" stroke="#72b058" stroke-width="1.65" clip-path="url(#gamc)"/>
<path d="M648.7,279.6 C647.7,279.6 646.1,278.2 646,275.7 C645.9,273.1 647.7,268.1 647.9,264.3 C648.1,260.5 647.9,256.7 647.1,252.9 C646.3,249.1 645.3,244.9 642.9,241.4 C640.5,237.9 637.4,235.2 632.9,232.1 C628.4,229 621.4,225.9 615.7,222.9 C610,219.9 604,216.4 598.6,214.3 C593.2,212.2 588.1,209.7 583.6,210.3 C579.1,210.9 575.6,216.2 571.4,217.9 C567.2,219.6 561.9,219.4 558.6,220.7 C555.3,222 553.8,223.2 551.4,225.7 C549,228.2 546.4,231.6 544.3,235.7 C542.2,239.8 540.1,244.3 538.6,250 C537.1,255.7 535.5,265 535.4,270 C535.3,275 536.4,277.4 537.9,280 C539.4,282.6 540.8,283.8 544.3,285.7 C547.8,287.6 553.8,289.5 558.6,291.4 C563.4,293.3 567,294.2 572.9,297.1 C578.8,300 588.8,305.2 594.3,308.6 C599.8,312.1 602.3,314.2 606.2,317.8 C610.1,321.4 614.6,325.3 617.5,330 C620.4,334.7 621.3,341.2 623.5,346 C625.7,350.8 627.8,355.2 630.5,358.5 C633.2,361.8 635.9,364 640,365.5 C644.1,367 649.7,367.6 655,367.5 C660.3,367.4 667.8,367.2 672,365 C676.2,362.8 678.1,358.7 680,354 C681.9,349.3 681.4,341.9 683.4,336.6 C685.4,331.3 688.5,326 692,322 C695.5,318 699.5,315.3 704.2,312.8 C708.9,310.3 714,309.5 720,307.1 C726,304.7 734.5,301.2 740,298.6 C745.5,296 749.6,294.5 752.9,291.4 C756.2,288.3 758.6,284.5 760,280 C761.4,275.5 761.9,269.5 761.4,264.3 C760.9,259.1 759,253.8 757.1,248.6 C755.2,243.4 752.4,237.4 750,232.9 C747.6,228.4 745.5,223.8 742.9,221.4 C740.3,219 737.2,219.9 734.3,218.6 C731.4,217.3 729,215.2 725.7,213.6 C722.4,212 718.3,209.3 714.3,208.9 C710.2,208.5 705.9,210 701.4,211.4 C696.9,212.8 692.6,214.5 687.1,217.1 C681.6,219.7 673.8,223.5 668.6,227.1 C663.4,230.7 658.6,235.3 655.7,238.6 C652.8,241.9 652.2,243.5 651.4,247.1 C650.6,250.7 650.6,255.2 650.7,260 C650.8,264.8 652.1,272.4 651.8,275.7 C651.5,279 649.7,279.6 648.7,279.6 Z" fill="none" stroke="#62a453" stroke-width="1.3"/>
<path d="M632.3,275.4 Q635.8,274.4 639.3,275.4 L639.3,283.4 A3.5,4.2 0 0 1 632.3,283.4 Z" fill="#69a565" stroke="#548f52" stroke-width="1" transform="rotate(-6 635.8 281.2)"/>
<path d="M656.7,271.4 Q660.2,270.4 663.7,271.4 L663.7,279.4 A3.5,4.2 0 0 1 656.7,279.4 Z" fill="#69a565" stroke="#548f52" stroke-width="1" transform="rotate(6 660.2 277.2)"/>
<path d="M639.2,287.2 Q642.7,286.2 646.2,287.2 L646.2,295.2 A3.5,4.2 0 0 1 639.2,295.2 Z" fill="#69a565" stroke="#548f52" stroke-width="1" transform="rotate(-3 642.7 293)"/>
<circle cx="632" cy="324" r="3.5" fill="#69a565" stroke="#548f52" stroke-width="1.2"/>
<circle cx="650.2" cy="319" r="3.5" fill="#69a565" stroke="#548f52" stroke-width="1.2"/>
<circle cx="667.7" cy="326.7" r="3.5" fill="#69a565" stroke="#548f52" stroke-width="1.2"/>
<circle cx="637.1" cy="335" r="3.5" fill="#69a565" stroke="#548f52" stroke-width="1.2"/>
<circle cx="642.7" cy="344.8" r="3.5" fill="#69a565" stroke="#548f52" stroke-width="1.2"/>
<circle cx="665.9" cy="343.3" r="3.5" fill="#69a565" stroke="#548f52" stroke-width="1.2"/>
<path d="M631.4,339.3 C629,341.2 622,347 617.1,350.7 C612.2,354.4 604.2,356.5 602.1,361.4 C600,366.3 606.5,376.6 604.3,380 C602,383.4 592.9,380.9 588.6,382.1 C584.3,383.3 580.3,386.3 578.6,387.1 M631.4,348.6 C629.3,350.3 621.9,355.5 618.6,358.6 C615.3,361.7 612.4,363.5 611.4,367.1 C610.4,370.7 615,376.7 612.9,380 C610.8,383.3 602.6,384.5 598.6,387.1 C594.6,389.7 591,391.9 588.6,395.7 C586.2,399.5 585,407.6 584.3,410 M638.6,351.4 C637.5,353.3 633.3,358.1 632.1,362.9 C630.9,367.7 632.9,375.2 631.4,380 C629.9,384.8 624.1,387.1 622.9,391.4 C621.7,395.7 625,401.8 624.3,405.7 C623.6,409.6 619.5,413.4 618.6,415 M639.3,361.4 C638.8,364 637.1,371.6 636.4,377.1 C635.7,382.6 635.1,389.1 635,394.3 C634.9,399.6 637,404.1 635.7,408.6 C634.4,413.1 628.1,417.7 627.1,421.4 C626.1,425.1 629.5,429.1 630,430.7 M642.9,368.6 C643.6,371 647.4,377.7 647.1,382.9 C646.9,388.1 641.8,394.5 641.4,400 C641,405.5 644.4,413.1 645,415.7 M655,376 C655.1,378.6 654.3,385.8 655.7,391.4 C657.1,396.9 662.3,406.3 663.6,409.3 M674.3,342.1 C675.7,344.6 680.5,352.5 682.9,357.1 C685.3,361.8 688.6,365.9 688.6,370 C688.6,374.1 683.7,377.5 682.9,381.4 C682.1,385.3 683.5,391.6 683.6,393.6" fill="none" stroke="#6b6a33" stroke-width="2.4" stroke-linecap="round"/>
<path d="M647.8,341 L648.4,357" fill="none" stroke="#6e6a33" stroke-width="2.2" stroke-linecap="round"/>
<path d="M662,348.6 C671,348.4 679.6,358 679.6,368 C679.6,376.5 671,378.6 662,378.6 C653,378.6 645,376.5 645,368 C645,358 653,348.8 662,348.6 Z" fill="#a07a54" stroke="#874c1c" stroke-width="2.8"/>
<circle cx="556.9" cy="312.6" r="0.7" fill="#444a66"/>
</g>
<g id="sexorg">
<path d="M702.3,376.8 C707.3,374.8 713.2,376.2 720,374.9 C721.6,375.6 721.7,386.7 720.6,394.7 C719.6,404 716.2,409.2 711.2,409.2 C706.3,409.2 703.3,404 702.1,394.7 C701,386.7 701.1,379.8 702.3,376.8 Z" fill="#4a9356" stroke="#2f6b3a" stroke-width="0.7"/>
<clipPath id="ac1701"><path d="M702.3,376.8 C707.3,374.8 713.2,376.2 720,374.9 C721.6,375.6 721.7,386.7 720.6,394.7 C719.6,404 716.2,409.2 711.2,409.2 C706.3,409.2 703.3,404 702.1,394.7 C701,386.7 701.1,379.8 702.3,376.8 Z"/></clipPath>
<path d="M705.3,391.9L698.9,391.9M705.9,389L700.2,382.5M707.6,386.7L703.7,375M710,385.5L708.7,370.9M712.7,385.5L714.2,371.1M715.1,386.9L719.2,375.5M716.7,389.2L722.5,383.2M701.3,395.4L707.3,396.4 M721.2,395.4L715.2,396.4M701.3,398.8L707.3,399.8 M721.2,398.8L715.2,399.8M701.3,402.3L707.3,403.3 M721.2,402.3L715.2,403.3M701.3,405.7L707.3,406.7 M721.2,405.7L715.2,406.7M705.3,391.9 A6,6.6 0 0 1 717.2,391.9M705.3,391.9 L706.5,407.2 M717.2,391.9 L716,407.2M711.2,375.1L711.2,385.9" stroke="#2f6b3a" stroke-width="0.75" fill="none" clip-path="url(#ac1701)"/>
<path d="M706.8,391.9 A4.5,4.5 0 1 1 715.7,391.9 C715.7,399.5 713.6,405 711.2,405 C708.9,405 706.8,399.5 706.8,391.9 Z" fill="#fff"/>
<circle cx="711.2" cy="391.9" r="2.8" fill="#93cf78" stroke="#2f6b3a" stroke-width="0.6"/>
<circle cx="711.2" cy="391.9" r="0.6" fill="#2f6b3a"/>
<circle cx="755" cy="391.8" r="11.8" fill="#4a9356" stroke="#2f6b3a" stroke-width="0.7"/>
<path d="M761.1,393L766.6,394.1M759.9,395.5L764.4,398.9M757.8,397.3L760.4,402.3M755.2,398L755.3,403.6M752.4,397.4L750.1,402.6M750.2,395.8L746,399.4M749,393.3L743.6,394.7M748.9,390.6L743.4,389.5M750.1,388.1L745.6,384.7M752.2,386.3L749.6,381.3M754.8,385.6L754.7,380M757.6,386.2L759.9,381M759.8,387.8L764,384.2M761,390.3L766.4,388.9" stroke="#2f6b3a" stroke-width="0.75" fill="none"/>
<circle cx="755" cy="391.8" r="6.2" fill="#e9f3e4" stroke="#2f6b3a" stroke-width="0.5"/>
<circle cx="755" cy="391.8" r="4.5" fill="#8fc47f"/>
<path d="M754.9,390.7 q0,0.3 0.4,2.5M753.9,391.7 q-1.2,-0.6 2,1.3M754.1,389.3 q1.4,1.4 2.8,0.8M755.4,391.2 q0.1,-1.3 -1.2,2.3M755,392.7 q-0.2,1 1.6,1.1M756.5,393.3 q-0.1,-0.7 -0.2,2.6M756.1,394.5 q-0.6,-0.8 -3.2,0M755.9,393.5 q1,-0.3 1.1,1.3M753.4,392.9 q1.2,-0.1 -2.9,0.4M754.6,390.2 q0.8,-0.7 -2.2,0.1M757.5,390.6 q-1.1,-0.8 2.1,0.6M757,388.8 q0.2,-0.2 1.6,0.5" stroke="#e9f3e4" stroke-width="0.7" fill="none" stroke-linecap="round"/>
<path d="M691.7,455.6 C696.7,453.3 703.1,455.2 709.7,453.6 C712.5,457.2 712.3,471.4 710.8,480.3 C710,486.4 707.4,489.5 704.5,488.6 C703.1,487.7 703.4,483.9 703.7,480.3 L698.2,480.3 C698.5,483.9 698.8,487.7 697.4,488.6 C694.5,489.5 691.9,486.4 691.1,480.3 C689.6,471.4 689.4,457.2 691.7,455.6 Z" fill="#4a9356" stroke="#2f6b3a" stroke-width="0.7"/>
<clipPath id="ac2690"><path d="M691.7,455.6 C696.7,453.3 703.1,455.2 709.7,453.6 C712.5,457.2 712.3,471.4 710.8,480.3 C710,486.4 707.4,489.5 704.5,488.6 C703.1,487.7 703.4,483.9 703.7,480.3 L698.2,480.3 C698.5,483.9 698.8,487.7 697.4,488.6 C694.5,489.5 691.9,486.4 691.1,480.3 C689.6,471.4 689.4,457.2 691.7,455.6 Z"/></clipPath>
<path d="M694.5,471.4L687.6,471.4M695.2,468.3L689,461.7M697,465.8L692.7,454M699.6,464.5L698.2,449.8M702.5,464.5L704.2,450M705.1,466L709.5,454.5M706.8,468.5L713.1,462.4M690.2,475L696.7,476 M711.7,475L705.2,476M690.2,478.5L696.7,479.5 M711.7,478.5L705.2,479.5M690.2,482.1L696.7,483.1 M711.7,482.1L705.2,483.1M690.2,485.6L696.7,486.6 M711.7,485.6L705.2,486.6M694.5,471.4 A6.5,7.1 0 0 1 707.4,471.4M694.5,471.4 L695.8,487.2 M707.4,471.4 L706.1,487.2M701,454.1L701,464.9" stroke="#2f6b3a" stroke-width="0.75" fill="none" clip-path="url(#ac2690)"/>
<path d="M696.7,471.4 A4.3,4.3 0 1 1 705.2,471.4 C705.2,478.5 703.5,482.1 703.1,487.1 L698.8,487.1 C698.4,482.1 696.7,478.5 696.7,471.4 Z" fill="#fff"/>
<circle cx="701" cy="471.4" r="2.9" fill="#93cf78" stroke="#2f6b3a" stroke-width="0.6"/>
<circle cx="701" cy="471.4" r="0.6" fill="#2f6b3a"/>
<path d="M701.9,492.4 q0.7,1.3 -1,2.6M702.4,491.5 q1.2,-1.2 2.3,0.2M701.1,491.2 q-1.5,-0.8 0.2,2M703.9,494.9 q0.9,-1.1 2,2.4M701.4,497.2 q-0.9,-0.9 -0.7,1.7M702.3,497.5 q0.1,0.5 -3,0.2M707.1,496 q1.2,-0.6 2.5,1.9M705.4,493.1 q-0.6,0.3 0.8,1.7M706,493.9 q1,-0.1 2.7,0M705.7,498.1 q1.4,-1.4 1.3,2M703.5,500.4 q-0.4,0.2 -2.1,2.1M704,501 q-0.9,0.8 1.7,0M706.5,496.5 q0.1,0.8 -3,0.7M708,498.2 q-1.4,1.3 2.6,0.9M707.4,498.3 q-0.5,1.3 2.1,0.6" stroke="#4f9a4a" stroke-width="0.9" fill="none" stroke-linecap="round"/>
<circle cx="747.7" cy="480.1" r="9.1" fill="none" stroke="#2f6b3a" stroke-width="6.1"/>
<circle cx="747.7" cy="480.1" r="9.1" fill="none" stroke="#4a9356" stroke-width="4.9"/>
<path d="M746.3,485.5 L744.6,492.7" stroke="#fff" stroke-width="4.7"/>
<path d="M754.2,481.4L759,482.4M753,484.1L756.9,487M750.7,486L752.9,490.3M742.6,484.3L738.9,487.5M741.3,481.7L736.6,482.9M741.2,478.8L736.4,477.8M742.4,476.1L738.5,473.2M744.7,474.2L742.5,469.9M747.5,473.5L747.4,468.6M750.4,474.1L752.4,469.6M752.8,475.9L756.5,472.7M754.1,478.5L758.8,477.3" stroke="#2f6b3a" stroke-width="0.75" fill="none"/>
<path d="M746.2,476 q-1.5,-0.4 0.2,2.6M746.3,477.4 q0.2,0.5 1.9,2.2M744.6,478.4 q-1.3,1 2.1,1M749.2,477.8 q1,-1.4 2.6,0.6M749.7,476.8 q1.5,1.3 3,0.6M748.5,477.5 q0.4,-1 2.1,0.8M745.6,482.1 q-0.3,-0.2 -1,1.4M746.3,479.6 q0.7,1.4 -0.7,2.3M746.2,480.7 q0.6,0.5 -2.7,0.2M749.3,482.1 q0.9,0 1.9,0.7M749.5,482.2 q-0.8,-0.2 2.9,0.3M748.4,482.3 q-1,0.6 1,2.7M747.2,479.5 q-1.3,-0.1 2,0.2M747.6,480.6 q-0.1,1.4 1.6,1.3M747.3,478.1 q0.7,1.2 2.7,1.5M746.1,482.6 q-0.8,-1.5 2,0M746.7,484.7 q0,-1.4 2.6,0.3M746.3,483.5 q-0.8,0.1 1.5,2.4" stroke="#4f9a4a" stroke-width="0.9" fill="none" stroke-linecap="round"/>
<path d="M747,491.7 q-1.5,0.5 -2.3,1.8M746.6,493.4 q-0.7,0.9 0.3,2.8M747.1,493.1 q-0.9,0.2 -1.5,1.7M750.5,496.1 q1,-0.5 -1.7,1.2M750.5,495.3 q-1.2,-0.9 2.8,0.8M750.9,495.8 q-0.9,0.5 -0.8,1.9M753.3,498.5 q0.4,0.6 1.3,2.8M750.5,498.1 q0.3,-0.6 -2.6,1.8M753.2,498.6 q-1.1,0.5 -0.5,1.7M754.4,495.3 q-0.9,1.1 1.1,1.6M755.4,495 q-0.5,1.2 -0.9,1.3M754.1,496.1 q-1.1,1.5 -0.8,1.9M751.8,500.2 q1.4,-0.8 2.2,0.4M751.5,501.7 q-0.2,1 -3,0.2M750.9,501.2 q-0.3,-1.2 -1.9,1.5M756,500.4 q-1,-1.4 -1.4,1.4M755.6,498.7 q-0.1,1.3 2.4,1M757.2,499.9 q-0.7,-0.1 1.6,1.6" stroke="#4f9a4a" stroke-width="0.9" fill="none" stroke-linecap="round"/>
<path d="M657.1,572 C665.2,569.7 674.8,571.6 685.6,570 C688.4,575 688.2,595.2 686.3,607.8 C685,616.4 681.2,620.7 676.2,619.8 C674.8,618.9 675.1,612.8 675.4,607.8 L667.8,607.8 C668.1,612.8 668.4,618.9 667,619.8 C662,620.7 658.2,616.4 656.9,607.8 C655,595.2 654.8,575 657.1,572 Z" fill="#4a9356" stroke="#2f6b3a" stroke-width="0.7"/>
<clipPath id="ac3655"><path d="M657.1,572 C665.2,569.7 674.8,571.6 685.6,570 C688.4,575 688.2,595.2 686.3,607.8 C685,616.4 681.2,620.7 676.2,619.8 C674.8,618.9 675.1,612.8 675.4,607.8 L667.8,607.8 C668.1,612.8 668.4,618.9 667,619.8 C662,620.7 658.2,616.4 656.9,607.8 C655,595.2 654.8,575 657.1,572 Z"/></clipPath>
<path d="M661,598.2L651.8,598.2M662.1,593.1L653.8,584.5M665.1,589.1L659.4,573.6M669.4,586.9L667.5,567.7M674.2,587L676.4,567.9M678.4,589.3L684.4,574.3M681.2,593.5L689.7,585.5M655.6,602.7L665.2,603.7 M687.6,602.7L678,603.7M655.6,607.1L665.2,608.1 M687.6,607.1L678,608.1M655.6,611.5L665.2,612.5 M687.6,611.5L678,612.5M655.6,616L665.2,617 M687.6,616L678,617M661,598.2 A10.6,11.6 0 0 1 682.2,598.2M661,598.2 L663.9,618.4 M682.2,598.2 L679.3,618.4M671.6,570.5L671.6,587.7" stroke="#2f6b3a" stroke-width="0.75" fill="none" clip-path="url(#ac3655)"/>
<ellipse cx="671.6" cy="599.4" rx="5.5" ry="9.1" fill="#8ccb6c" stroke="#e6f2df" stroke-width="1"/>
<path d="M668.1,596.2 h7 M667.6,599.7 h8 M668.1,603.2 h7" stroke="#a6d98a" stroke-width="0.7" stroke-dasharray="1 0.8"/>
</g>
<g id="youngsp">
<path d="M437.5,649.9 C438.2,645.6 441.6,635.2 445,630.6 C448.4,626 453.5,624.1 457.8,622 C462.1,619.9 466.4,618 470.7,617.8 C475,617.6 478.5,619.4 483.5,621 C488.5,622.6 495.8,624.7 500.6,627.4 C505.4,630.1 509.7,633.3 512.4,637 C515.1,640.7 515.9,648.1 516.9,649.5 C517.9,650.9 517.8,648 518.6,645.6 C519.5,643.2 518.9,638.3 522,634.9 C525.1,631.5 532,627.7 537,625.2 C542,622.7 547.5,621.2 552,619.9 C556.5,618.6 559.9,617.1 563.8,617.3 C567.7,617.5 571.4,619.1 575.5,621 C579.6,622.9 585,625.1 588.4,628.5 C591.8,631.9 594.3,637.4 595.9,641.3 C597.5,645.2 598.5,648.8 598,652 C597.5,655.2 596.5,658.1 592.7,660.6 C589,663.1 581.6,664.5 575.5,667 C569.4,669.5 561.6,672.6 556.3,675.5 C550.9,678.4 546.6,681.2 543.4,684.1 C540.2,687 539.9,690.4 537,692.7 C534.1,695 529.9,696.9 526.3,698 C522.7,699.1 519.2,699.6 515.6,699.1 C512,698.6 507.8,697.3 504.9,694.8 C502,692.3 500.6,687.7 498.5,684.1 C496.4,680.5 496.4,676.8 492.1,673.4 C487.8,670 479.6,666.3 472.8,663.8 C466,661.3 456.8,659.6 451.4,658.4 C446,657.1 443,657.7 440.7,656.3 C438.4,654.9 436.8,654.2 437.5,649.9 Z" fill="#9acb86" stroke="#86bf70" stroke-width="1"/>
<path d="M446.1,632.7 C448.2,628.6 453.7,627.2 457.8,625.2 C461.9,623.2 466.4,621.2 470.7,621 C475,620.8 478.5,622.6 483.5,624.2 C488.5,625.8 496,627.9 500.6,630.6 C505.2,633.3 509,636.6 511.3,640.2 C513.6,643.8 515.2,648.1 514.5,652 C513.8,655.9 512.3,662.7 507.1,663.8 C501.9,664.9 492.1,659.8 483.5,658.4 C474.9,657 462.1,656.6 455.7,655.2 C449.3,653.8 446.6,653.6 445,649.9 C443.4,646.1 444,636.8 446.1,632.7 Z" fill="#87bc71"/>
<path d="M519.9,649.9 C520.8,646 520.2,640.6 523.1,637 C526,633.4 532.2,630.8 537,628.5 C541.8,626.2 547.5,624.5 552,623.1 C556.5,621.7 559.9,620.1 563.8,620.3 C567.7,620.5 571.6,622.5 575.5,624.2 C579.4,625.9 584.3,627.6 587.3,630.6 C590.3,633.6 592.5,638.8 593.7,642.4 C595,646 595.7,649.3 594.8,652 C593.9,654.7 592.7,656.4 588.4,658.4 C584.1,660.4 575.9,662 569.1,663.8 C562.3,665.6 554.1,668.6 547.7,669.1 C541.3,669.6 535.6,668.4 530.6,667 C525.6,665.6 519.6,663.5 517.8,660.6 C516,657.8 519,653.8 519.9,649.9 Z" fill="#87bc71"/>
<path d="M478,627 C484,629 488,633 490,637 C485,635 480,632 476,630 Z M462,622.5 C468,622.5 471,624 473,626 C468,625.5 464,625 460,625 Z M449,637 C452,633 456,631 460,630 C455,634 452,640 451,646 C449,644 448,640 449,637 Z" fill="#a4d190"/>
<path d="M556,634 C564,630 572,627 580,627 C574,629.5 566,633 560,636 Z M572,622 C577,622.5 581,624.5 583,627 C579,626 575,625 571,625 Z" fill="#a4d190"/>
<path d="M506.3,683.4 C504.5,684.7 498.7,688.9 495.7,691.4 C492.7,693.9 489.6,695.7 488.5,698.5 C487.4,701.3 490.6,706.4 489.4,708.3 C488.2,710.2 483.9,709.4 481.4,710.1 C478.9,710.9 475.5,712.3 474.3,712.8 M505.5,688.7 C503.9,690 497.8,693.9 495.7,696.7 C493.6,699.5 494.5,703 493,705.7 C491.5,708.4 488.9,710.9 486.7,712.8 C484.5,714.7 481.1,714.8 479.6,717.2 C478.1,719.6 478.1,725.4 477.8,727 M510.8,691.4 C510.2,692.7 507.6,696.6 507.2,699.4 C506.8,702.2 509.1,704.9 508.1,708.3 C507.1,711.7 504.3,717.5 501,719.9 C497.7,722.3 491.2,720.2 488.5,722.6 C485.8,725 485.6,732.3 485,734.2 M517,685.2 C517,686.8 517.6,691.9 517,695 C516.4,698.1 513.5,700.4 513.5,703.9 C513.5,707.4 516.3,712.7 517,716.3 C517.7,719.9 517.8,723.8 517.9,725.3 M523.3,698.5 C522.8,700.3 520.8,705.6 520.6,709.2 C520.5,712.8 521.5,717.1 522.4,719.9 C523.3,722.7 525.4,725.1 526,726.1 M532.2,685.2 C532.9,686.8 535.1,691.9 536.6,695 C538.1,698.1 540.8,701.2 541.1,703.9 C541.4,706.6 538.9,708.9 538.4,711 C537.9,713.1 538.4,715.4 538.4,716.3 M504.6,730.6 C503.4,731.8 499.3,735.6 497.4,737.7 C495.5,739.8 493.7,741.2 493,743.1 C492.3,745 493,748.3 493,749.3 M505.5,744.9 C504.6,746.1 501.6,748.7 500.1,752 C498.6,755.3 497.1,762.4 496.5,764.5 M506.3,741.3 C507.5,742.5 511.7,745.7 513.5,748.4 C515.3,751.1 516.7,754.2 517,757.3 C517.3,760.4 515.6,765.5 515.3,767.1 M507.2,755.6 C508.1,756.8 511.6,759.9 512.6,762.7 C513.6,765.5 513.4,770.9 513.5,772.5 M504.6,759.1 C504.2,760.9 502.3,765.6 501.9,769.8 C501.4,774 501.9,781.7 501.9,784.1 M509,723.5 C509.3,725 510.7,729.7 510.8,732.4 C510.9,735.1 510,738.3 509.9,739.5 M505.5,711 C504.8,711.9 501.6,714.2 501,716.3 C500.4,718.4 502.3,721.3 501.9,723.5 C501.4,725.7 498.9,728.7 498.3,729.7" fill="none" stroke="#6b6632" stroke-width="1.7" stroke-linecap="round"/>
<path d="M511.7,697.6 C510.9,700.4 508.4,708.8 507.2,714.6 C506,720.4 504.9,726.5 504.6,732.4 C504.3,738.3 504.8,744.3 505.5,750.2 C506.2,756.1 509,762 509,768 C509,774 506,778.8 505.5,785.9 C505,793 505.8,806.6 505.8,810.8" fill="none" stroke="#6b6632" stroke-width="2.6" stroke-linecap="round"/>
<path d="M511.7,697.6 C510.9,700.4 508.4,708.8 507.2,714.6 C506,720.4 504.9,726.5 504.6,732.4 C504.3,738.3 504.8,744.3 505.5,750.2 C506.2,756.1 509,762 509,768 C509,774 506.1,780.6 505.5,785.9 C504.9,791.2 505.7,797.6 505.7,800" fill="none" stroke="#c49a3c" stroke-width="1.3" stroke-linecap="round"/>
<path d="M516.2,643 C515.6,646 515.8,650 517,653 C517.8,650 518.4,646.5 519,643.5 C518,644 517,643.8 516.2,643 Z" fill="#fff"/>
<path d="M516.8,661.5 C523,654 526.5,646 527.3,630 C528,612 526.5,590 526.3,570 L530.4,570 C530.6,590 532,612 531.3,630 C530.6,648 526,656.5 519,662 Z" fill="#8dc63f" stroke="#6fae35" stroke-width="0.8"/>
<path d="M529.6,572 C529.8,590 531,612 530.2,630 C529.6,645 526,654 520.5,660" fill="none" stroke="#74b238" stroke-width="1.1"/>
<path d="M528.4,570.6 C526.5,570.4 523.3,569.1 521,568.2 C518.7,567.3 514.9,566 513,564.5 C511.1,563 508.6,560.2 508.3,558 C508,555.8 509.5,552.1 511,550 C512.5,547.9 516.1,545.3 518,544 C519.9,542.7 522.2,541.5 523.5,541.6 C524.8,541.7 526.2,543.4 526.8,544.5 C527.4,545.6 527.3,547.7 527.6,549 C527.9,550.3 528.3,553.4 528.6,553.3 C528.9,553.2 529.2,549.9 529.6,548.5 C530,547.1 530.4,545 531.2,544 C532,543 533.5,541.9 535,542 C536.5,542.1 539.3,543.7 541,545 C542.7,546.3 545.3,548.9 546.5,550.5 C547.7,552.1 548.9,554.3 548.9,556 C548.9,557.7 547.8,560.4 546.5,562 C545.2,563.6 542,565.4 540,566.5 C538,567.6 535.2,568.7 533.5,569.3 C531.8,569.9 530.3,570.8 528.4,570.6 Z" fill="#8dc63f" stroke="#6fae35" stroke-width="0.9"/>
<path d="M527.3,544.2 C527.6,548 528,551 528.6,553.8 C529.2,551 529.4,548 529.6,544.6" fill="#fff" stroke="#6fae35" stroke-width="0.7"/>
</g>
<g id="arrows">
<path d="M201.8,169.9 Q219.6,152.8 239.9,138.7 Q237.6,135.7 233.7,134.3 L249.3,133.7 L241.2,146.6 Q241.7,142.4 239.9,138.7 Q220.9,153.6 212.5,176.2 Q211,166.8 201.8,169.9 Z" fill="#e31e24"/>
<path d="M348.8,85.9 Q374.2,80.7 399.8,84.6 Q399.7,80.6 397.3,77.1 L410.2,85.5 L396.3,91.5 Q399.1,88.5 399.8,84.6 Q375.7,85 355.8,98.7 Q358.5,89.3 348.8,85.9 Z" fill="#e31e24"/>
<path d="M547.7,105 Q569.3,117.7 588.1,134.2 Q590.1,131.4 590.4,127.3 L594.6,142.7 L580.4,137.3 Q584.6,136.9 588.1,134.2 Q568.1,121.2 544.6,117.1 Q553.9,113.6 547.7,105 Z" fill="#e31e24"/>
<path d="M638.5,165.1 Q655.9,182.9 669.5,203.7 Q672.5,201.4 673.9,197.5 L674.3,212.9 L662,205.3 Q666,205.7 669.5,203.7 Q653.9,186 632.6,176 Q643.9,174.2 638.5,165.1 Z" fill="#e31e24"/>
<path d="M729.2,319.3 Q734.7,343.6 735.4,368.5 Q739.4,367.9 742.8,365.3 L734.5,378.5 L728.2,365.9 Q731.3,368.3 735.4,368.5 Q732.9,344.8 719.2,325.4 Q728.6,330.4 729.2,319.3 Z" fill="#e31e24"/>
<path d="M711.4,417.4 Q710.4,429.4 710.5,441.5 Q708.6,441.4 706.9,440.3 L710.8,446.3 L713.8,440.7 Q712.4,441.6 710.5,441.5 Q711.8,430.6 717,420.9 Q711.4,424.6 711.4,417.4 Z" fill="#e31e24"/>
<path d="M759.2,425.2 Q757.4,437.8 753.2,449.8 Q755.2,449.4 757.2,448.3 L751.8,453 L750.9,448 Q751.8,449.2 753.2,449.8 Q755.7,438.4 752.7,427.2 Q752.8,431.8 759.2,425.2 Z" fill="#e31e24"/>
<path d="M736.6,497 Q729,496.8 721.7,498.6 Q721.4,497.5 722.1,496.8 L717,497.7 L720.6,501.3 Q720.5,500 721.7,498.6 Q730.5,498.3 738.7,501.5 Q734.4,499.1 736.6,497 Z" fill="#e31e24"/>
<path d="M716.4,513.9 Q710.2,539.7 693.2,560.2 Q697,561.7 701.4,561.1 L687.5,568.4 L689.4,554.8 Q690.4,558.2 693.2,560.2 Q705.4,538.9 702.7,514.5 Q709.2,528.2 716.4,513.9 Z" fill="#e31e24"/>
<path d="M656.7,616.9 Q639.7,636 618.1,649.6 Q620.5,652.4 624.4,653.4 L609.1,655.7 L616.2,643.3 Q616,646.9 618.1,649.6 Q636.4,634.4 644.1,611.9 Q649.2,624 656.7,616.9 Z" fill="#e31e24"/>
<path d="M440.3,719.7 Q417,719.6 395.5,728.5 Q396.2,724.3 399.1,721.6 L384.6,725.4 L396.2,735.6 Q394.6,732 395.5,728.5 Q421.2,724.3 445.6,733.2 Q436.1,726.1 440.3,719.7 Z" fill="#e31e24"/>
<path d="M178.8,588.2 Q164,570.9 146.4,556.4 Q149.6,554.9 153,555.8 L142.5,546.5 L140.3,561.9 Q142.6,558.2 146.4,556.4 Q163.8,575.4 170.8,600.3 Q170.6,588.8 178.8,588.2 Z" fill="#e31e24"/>
</g>
<g id="lines">
<line x1="95.7" y1="222.3" x2="118.6" y2="270" stroke="#000" stroke-width="1.7"/>
<line x1="95.7" y1="222.3" x2="208.6" y2="254.9" stroke="#000" stroke-width="1.7"/>
<line x1="418.6" y1="47.3" x2="436.2" y2="68.3" stroke="#000" stroke-width="1.7"/>
<line x1="715.3" y1="157.5" x2="664.6" y2="276.4" stroke="#000" stroke-width="1.7"/>
<line x1="715.6" y1="157.5" x2="681.1" y2="308.6" stroke="#000" stroke-width="1.7"/>
<line x1="771" y1="271.5" x2="703.6" y2="289.6" stroke="#000" stroke-width="1.7"/>
</g>
<g id="labels">
<text x="14.8" y="218.2" textLength="133.7" lengthAdjust="spacingAndGlyphs" style="font-family:'Liberation Serif',serif;font-size:28.6px;fill:#000">Спорангии</text>
<text x="378.2" y="41.2" textLength="83" lengthAdjust="spacingAndGlyphs" style="font-family:'Liberation Serif',serif;font-size:28.6px;fill:#000">Споры</text>
<text x="652.7" y="130.8" textLength="242" lengthAdjust="spacingAndGlyphs" style="font-family:'Liberation Serif',serif;font-size:28.6px;fill:#000">Женские и мужские</text>
<text x="677.9" y="154.7" textLength="197.9" lengthAdjust="spacingAndGlyphs" style="font-family:'Liberation Serif',serif;font-size:28.6px;fill:#000">половые органы</text>
<text x="769.3" y="261.4" textLength="131.9" lengthAdjust="spacingAndGlyphs" style="font-family:'Liberation Serif',serif;font-size:28.6px;fill:#000">Гаметофит</text>
<text x="775.5" y="284.9" textLength="124" lengthAdjust="spacingAndGlyphs" style="font-family:'Liberation Serif',serif;font-size:28.6px;fill:#000">(заросток)</text>
<text x="232.9" y="807.9" textLength="124.6" lengthAdjust="spacingAndGlyphs" style="font-family:'Liberation Serif',serif;font-size:28.6px;fill:#000">Спорофит</text>
</g>
</svg>
</body></html>
